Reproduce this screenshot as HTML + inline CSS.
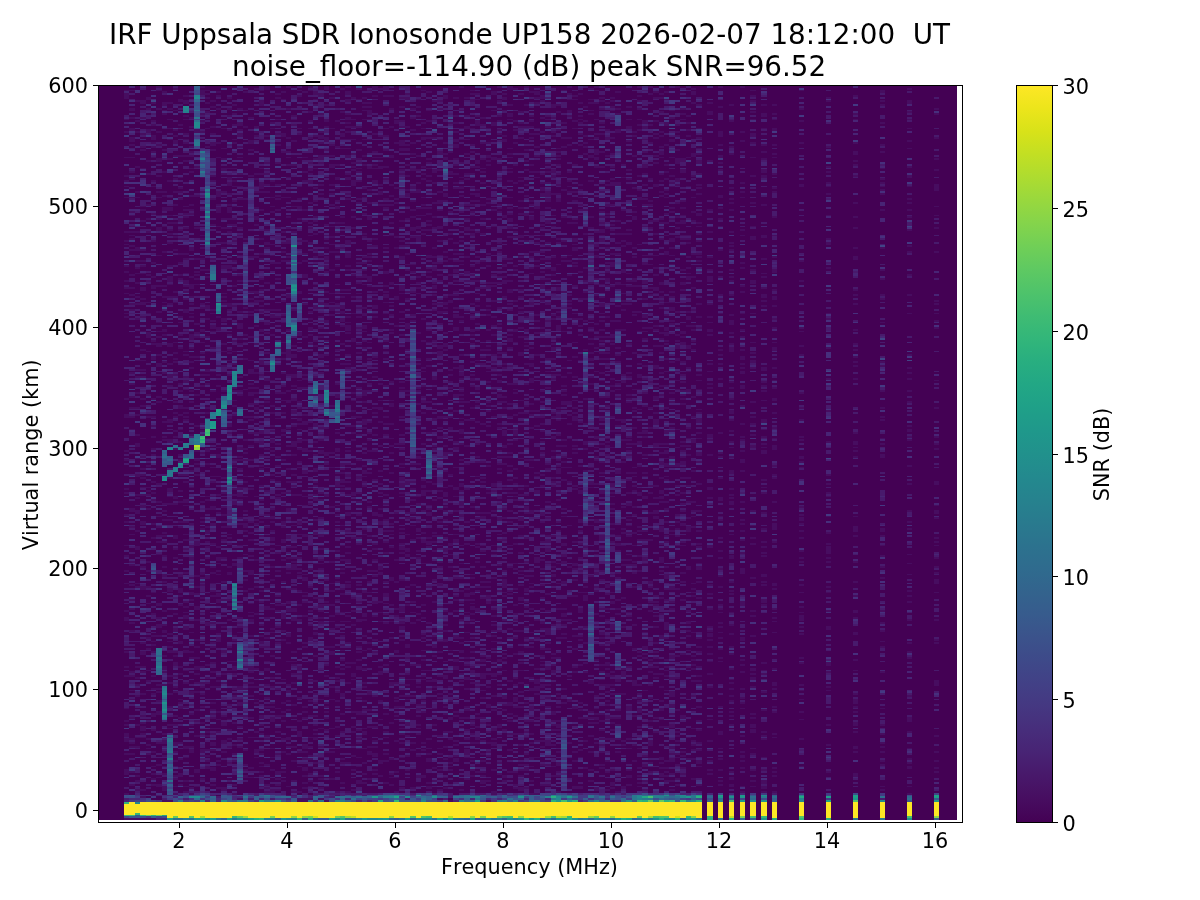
<!DOCTYPE html>
<html><head><meta charset="utf-8"><title>Ionogram</title>
<style>html,body{margin:0;padding:0;background:#fff}svg{display:block}text{fill:#000;font-kerning:none}</style>
</head><body>
<svg width="1200" height="900" viewBox="0 0 1200 900" font-family="DejaVu Sans, Liberation Sans, sans-serif">
<defs><clipPath id="ax"><rect x="98.5" y="85.5" width="864" height="737"/></clipPath>
<linearGradient id="cb" x1="0" y1="0" x2="0" y2="1"><stop offset="0.0000" stop-color="#fde725"/><stop offset="0.0312" stop-color="#ece51b"/><stop offset="0.0625" stop-color="#d8e219"/><stop offset="0.0938" stop-color="#c2df23"/><stop offset="0.1250" stop-color="#addc30"/><stop offset="0.1562" stop-color="#98d83e"/><stop offset="0.1875" stop-color="#84d44b"/><stop offset="0.2188" stop-color="#70cf57"/><stop offset="0.2500" stop-color="#5ec962"/><stop offset="0.2812" stop-color="#4ec36b"/><stop offset="0.3125" stop-color="#3fbc73"/><stop offset="0.3438" stop-color="#32b67a"/><stop offset="0.3750" stop-color="#28ae80"/><stop offset="0.4062" stop-color="#22a785"/><stop offset="0.4375" stop-color="#1fa088"/><stop offset="0.4688" stop-color="#1f988b"/><stop offset="0.5000" stop-color="#21918c"/><stop offset="0.5312" stop-color="#23898e"/><stop offset="0.5625" stop-color="#26828e"/><stop offset="0.5938" stop-color="#297a8e"/><stop offset="0.6250" stop-color="#2c728e"/><stop offset="0.6562" stop-color="#2f6b8e"/><stop offset="0.6875" stop-color="#33638d"/><stop offset="0.7188" stop-color="#375b8d"/><stop offset="0.7500" stop-color="#3b528b"/><stop offset="0.7812" stop-color="#3e4989"/><stop offset="0.8125" stop-color="#424086"/><stop offset="0.8438" stop-color="#453781"/><stop offset="0.8750" stop-color="#472d7b"/><stop offset="0.9062" stop-color="#482374"/><stop offset="0.9375" stop-color="#48186a"/><stop offset="0.9688" stop-color="#470d60"/><stop offset="1.0000" stop-color="#440154"/></linearGradient></defs>
<rect width="1200" height="900" fill="#fff"/>
<g clip-path="url(#ax)"><rect x="97.00" y="84.125" width="860.00" height="735.875" fill="#440154"/><g transform="translate(97.000,84.1250) scale(5.4000,1.8125)" fill="none" stroke-width="1" shape-rendering="crispEdges"><path stroke="#470d60" d="M5.5 3v1m0 1v3m0 11v1m0 6v1m0 13v1m0 9v1m0 2v1m0 2v1m0 5v1m0 18v1m0 4v1m0 1v1m0 11v1m0 2v1m0 4v1m0 3v1m0 2v1m0 10v1m0 1v1m0 44v1m0 8v2m0 18v1m0 4v1m0 15v1m0 1v1m0 11v1m0 3v1m0 12v1m0 5v1m0 7v1m0 6v1m0 14v1m0 3v2m0 17v1m0 7v1m0 4v1m0 17v1m0 6v1m0 1v1m0 4v2m0 1v2m0 6v1m0 8v3m0 10v1m0 13v1M6.5 3v1m0 9v2m0 3v1m0 5v2m0 3v3m0 1v1m0 6v1m0 7v1m0 3v1m0 9v1m0 7v1m0 1v1m0 5v1m0 2v1m0 1v1m0 1v1m0 3v1m0 1v1m0 13v1m0 6v1m0 3v1m0 4v1m0 2v1m0 34v1m0 5v1m0 6v1m0 5v1m0 4v1m0 6v1m0 36v1m0 6v2m0 2v1m0 5v1m0 3v1m0 14v1m0 1v1m0 10v1m0 7v1m0 4v1m0 7v1m0 3v1m0 22v1m0 1v1m0 7v1m0 4v1m0 9v1m0 11v1m0 1v1m0 1v1m0 3v1m0 9v1m0 6v1m0 18v1M7.5 9v1m0 10v1m0 5v1m0 18v1m0 13v1m0 2v1m0 18v1m0 8v2m0 5v1m0 3v1m0 2v1m0 4v1m0 7v1m0 3v1m0 7v1m0 22v1m0 4v1m0 3v1m0 8v1m0 7v1m0 3v1m0 10v1m0 4v2m0 6v1m0 8v2m0 9v1m0 1v1m0 6v2m0 9v1m0 8v2m0 18v1m0 1v1m0 43v1m0 5v1m0 3v1m0 5v1m0 15v1m0 6v1m0 4v1m0 15v1m0 2v1m0 4v1m0 15v1M8.5 9v2m0 7v1m0 8v1m0 6v1m0 1v1m0 9v1m0 20v1m0 1v1m0 5v1m0 15v1m0 5v1m0 2v1m0 3v1m0 7v2m0 4v1m0 1v2m0 6v1m0 7v1m0 9v1m0 5v1m0 4v1m0 3v1m0 11v1m0 3v1m0 17v1m0 9v1m0 6v1m0 2v1m0 1v1m0 4v1m0 3v1m0 5v2m0 7v2m0 23v1m0 10v2m0 17v1m0 11v1m0 4v2m0 6v1m0 2v1m0 11v1m0 11v1m0 3v1m0 1v3m0 1v1m0 1v1m0 28v1m0 3v1m0 11v1M9.5 0v1m0 6v2m0 4v1m0 11v2m0 15v1m0 6v1m0 16v1m0 7v1m0 6v1m0 23v1m0 2v1m0 11v1m0 5v1m0 10v3m0 7v1m0 23v1m0 11v1m0 26v1m0 11v1m0 1v1m0 1v1m0 7v1m0 28v1m0 4v1m0 8v1m0 4v1m0 3v1m0 18v1m0 5v1m0 11v1m0 5v1m0 31v1m0 2v1m0 1v1m0 2v1m0 35v1M10.5 10v1m0 9v1m0 1v1m0 5v3m0 1v1m0 1v1m0 2v1m0 2v1m0 12v1m0 2v1m0 14v1m0 6v1m0 7v1m0 11v1m0 7v1m0 4v2m0 28v1m0 1v1m0 6v2m0 21v1m0 9v1m0 4v1m0 5v1m0 6v1m0 2v1m0 2v1m0 11v1m0 5v1m0 3v1m0 12v1m0 7v1m0 29v1m0 11v1m0 11v1m0 2v1m0 1v1m0 3v1m0 12v1m0 6v1m0 2v1m0 10v2m0 7v1m0 11v1m0 7v1m0 3v1m0 2v1m0 2v1m0 5v1m0 12v1M11.5 1v1m0 1v1m0 9v1m0 12v1m0 6v1m0 7v2m0 7v1m0 8v1m0 2v1m0 9v1m0 1v1m0 4v2m0 13v1m0 16v1m0 13v1m0 5v1m0 4v1m0 2v1m0 3v2m0 4v1m0 4v2m0 16v1m0 2v1m0 44v1m0 9v1m0 7v1m0 5v1m0 4v1m0 2v1m0 6v1m0 26v2m0 6v1m0 3v2m0 4v1m0 26v1m0 1v1m0 1v1m0 4v1m0 5v2m0 15v1m0 11v1m0 6v1m0 3v2M12.5 0v1m0 3v1m0 5v2m0 2v1m0 1v1m0 19v1m0 11v1m0 10v1m0 1v1m0 6v2m0 8v1m0 13v1m0 18v1m0 5v1m0 2v1m0 1v1m0 12v2m0 1v1m0 14v1m0 5v1m0 26v1m0 7v1m0 1v1m0 34v1m0 3v1m0 4v1m0 6v1m0 1v1m0 2v1m0 7v1m0 5v1m0 3v2m0 2v1m0 15v1m0 7v1m0 2v2m0 12v1m0 5v2m0 1v1m0 6v1m0 26v1m0 3v2m0 4v1m0 1v1m0 5v1m0 3v1m0 6v3m0 5v1M13.5 10v1m0 2v1m0 5v1m0 4v1m0 5v1m0 10v1m0 11v1m0 8v1m0 5v2m0 2v1m0 3v1m0 3v1m0 1v1m0 4v1m0 12v1m0 5v3m0 1v1m0 6v1m0 3v1m0 21v2m0 9v1m0 5v2m0 1v1m0 2v1m0 18v2m0 9v2m0 19v1m0 5v2m0 2v1m0 3v1m0 8v1m0 37v2m0 23v1m0 3v1m0 2v1m0 1v2m0 12v1m0 3v1m0 5v1m0 6v1m0 9v1m0 1v1m0 39v1M14.5 0v1m0 1v1m0 11v1m0 10v1m0 2v1m0 2v2m0 6v1m0 12v1m0 6v1m0 6v1m0 9v1m0 7v1m0 6v1m0 22v1m0 2v1m0 2v1m0 21v1m0 5v1m0 2v1m0 1v1m0 6v1m0 14v1m0 5v1m0 1v1m0 7v1m0 2v1m0 6v1m0 12v1m0 12v2m0 2v1m0 17v2m0 5v1m0 4v1m0 30v1m0 7v2m0 11v1m0 1v1m0 3v2m0 5v1m0 5v1m0 2v1m0 12v1m0 4v1m0 9v2m0 3v1m0 4v1m0 2v1m0 4v1m0 1v1m0 3v1m0 3v1M15.5 8v2m0 12v1m0 16v1m0 11v1m0 5v1m0 1v1m0 3v1m0 8v1m0 1v2m0 2v1m0 1v1m0 4v1m0 7v1m0 4v1m0 6v1m0 1v1m0 20v1m0 2v1m0 6v1m0 6v1m0 19v1m0 3v1m0 7v2m0 3v1m0 7v1m0 6v1m0 6v1m0 2v1m0 7v1m0 8v1m0 5v1m0 10v1m0 2v1m0 25v2m0 6v3m0 1v1m0 4v1m0 9v1m0 9v2m0 12v1m0 3v1m0 13v1m0 1v1m0 1v2m0 4v1m0 13v1m0 8v1m0 7v2m0 4v1M16.5 6v1m0 2v2m0 6v1m0 1v1m0 7v1m0 2v1m0 1v1m0 6v1m0 2v1m0 24v1m0 1v1m0 1v1m0 1v1m0 5v1m0 2v1m0 2v1m0 7v1m0 2v1m0 7v1m0 3v2m0 1v1m0 2v1m0 3v1m0 5v2m0 10v1m0 10v1m0 1v1m0 11v1m0 1v2m0 3v1m0 2v1m0 6v1m0 2v1m0 1v1m0 1v1m0 29v1m0 3v1m0 9v2m0 1v1m0 8v1m0 6v1m0 2v1m0 4v1m0 12v1m0 15v1m0 2v1m0 2v1m0 1v2m0 4v2m0 11v2m0 9v1m0 6v1m0 12v1m0 21v2m0 4v1m0 12v1m0 2v1m0 2v1M17.5 18v1m0 4v1m0 10v1m0 2v1m0 1v1m0 6v1m0 1v1m0 12v1m0 4v1m0 2v1m0 1v1m0 18v2m0 14v1m0 3v3m0 4v1m0 3v1m0 4v1m0 1v1m0 7v1m0 1v3m0 4v1m0 4v1m0 2v1m0 2v1m0 12v1m0 5v1m0 17v1m0 19v1m0 8v1m0 9v1m0 9v1m0 11v2m0 5v2m0 9v1m0 5v1m0 1v2m0 2v1m0 17v1m0 4v1m0 5v1m0 2v1m0 18v2m0 10v1m0 5v1m0 11v1m0 1v2m0 19v1m0 2v1M18.5 25v2m0 18v1m0 15v1m0 17v1m0 16v1m0 6v1m0 1v1m0 1v1m0 2v1m0 21v1m0 4v1m0 1v1m0 10v1m0 20v1m0 16v1m0 13v1m0 4v1m0 1v1m0 1v1m0 3v1m0 36v3m0 16v1m0 5v1m0 3v1m0 6v2m0 5v1m0 10v1m0 3v1m0 5v1m0 4v2m0 2v1m0 4v1m0 4v1m0 9v1m0 5v1m0 7v1m0 18v2m0 7v1M19.5 1v1m0 1v3m0 10v1m0 3v1m0 5v1m0 24v1m0 7v1m0 7v1m0 15v1m0 1v1m0 4v1m0 5v1m0 5v1m0 18v1m0 1v1m0 11v2m0 5v1m0 5v1m0 2v1m0 6v1m0 1v1m0 2v1m0 2v1m0 20v1m0 3v1m0 8v1m0 2v1m0 26v1m0 8v1m0 1v1m0 3v1m0 11v1m0 11v2m0 1v1m0 1v1m0 1v1m0 3v1m0 2v1m0 7v1m0 12v1m0 16v1m0 8v1m0 1v1m0 3v1m0 6v1m0 8v1m0 5v1m0 8v2m0 1v1m0 12v1M20.5 3v1m0 1v1m0 1v1m0 2v1m0 4v1m0 8v1m0 9v1m0 67v1m0 3v1m0 15v2m0 5v1m0 9v1m0 7v1m0 9v2m0 1v1m0 4v1m0 12v1m0 2v1m0 13v1m0 5v2m0 6v1m0 11v1m0 5v1m0 1v1m0 4v1m0 9v1m0 1v2m0 4v1m0 2v1m0 5v1m0 9v2m0 13v1m0 2v1m0 7v2m0 21v1m0 6v1m0 2v1m0 26v1m0 1v1m0 7v1m0 2v1m0 2v1m0 2v2M21.5 9v1m0 2v1m0 10v1m0 3v1m0 4v2m0 2v1m0 8v1m0 4v1m0 2v1m0 9v1m0 13v1m0 18v1m0 2v1m0 24v1m0 1v1m0 3v1m0 2v2m0 1v1m0 8v1m0 12v1m0 10v1m0 41v1m0 4v1m0 2v1m0 7v1m0 5v2m0 7v2m0 9v1m0 5v1m0 4v1m0 1v1m0 2v1m0 5v1m0 3v1m0 2v1m0 11v1m0 2v1m0 2v1m0 7v1m0 1v1m0 8v1m0 4v1m0 7v1m0 8v1m0 3v1m0 1v1m0 1v1m0 5v1m0 2v1m0 4v2m0 2v1m0 9v2m0 7v1M22.5 0v1m0 3v1m0 1v1m0 6v1m0 18v1m0 7v1m0 18v3m0 4v1m0 1v3m0 7v1m0 8v1m0 40v1m0 5v2m0 19v1m0 4v1m0 5v1m0 6v1m0 10v1m0 15v1m0 3v2m0 10v1m0 9v1m0 9v1m0 18v1m0 5v2m0 1v1m0 3v1m0 1v1m0 10v2m0 1v2m0 17v1m0 1v3m0 18v1m0 2v1m0 2v1m0 1v1m0 11v1m0 3v1m0 4v1m0 1v1m0 13v1m0 1v1m0 1v1m0 12v1M23.5 24v1m0 10v1m0 5v1m0 4v2m0 1v1m0 9v1m0 14v1m0 4v1m0 7v1m0 2v1m0 9v2m0 13v1m0 1v1m0 1v1m0 1v1m0 7v2m0 12v1m0 3v1m0 7v1m0 13v1m0 1v1m0 17v1m0 27v1m0 4v2m0 1v1m0 7v1m0 3v1m0 6v1m0 6v1m0 9v1m0 12v1m0 9v1m0 6v1m0 7v1m0 12v2m0 11v1m0 4v1m0 17v1m0 3v2m0 8v2m0 4v1m0 19v2M24.5 0v1m0 6v1m0 5v1m0 3v1m0 7v1m0 20v1m0 4v2m0 1v2m0 4v1m0 5v1m0 1v3m0 3v1m0 2v1m0 1v1m0 1v1m0 6v1m0 11v2m0 19v2m0 1v1m0 1v1m0 11v1m0 7v1m0 1v1m0 3v1m0 7v1m0 22v2m0 2v2m0 3v1m0 51v1m0 3v1m0 1v1m0 2v1m0 12v1m0 2v2m0 13v1m0 1v2m0 7v1m0 14v1m0 7v1m0 4v1m0 18v1m0 1v1m0 5v1m0 5v1m0 4v1m0 3v1m0 5v1m0 2v1M25.5 11v1m0 4v1m0 5v1m0 7v1m0 1v1m0 13v1m0 6v1m0 2v1m0 7v1m0 2v1m0 6v1m0 2v1m0 6v1m0 1v1m0 10v1m0 4v1m0 8v1m0 10v1m0 8v1m0 9v1m0 5v1m0 6v1m0 2v1m0 9v1m0 1v1m0 4v1m0 2v1m0 4v1m0 24v1m0 1v1m0 1v1m0 9v1m0 1v1m0 2v1m0 3v2m0 32v2m0 38v1m0 1v1m0 11v1m0 2v3m0 1v1m0 7v1m0 3v1m0 1v1m0 8v1m0 3v1m0 11v1m0 4v1m0 3v1m0 3v1m0 8v1m0 4v1M26.5 13v1m0 7v2m0 2v1m0 1v2m0 5v1m0 5v1m0 8v1m0 6v1m0 6v1m0 15v1m0 3v1m0 10v1m0 10v1m0 2v1m0 5v1m0 10v1m0 6v3m0 5v1m0 2v1m0 17v1m0 7v1m0 1v1m0 28v2m0 3v1m0 1v1m0 4v1m0 9v2m0 1v3m0 1v1m0 2v1m0 6v1m0 2v1m0 11v1m0 6v1m0 15v1m0 9v1m0 6v1m0 2v1m0 1v1m0 2v1m0 29v2m0 5v1m0 1v2m0 5v1m0 5v1m0 6v1m0 3v1m0 28v1M27.5 4v1m0 9v1m0 8v1m0 34v1m0 4v1m0 21v1m0 37v1m0 14v1m0 3v1m0 8v1m0 16v1m0 14v1m0 12v1m0 4v1m0 1v1m0 3v1m0 8v1m0 2v1m0 2v1m0 4v1m0 7v1m0 4v1m0 1v3m0 1v1m0 12v1m0 8v1m0 4v1m0 5v1m0 22v1m0 18v1m0 8v1m0 2v1m0 14v1m0 18v1m0 7v1m0 2v1m0 2v2M28.5 18v1m0 12v2m0 3v1m0 13v1m0 44v1m0 18v1m0 3v1m0 1v1m0 4v1m0 1v1m0 11v1m0 12v1m0 4v3m0 5v1m0 1v1m0 2v2m0 4v1m0 6v1m0 1v1m0 6v1m0 6v1m0 7v1m0 3v1m0 11v1m0 14v1m0 2v1m0 5v1m0 3v1m0 8v1m0 7v3m0 7v1m0 7v1m0 4v1m0 1v1m0 1v2m0 7v1m0 8v1m0 7v2m0 1v1m0 5v1m0 1v1m0 4v1m0 11v1m0 10v1m0 16v1m0 4v1M29.5 2v1m0 20v1m0 2v1m0 1v1m0 20v1m0 2v1m0 3v1m0 2v1m0 8v1m0 4v2m0 2v1m0 10v1m0 6v1m0 18v2m0 3v2m0 3v1m0 8v1m0 9v1m0 12v1m0 2v1m0 3v1m0 3v1m0 2v1m0 2v1m0 2v1m0 1v2m0 4v1m0 7v1m0 4v1m0 8v1m0 20v1m0 4v2m0 6v1m0 1v1m0 19v1m0 10v1m0 3v1m0 6v1m0 7v1m0 29v1m0 9v1m0 6v1m0 1v1m0 15v1m0 2v1m0 6v2m0 2v1M30.5 3v1m0 5v3m0 18v1m0 15v1m0 2v1m0 4v4m0 1v1m0 9v1m0 15v1m0 7v1m0 2v1m0 10v1m0 5v1m0 1v1m0 1v1m0 1v1m0 2v1m0 2v1m0 9v2m0 15v3m0 5v1m0 16v1m0 13v2m0 4v2m0 1v1m0 3v1m0 2v1m0 2v1m0 1v1m0 8v1m0 1v1m0 5v1m0 9v1m0 1v1m0 7v1m0 19v1m0 9v1m0 5v1m0 12v1m0 5v1m0 2v2m0 1v1m0 21v1m0 3v1m0 11v2m0 3v1m0 4v1m0 8v1m0 1v1m0 4v1m0 1v1m0 2v1m0 1v1m0 5v1M31.5 1v2m0 25v1m0 1v1m0 12v1m0 3v1m0 1v1m0 1v1m0 3v1m0 3v1m0 20v1m0 2v1m0 3v2m0 1v1m0 18v1m0 14v1m0 6v2m0 4v1m0 10v1m0 13v2m0 9v1m0 1v1m0 25v1m0 9v1m0 10v1m0 1v1m0 12v1m0 1v1m0 4v1m0 7v1m0 6v1m0 5v1m0 12v1m0 9v2m0 4v1m0 10v1m0 4v1m0 7v1m0 3v2m0 7v1m0 2v1m0 3v1m0 4v1m0 15v1m0 1v1m0 13v1m0 10v1m0 1v1m0 1v1M32.5 21v1m0 2v1m0 28v1m0 8v1m0 4v1m0 2v1m0 17v1m0 5v1m0 3v1m0 11v1m0 13v1m0 2v2m0 9v1m0 24v1m0 13v1m0 3v1m0 6v1m0 2v1m0 4v2m0 2v1m0 1v1m0 12v1m0 2v1m0 15v1m0 3v2m0 1v1m0 4v1m0 3v2m0 4v1m0 9v1m0 6v1m0 15v1m0 10v1m0 1v1m0 12v1m0 11v1m0 4v1m0 8v1m0 1v1m0 5v3m0 14v1m0 4v1m0 6v1m0 10v2M33.5 5v1m0 1v1m0 11v1m0 7v1m0 5v1m0 9v1m0 11v1m0 5v1m0 1v1m0 5v1m0 9v1m0 18v1m0 8v1m0 16v1m0 3v1m0 23v1m0 17v1m0 13v1m0 13v1m0 6v1m0 4v1m0 8v1m0 6v1m0 1v1m0 25v1m0 3v1m0 9v1m0 11v1m0 1v1m0 4v1m0 2v1m0 8v1m0 8v1m0 24v1m0 10v1m0 3v1m0 8v1m0 11v1m0 9v2m0 2v1m0 2v1m0 2v1M34.5 4v1m0 3v1m0 18v2m0 8v1m0 24v1m0 18v1m0 5v1m0 4v1m0 4v1m0 21v1m0 7v1m0 3v1m0 10v1m0 5v1m0 2v1m0 7v1m0 6v1m0 3v1m0 3v1m0 6v1m0 2v1m0 5v2m0 1v1m0 13v1m0 17v1m0 5v1m0 9v2m0 1v1m0 6v2m0 9v1m0 11v1m0 12v1m0 4v3m0 6v1m0 4v1m0 21v1m0 12v1m0 4v1m0 1v1m0 2v1m0 9v1m0 6v1m0 10v1m0 4v1M35.5 1v1m0 11v1m0 15v1m0 7v1m0 2v1m0 3v1m0 6v1m0 10v1m0 10v1m0 5v1m0 6v2m0 7v1m0 1v1m0 1v1m0 12v1m0 3v2m0 17v1m0 10v5m0 1v1m0 7v1m0 8v1m0 4v2m0 13v1m0 9v1m0 12v1m0 6v1m0 5v1m0 8v2m0 4v1m0 8v2m0 4v1m0 5v1m0 5v1m0 1v1m0 8v1m0 6v2m0 2v2m0 12v2m0 3v1m0 9v1m0 12v1m0 2v2m0 4v1m0 4v1m0 14v2m0 3v1m0 3v1m0 17v1m0 4v1M36.5 0v1m0 16v1m0 1v1m0 2v1m0 8v1m0 12v1m0 22v1m0 13v1m0 39v1m0 2v1m0 19v1m0 4v2m0 9v2m0 4v1m0 6v2m0 5v2m0 6v1m0 8v3m0 4v1m0 10v1m0 3v1m0 1v1m0 4v1m0 16v1m0 11v1m0 5v1m0 1v1m0 1v3m0 10v1m0 10v2m0 3v2m0 17v1m0 4v1m0 1v1m0 4v1m0 4v1m0 11v1m0 12v1m0 9v1m0 7v1m0 10v1m0 5v1M37.5 3v1m0 2v1m0 17v1m0 2v1m0 28v1m0 6v1m0 3v2m0 5v1m0 11v1m0 11v1m0 15v2m0 21v2m0 7v1m0 16v1m0 3v2m0 6v1m0 2v1m0 5v2m0 1v1m0 2v1m0 5v2m0 3v1m0 6v1m0 2v1m0 14v1m0 14v2m0 5v1m0 12v1m0 5v1m0 1v1m0 1v1m0 7v1m0 7v1m0 7v2m0 24v3m0 1v1m0 2v1m0 9v1m0 12v1m0 5v3m0 8v1m0 7v1m0 13v1m0 3v2M38.5 4v1m0 35v1m0 7v1m0 4v1m0 8v1m0 6v1m0 5v1m0 10v1m0 6v1m0 3v1m0 7v2m0 14v1m0 17v1m0 20v1m0 1v1m0 4v1m0 14v1m0 3v2m0 8v1m0 4v2m0 10v2m0 12v1m0 4v1m0 15v2m0 20v1m0 1v2m0 6v1m0 1v1m0 2v1m0 7v1m0 14v1m0 1v1m0 32v1m0 2v1m0 2v1m0 14v3m0 1v1m0 3v1m0 4v2m0 2v1m0 3v1m0 2v1m0 5v2M39.5 1v1m0 1v1m0 11v1m0 4v1m0 3v1m0 4v1m0 4v1m0 8v1m0 2v2m0 1v1m0 3v2m0 1v1m0 8v1m0 10v1m0 2v1m0 3v1m0 3v2m0 36v1m0 3v1m0 4v2m0 2v1m0 4v1m0 27v1m0 6v1m0 7v1m0 2v1m0 8v1m0 3v1m0 24v1m0 3v1m0 11v1m0 10v1m0 12v1m0 9v1m0 12v1m0 3v1m0 3v1m0 6v2m0 11v1m0 10v1m0 10v1m0 7v1m0 11v1m0 4v1m0 4v1m0 1v1m0 3v1m0 3v1m0 3v1m0 2v1m0 6v1M40.5 4v2m0 2v1m0 2v1m0 16v1m0 12v1m0 4v1m0 10v1m0 6v1m0 4v1m0 3v1m0 1v1m0 6v1m0 8v1m0 3v1m0 14v1m0 4v1m0 6v2m0 17v1m0 2v1m0 11v1m0 1v1m0 2v1m0 9v1m0 12v1m0 2v2m0 8v1m0 2v1m0 3v1m0 7v2m0 5v1m0 1v1m0 1v1m0 2v1m0 1v2m0 10v1m0 6v2m0 12v1m0 2v1m0 18v1m0 5v1m0 9v1m0 2v2m0 3v1m0 7v1m0 13v1m0 6v1m0 4v1m0 6v1m0 4v1m0 2v1m0 1v1m0 1v2m0 12v1M41.5 5v2m0 9v1m0 7v1m0 1v1m0 1v2m0 2v1m0 6v3m0 1v1m0 11v1m0 4v1m0 1v1m0 30v2m0 20v1m0 4v2m0 1v1m0 4v1m0 5v1m0 4v1m0 9v2m0 8v1m0 23v1m0 5v1m0 3v1m0 2v1m0 5v2m0 21v1m0 3v1m0 9v1m0 8v2m0 4v1m0 1v1m0 5v1m0 1v1m0 2v1m0 1v1m0 13v1m0 3v2m0 1v1m0 3v1m0 1v2m0 6v1m0 5v1m0 12v1m0 15v1m0 15v1m0 9v1m0 5v1m0 9v1m0 1v1m0 4v1m0 5v1M42.5 1v2m0 8v1m0 7v2m0 2v1m0 5v3m0 4v1m0 2v1m0 37v1m0 5v1m0 1v1m0 4v1m0 4v2m0 1v1m0 1v2m0 1v1m0 10v1m0 6v1m0 8v2m0 9v1m0 7v1m0 5v1m0 2v1m0 19v1m0 10v1m0 13v2m0 1v1m0 2v1m0 12v1m0 3v2m0 15v1m0 4v1m0 22v1m0 1v1m0 11v1m0 1v1m0 9v1m0 12v1m0 3v1m0 5v1m0 5v1m0 3v1m0 6v1m0 3v1m0 1v1m0 2v1m0 2v1m0 6v1m0 11v1m0 18v1m0 7v1M43.5 7v1m0 16v1m0 8v1m0 5v1m0 4v2m0 9v1m0 4v1m0 5v1m0 11v1m0 5v1m0 3v1m0 3v1m0 9v1m0 12v1m0 4v1m0 2v2m0 2v1m0 49v1m0 25v1m0 7v1m0 21v1m0 29v1m0 11v1m0 3v1m0 7v1m0 5v1m0 2v1m0 3v1m0 1v1m0 7v1m0 2v2m0 17v1m0 6v1m0 15v1m0 12v1m0 14v1M44.5 20v1m0 9v1m0 3v1m0 9v1m0 6v2m0 4v1m0 6v1m0 2v2m0 7v1m0 13v1m0 1v1m0 1v1m0 1v1m0 3v1m0 9v1m0 3v1m0 3v1m0 2v1m0 1v1m0 1v1m0 4v1m0 1v1m0 13v1m0 4v1m0 13v1m0 5v2m0 19v1m0 8v2m0 2v1m0 8v1m0 4v3m0 10v1m0 4v1m0 3v1m0 3v1m0 11v1m0 3v1m0 10v1m0 1v1m0 9v1m0 7v1m0 6v1m0 21v1m0 5v1m0 1v1m0 3v1m0 1v1m0 4v1m0 9v1m0 3v1m0 4v1m0 6v1m0 12v1m0 10v1m0 1v1M45.5 2v1m0 12v1m0 11v2m0 1v1m0 4v1m0 37v1m0 2v1m0 13v1m0 22v1m0 3v1m0 4v2m0 1v2m0 2v2m0 2v1m0 9v1m0 10v1m0 13v1m0 10v1m0 29v2m0 1v1m0 1v1m0 3v2m0 1v1m0 1v1m0 3v1m0 15v1m0 10v1m0 7v1m0 4v1m0 1v1m0 8v1m0 2v1m0 9v1m0 4v1m0 7v1m0 1v1m0 2v1m0 2v1m0 4v1m0 4v1m0 13v2m0 9v1m0 9v1m0 14v1m0 1v1m0 10v1M46.5 1v1m0 2v2m0 2v2m0 6v1m0 1v2m0 1v1m0 1v1m0 2v1m0 3v1m0 4v1m0 3v2m0 8v1m0 1v2m0 7v1m0 2v1m0 22v3m0 4v3m0 4v1m0 1v1m0 10v1m0 14v1m0 2v1m0 1v3m0 1v1m0 11v1m0 4v1m0 1v1m0 31v1m0 13v1m0 6v1m0 5v2m0 2v1m0 2v1m0 3v1m0 5v1m0 3v2m0 8v1m0 8v1m0 2v1m0 3v2m0 10v1m0 1v2m0 15v1m0 2v1m0 11v1m0 10v1m0 1v1m0 8v1m0 43v1m0 15v1M47.5 7v1m0 11v1m0 3v1m0 6v1m0 7v1m0 2v1m0 1v1m0 1v1m0 1v1m0 5v3m0 17v1m0 5v1m0 25v1m0 11v1m0 8v1m0 13v2m0 15v2m0 11v1m0 3v1m0 5v1m0 2v1m0 4v1m0 3v1m0 3v1m0 9v1m0 18v2m0 23v1m0 32v1m0 6v1m0 7v1m0 20v1m0 5v2m0 1v1m0 17v1m0 7v1m0 2v1m0 12v1m0 7v1m0 10v1M48.5 2v1m0 5v1m0 14v1m0 12v1m0 4v1m0 1v1m0 2v1m0 1v1m0 1v1m0 2v1m0 9v1m0 1v1m0 32v1m0 7v1m0 2v1m0 5v1m0 2v1m0 4v1m0 4v1m0 5v1m0 1v1m0 1v1m0 4v1m0 4v1m0 18v1m0 1v1m0 2v1m0 10v1m0 3v1m0 5v1m0 6v1m0 6v1m0 3v1m0 4v2m0 7v1m0 4v1m0 6v1m0 12v1m0 2v1m0 22v1m0 4v1m0 3v1m0 9v2m0 4v1m0 8v1m0 2v1m0 3v1m0 3v2m0 15v1m0 7v2m0 8v1m0 2v1m0 1v1m0 1v1m0 2v1m0 4v1m0 4v1m0 7v2M49.5 7v1m0 2v1m0 1v1m0 1v1m0 4v1m0 10v1m0 8v1m0 4v1m0 12v1m0 4v1m0 8v1m0 10v1m0 1v1m0 10v1m0 2v1m0 3v1m0 2v2m0 3v1m0 12v1m0 2v2m0 5v2m0 1v1m0 4v1m0 3v1m0 23v3m0 3v1m0 9v3m0 1v1m0 10v1m0 2v1m0 6v1m0 2v2m0 1v1m0 2v1m0 1v1m0 23v1m0 2v1m0 22v1m0 7v2m0 11v2m0 1v1m0 8v1m0 7v1m0 9v1m0 7v1m0 1v1m0 7v1m0 4v1m0 1v1m0 7v1m0 1v2m0 7v1m0 7v1m0 5v1m0 4v1M50.5 3v1m0 6v1m0 1v1m0 1v3m0 2v1m0 10v1m0 14v2m0 11v1m0 1v1m0 4v1m0 7v2m0 11v1m0 2v1m0 3v1m0 1v1m0 1v1m0 2v1m0 5v3m0 2v1m0 6v1m0 7v1m0 15v1m0 5v1m0 2v1m0 3v1m0 9v1m0 3v1m0 16v1m0 5v1m0 3v1m0 5v1m0 11v1m0 15v1m0 2v1m0 9v1m0 5v1m0 18v1m0 5v1m0 5v1m0 21v1m0 5v1m0 2v1m0 23v2m0 8v1m0 8v1m0 10v1m0 2v2m0 13v1M51.5 0v3m0 3v1m0 20v1m0 9v1m0 2v1m0 3v1m0 1v1m0 6v2m0 17v1m0 12v1m0 3v1m0 24v1m0 3v1m0 3v2m0 2v1m0 1v1m0 21v1m0 10v1m0 16v1m0 2v1m0 11v1m0 8v1m0 4v1m0 10v1m0 17v2m0 15v1m0 2v1m0 5v1m0 5v1m0 2v1m0 13v2m0 4v1m0 1v1m0 12v1m0 6v1m0 20v1m0 2v1m0 16v1m0 7v1m0 2v1m0 3v2m0 5v1m0 1v1m0 1v1M52.5 2v1m0 25v1m0 11v1m0 4v2m0 8v1m0 3v2m0 5v1m0 34v1m0 38v1m0 1v1m0 22v1m0 8v1m0 3v2m0 6v1m0 8v1m0 3v1m0 13v1m0 6v1m0 4v1m0 8v1m0 2v2m0 2v2m0 21v1m0 1v2m0 1v2m0 14v1m0 5v1m0 4v1m0 21v1m0 2v1m0 2v2m0 14v1m0 9v1m0 22v2m0 6v1M53.5 1v2m0 3v1m0 17v1m0 3v1m0 7v1m0 3v1m0 4v1m0 6v1m0 10v1m0 2v1m0 1v1m0 21v1m0 12v2m0 6v1m0 2v1m0 1v2m0 2v1m0 5v1m0 14v1m0 5v1m0 3v1m0 14v1m0 16v1m0 3v1m0 5v1m0 1v1m0 26v1m0 3v1m0 4v1m0 8v1m0 2v1m0 2v1m0 5v1m0 5v1m0 15v1m0 6v2m0 3v1m0 5v1m0 4v1m0 22v1m0 22v1m0 3v1m0 9v1m0 2v1m0 8v1m0 3v1m0 11v1M54.5 0v1m0 5v1m0 6v1m0 9v1m0 15v2m0 14v1m0 5v1m0 4v1m0 9v1m0 6v1m0 25v2m0 11v1m0 4v1m0 7v1m0 1v1m0 26v1m0 9v1m0 1v2m0 9v1m0 7v1m0 3v1m0 3v1m0 10v1m0 27v1m0 3v1m0 1v1m0 6v1m0 16v2m0 13v1m0 8v1m0 8v1m0 24v2m0 12v1m0 7v1m0 19v1m0 7v1m0 1v1m0 3v1M55.5 20v2m0 10v1m0 24v1m0 5v1m0 1v1m0 18v1m0 5v1m0 26v2m0 14v1m0 64v1m0 37v1m0 25v1m0 11v1m0 14v1m0 3v1m0 18v2m0 16v1m0 7v1m0 1v1m0 2v1m0 4v1m0 13v1m0 16v1m0 2v1m0 7v1M56.5 7v1m0 4v1m0 7v1m0 2v1m0 7v3m0 1v2m0 10v1m0 1v1m0 7v1m0 17v1m0 3v1m0 6v1m0 2v1m0 5v2m0 9v1m0 4v3m0 1v1m0 9v1m0 3v1m0 8v1m0 4v1m0 20v1m0 2v1m0 1v1m0 8v1m0 4v1m0 9v1m0 4v1m0 2v1m0 7v1m0 1v1m0 5v2m0 1v3m0 2v1m0 1v1m0 17v1m0 1v1m0 5v1m0 1v2m0 1v1m0 14v1m0 14v3m0 3v1m0 1v2m0 1v2m0 3v1m0 1v1m0 24v1m0 5v1m0 5v1m0 11v1m0 2v1m0 4v1m0 7v1m0 16v1M57.5 5v1m0 1v2m0 14v1m0 9v1m0 1v2m0 7v1m0 5v1m0 7v1m0 1v2m0 5v1m0 6v1m0 14v1m0 3v1m0 5v1m0 2v1m0 11v1m0 3v1m0 13v3m0 11v1m0 3v1m0 4v1m0 13v1m0 1v1m0 18v1m0 28v2m0 15v1m0 2v1m0 8v1m0 7v2m0 1v2m0 16v1m0 9v1m0 21v2m0 5v1m0 8v1m0 2v1m0 2v1m0 5v1m0 1v1m0 10v1m0 1v2m0 5v1m0 6v1m0 3v1m0 7v1M58.5 13v1m0 4v1m0 6v1m0 6v1m0 5v1m0 7v2m0 8v2m0 1v1m0 4v1m0 4v1m0 3v1m0 5v2m0 3v1m0 14v1m0 3v1m0 10v1m0 12v1m0 2v1m0 3v1m0 74v1m0 9v1m0 3v1m0 3v1m0 1v1m0 6v1m0 2v1m0 3v1m0 7v1m0 14v1m0 9v1m0 8v1m0 5v1m0 5v1m0 22v1m0 7v1m0 8v1m0 25v1m0 3v1m0 20v1M59.5 8v1m0 3v1m0 4v1m0 21v1m0 7v1m0 6v1m0 3v2m0 8v1m0 3v1m0 5v2m0 4v3m0 19v1m0 2v1m0 2v1m0 2v1m0 21v1m0 13v1m0 2v1m0 12v1m0 1v1m0 6v1m0 3v1m0 5v1m0 8v1m0 7v1m0 1v2m0 2v1m0 17v1m0 3v2m0 7v1m0 4v2m0 3v1m0 6v1m0 3v1m0 30v1m0 2v1m0 24v1m0 9v1m0 1v1m0 9v1m0 1v2m0 2v1m0 4v1m0 1v1m0 2v1m0 11v1m0 10v2m0 4v1M60.5 0v1m0 2v1m0 17v1m0 2v1m0 4v2m0 14v1m0 3v1m0 2v1m0 9v1m0 3v1m0 1v1m0 3v1m0 7v1m0 1v1m0 5v1m0 15v1m0 7v1m0 16v1m0 11v1m0 14v1m0 1v1m0 7v1m0 5v1m0 1v2m0 5v1m0 8v1m0 7v1m0 7v1m0 11v1m0 2v2m0 1v3m0 5v1m0 2v1m0 11v1m0 3v2m0 11v1m0 5v1m0 16v1m0 6v1m0 8v1m0 1v1m0 6v1m0 4v1m0 5v1m0 2v1m0 1v1m0 11v1m0 1v1m0 3v1m0 16v1m0 3v1m0 13v2M61.5 4v1m0 9v1m0 5v1m0 8v1m0 11v1m0 1v1m0 2v1m0 3v1m0 2v1m0 2v1m0 2v1m0 8v1m0 2v1m0 3v1m0 1v1m0 2v1m0 13v2m0 5v1m0 1v1m0 2v1m0 26v1m0 1v1m0 6v1m0 8v1m0 3v1m0 19v1m0 16v1m0 2v1m0 23v1m0 4v1m0 7v1m0 1v1m0 1v2m0 12v1m0 1v2m0 1v1m0 8v1m0 12v1m0 19v1m0 2v1m0 1v1m0 9v1m0 10v1m0 5v1m0 3v1m0 27v1m0 4v1m0 2v1m0 2v2m0 11v1m0 1v2M62.5 9v1m0 9v1m0 9v1m0 17v2m0 5v1m0 10v1m0 7v1m0 5v1m0 10v1m0 4v1m0 2v1m0 2v2m0 6v1m0 1v2m0 3v1m0 4v1m0 2v1m0 16v1m0 1v1m0 14v1m0 2v2m0 21v2m0 13v1m0 1v1m0 6v1m0 1v1m0 5v1m0 3v1m0 8v1m0 8v1m0 8v1m0 1v1m0 2v1m0 4v1m0 15v1m0 11v1m0 16v1m0 1v1m0 4v2m0 4v1m0 12v2m0 2v1m0 1v1m0 5v1m0 3v1m0 8v1m0 23v1m0 6v1M63.5 9v1m0 3v1m0 16v1m0 6v2m0 8v1m0 11v1m0 4v2m0 3v1m0 8v2m0 6v1m0 7v1m0 3v1m0 6v1m0 2v1m0 12v1m0 3v2m0 5v1m0 11v2m0 1v3m0 33v2m0 4v1m0 4v2m0 11v1m0 4v1m0 9v1m0 1v1m0 3v1m0 5v1m0 6v1m0 7v1m0 4v1m0 8v1m0 2v1m0 1v1m0 6v2m0 11v1m0 12v1m0 5v1m0 5v1m0 12v1m0 9v1m0 1v1m0 20v1m0 6v1m0 2v1m0 8v1m0 10v1m0 4v1M64.5 6v2m0 24v1m0 5v1m0 1v2m0 13v1m0 1v1m0 2v2m0 2v1m0 8v1m0 18v1m0 2v1m0 1v1m0 12v1m0 6v1m0 2v2m0 1v1m0 1v1m0 11v1m0 5v2m0 1v1m0 19v1m0 4v1m0 7v1m0 3v1m0 9v2m0 4v1m0 3v2m0 8v1m0 8v1m0 2v3m0 2v1m0 2v1m0 1v1m0 4v1m0 2v1m0 6v1m0 5v2m0 32v1m0 5v1m0 1v1m0 2v1m0 4v2m0 10v1m0 7v2m0 6v1m0 8v1m0 3v1m0 9v1m0 7v1m0 6v1m0 9v1m0 5v1M65.5 19v1m0 1v1m0 3v1m0 11v1m0 10v2m0 20v1m0 11v1m0 2v1m0 10v1m0 8v1m0 4v1m0 5v1m0 2v2m0 36v1m0 2v1m0 3v1m0 2v1m0 11v1m0 1v1m0 1v1m0 5v2m0 12v1m0 11v1m0 5v1m0 14v1m0 16v2m0 1v1m0 2v1m0 6v1m0 24v1m0 20v1m0 10v1m0 8v1m0 3v1m0 3v1m0 8v2m0 6v1m0 3v1m0 9v1m0 2v1m0 1v1m0 1v1m0 16v1M66.5 7v1m0 9v1m0 3v1m0 4v1m0 3v2m0 1v2m0 6v1m0 2v1m0 1v1m0 2v1m0 4v1m0 2v1m0 29v1m0 3v1m0 1v1m0 3v1m0 4v2m0 4v1m0 5v1m0 1v1m0 6v1m0 3v2m0 5v2m0 20v1m0 14v2m0 7v1m0 16v1m0 2v2m0 9v1m0 10v2m0 3v1m0 7v1m0 12v1m0 2v2m0 19v1m0 9v1m0 1v1m0 5v1m0 13v2m0 11v2m0 2v2m0 23v1m0 1v1m0 13v1m0 1v1m0 5v1m0 1v2M67.5 1v1m0 12v1m0 9v1m0 5v1m0 12v1m0 7v1m0 1v1m0 2v2m0 3v1m0 8v1m0 15v1m0 1v1m0 4v1m0 3v1m0 1v1m0 5v1m0 22v1m0 1v1m0 18v1m0 5v3m0 1v2m0 1v1m0 4v1m0 1v1m0 1v1m0 1v1m0 1v1m0 3v1m0 4v1m0 1v1m0 3v3m0 2v1m0 2v1m0 8v1m0 5v1m0 6v2m0 2v1m0 1v1m0 3v3m0 4v2m0 9v1m0 5v1m0 9v1m0 7v1m0 6v1m0 5v1m0 9v1m0 2v1m0 6v1m0 2v1m0 3v2m0 11v1m0 3v1m0 19v1m0 8v1m0 30v1M68.5 7v1m0 9v1m0 5v2m0 5v1m0 7v1m0 10v1m0 2v1m0 13v1m0 1v1m0 5v1m0 4v2m0 14v1m0 7v2m0 3v1m0 6v1m0 59v1m0 9v1m0 13v1m0 9v1m0 13v1m0 17v1m0 11v1m0 24v1m0 2v2m0 1v1m0 6v1m0 1v1m0 3v1m0 4v1m0 13v1m0 1v1m0 1v1m0 6v2m0 4v1m0 9v1m0 1v1m0 3v1m0 6v1m0 4v1m0 5v3m0 1v1m0 11v1M69.5 3v1m0 1v1m0 2v2m0 14v1m0 8v1m0 3v1m0 7v1m0 3v1m0 7v1m0 2v1m0 3v1m0 1v1m0 3v1m0 1v1m0 7v1m0 1v2m0 16v1m0 4v1m0 2v1m0 12v1m0 3v1m0 1v1m0 1v1m0 5v2m0 1v1m0 4v1m0 9v1m0 6v1m0 1v2m0 2v1m0 11v1m0 6v1m0 44v1m0 2v1m0 11v1m0 24v1m0 1v1m0 7v2m0 2v1m0 1v1m0 1v2m0 2v1m0 2v1m0 9v1m0 7v1m0 7v1m0 1v2m0 5v1m0 3v1m0 16v1m0 1v1m0 4v1m0 4v1m0 9v1m0 2v1m0 1v1m0 2v1M70.5 5v1m0 2v1m0 8v1m0 2v3m0 19v2m0 1v1m0 12v1m0 1v2m0 2v1m0 16v1m0 13v1m0 2v1m0 5v1m0 1v1m0 1v1m0 3v1m0 2v1m0 3v1m0 2v1m0 2v1m0 6v1m0 2v1m0 16v1m0 1v1m0 8v1m0 3v2m0 6v1m0 1v1m0 8v1m0 11v1m0 6v1m0 2v1m0 7v1m0 17v1m0 1v1m0 2v1m0 13v1m0 1v1m0 7v1m0 13v1m0 1v1m0 9v2m0 9v1m0 17v1m0 11v1m0 1v1m0 14v1m0 1v1m0 4v1m0 5v2m0 1v1m0 15v1M71.5 0v1m0 17v1m0 3v1m0 1v1m0 7v1m0 8v1m0 4v1m0 1v1m0 2v1m0 2v1m0 11v1m0 7v1m0 7v1m0 14v1m0 14v1m0 33v1m0 3v1m0 3v1m0 8v1m0 23v1m0 20v1m0 8v1m0 1v1m0 16v1m0 1v2m0 14v1m0 2v1m0 8v1m0 7v1m0 2v1m0 5v1m0 31v1m0 1v2m0 6v3m0 6v1m0 3v1m0 10v1m0 2v1m0 9v1m0 6v1m0 3v1m0 5v1m0 1v1m0 2v2M72.5 8v1m0 15v1m0 1v1m0 5v1m0 6v2m0 1v1m0 1v1m0 18v1m0 1v1m0 13v1m0 13v1m0 6v1m0 8v1m0 1v2m0 9v1m0 1v1m0 2v1m0 7v1m0 5v1m0 2v1m0 1v1m0 9v1m0 1v1m0 5v1m0 1v1m0 1v1m0 4v1m0 1v1m0 1v1m0 2v1m0 7v1m0 21v1m0 12v1m0 1v1m0 10v1m0 33v1m0 3v1m0 2v1m0 4v2m0 1v2m0 16v1m0 12v1m0 8v1m0 6v1m0 9v2m0 9v1m0 3v1m0 5v1m0 4v1m0 1v1m0 13v1m0 10v1M73.5 4v2m0 8v1m0 6v2m0 17v2m0 21v1m0 5v1m0 8v1m0 18v1m0 7v1m0 3v1m0 1v1m0 7v1m0 8v1m0 4v1m0 4v1m0 10v1m0 3v1m0 2v1m0 1v1m0 9v1m0 10v1m0 3v1m0 36v2m0 2v1m0 10v1m0 2v1m0 15v1m0 4v1m0 12v1m0 11v1m0 4v1m0 3v1m0 4v1m0 2v1m0 2v1m0 2v1m0 3v1m0 13v2m0 10v1m0 7v1m0 9v2m0 4v1m0 1v2m0 13v1m0 11v2M74.5 1v1m0 7v1m0 7v1m0 2v1m0 4v1m0 1v1m0 7v1m0 5v1m0 9v1m0 1v1m0 7v1m0 4v1m0 1v1m0 1v1m0 16v1m0 4v1m0 11v1m0 1v1m0 2v1m0 13v1m0 8v1m0 2v1m0 8v1m0 3v1m0 1v1m0 4v1m0 2v1m0 1v1m0 2v2m0 6v2m0 2v1m0 11v1m0 1v1m0 12v1m0 2v1m0 3v1m0 2v1m0 6v1m0 2v1m0 4v2m0 2v1m0 7v2m0 7v1m0 2v1m0 3v1m0 9v1m0 13v1m0 12v1m0 8v1m0 5v1m0 9v2m0 2v1m0 3v1m0 5v1m0 21v2m0 19v1m0 5v1M75.5 5v1m0 1v2m0 5v1m0 13v1m0 1v2m0 15v1m0 14v1m0 9v2m0 22v1m0 2v2m0 5v1m0 1v2m0 7v1m0 30v1m0 5v1m0 1v1m0 15v1m0 2v1m0 2v1m0 12v3m0 5v2m0 4v1m0 3v1m0 13v1m0 8v1m0 1v1m0 4v1m0 7v1m0 3v1m0 16v1m0 2v1m0 1v5m0 2v1m0 1v1m0 12v1m0 18v1m0 1v1m0 1v1m0 4v1m0 13v2m0 3v1m0 2v1m0 10v1m0 24v2m0 1v1M76.5 1v2m0 8v1m0 4v2m0 1v1m0 15v1m0 2v1m0 1v1m0 5v1m0 1v1m0 4v1m0 8v1m0 5v1m0 2v1m0 2v2m0 2v2m0 4v1m0 11v1m0 11v1m0 4v2m0 6v1m0 2v1m0 11v1m0 1v1m0 1v2m0 3v1m0 9v1m0 9v1m0 10v1m0 2v1m0 3v1m0 14v1m0 4v1m0 1v1m0 4v1m0 2v1m0 4v1m0 4v1m0 1v1m0 9v1m0 5v1m0 12v1m0 9v1m0 1v1m0 12v1m0 1v1m0 18v1m0 4v1m0 23v1m0 11v2m0 4v1m0 3v1m0 6v1m0 8v1m0 11v1M77.5 2v1m0 17v1m0 4v1m0 6v1m0 11v1m0 9v1m0 26v1m0 2v1m0 15v1m0 1v1m0 16v1m0 10v1m0 4v2m0 5v1m0 22v1m0 2v1m0 1v1m0 11v1m0 4v1m0 1v1m0 1v3m0 2v1m0 15v1m0 4v1m0 2v1m0 4v1m0 1v1m0 1v1m0 23v1m0 10v1m0 2v1m0 10v1m0 8v1m0 4v1m0 2v1m0 5v1m0 3v1m0 8v1m0 12v1m0 3v1m0 6v3m0 2v1m0 4v1m0 1v1m0 7v1m0 1v1m0 18v1m0 6v1m0 1v1M78.5 5v1m0 9v1m0 5v1m0 1v1m0 5v1m0 21v1m0 1v1m0 10v1m0 3v1m0 2v1m0 11v2m0 3v1m0 6v1m0 17v1m0 3v1m0 5v1m0 1v1m0 5v1m0 2v1m0 4v1m0 8v2m0 24v1m0 6v1m0 24v1m0 16v1m0 2v1m0 5v1m0 6v2m0 3v1m0 4v1m0 8v1m0 9v1m0 1v1m0 5v1m0 6v2m0 16v1m0 11v1m0 5v1m0 3v1m0 6v1m0 4v1m0 7v1m0 11v1m0 2v1m0 5v1m0 10v1m0 2v1m0 2v1m0 6v2M79.5 1v1m0 9v1m0 11v1m0 12v1m0 5v1m0 4v1m0 7v1m0 5v1m0 9v2m0 13v1m0 7v1m0 12v1m0 20v1m0 6v2m0 2v1m0 2v1m0 1v1m0 9v1m0 10v1m0 11v1m0 3v1m0 18v1m0 6v1m0 8v1m0 4v1m0 4v1m0 3v1m0 2v2m0 1v1m0 5v1m0 7v1m0 12v1m0 7v1m0 6v2m0 5v1m0 2v1m0 10v1m0 5v1m0 1v1m0 2v1m0 30v1m0 5v1m0 3v1m0 5v1m0 2v1m0 5v1m0 2v1m0 5v1m0 1v2m0 9v1M80.5 4v1m0 12v1m0 2v1m0 2v1m0 3v1m0 1v1m0 14v1m0 3v1m0 15v1m0 1v1m0 3v1m0 2v2m0 8v1m0 8v1m0 2v1m0 5v1m0 2v1m0 15v2m0 23v1m0 5v1m0 2v2m0 2v1m0 3v3m0 11v1m0 3v1m0 1v1m0 6v1m0 5v1m0 11v1m0 3v1m0 23v2m0 30v1m0 3v1m0 3v1m0 1v1m0 2v1m0 8v1m0 12v1m0 3v1m0 3v1m0 16v1m0 1v1m0 3v2m0 8v3m0 5v1m0 6v1m0 4v1m0 7v2m0 3v1m0 7v1m0 6v1M81.5 0v1m0 3v2m0 1v1m0 2v1m0 13v1m0 2v1m0 6v1m0 4v1m0 8v1m0 2v1m0 15v2m0 18v1m0 4v1m0 4v1m0 2v1m0 26v1m0 2v1m0 6v1m0 11v1m0 24v1m0 5v1m0 2v1m0 4v1m0 25v1m0 1v1m0 7v2m0 35v3m0 31v1m0 9v1m0 16v1m0 5v3m0 1v3m0 1v1m0 12v1m0 12v1m0 8v1m0 19v1M82.5 6v2m0 1v1m0 8v1m0 7v1m0 22v1m0 4v1m0 2v2m0 1v2m0 10v1m0 4v1m0 1v1m0 3v1m0 4v1m0 3v1m0 3v1m0 6v1m0 3v1m0 3v2m0 6v1m0 14v1m0 28v1m0 5v1m0 5v1m0 7v1m0 3v1m0 3v1m0 5v1m0 5v1m0 1v1m0 9v1m0 5v1m0 12v1m0 1v2m0 3v1m0 6v1m0 3v1m0 9v1m0 4v1m0 8v1m0 6v1m0 5v1m0 6v2m0 2v1m0 3v1m0 6v1m0 3v1m0 2v1m0 1v1m0 2v1m0 3v1m0 3v2m0 1v1m0 4v1m0 2v1m0 3v1m0 15v1m0 2v1m0 9v1m0 10v1M83.5 17v1m0 1v1m0 3v1m0 19v1m0 2v1m0 1v1m0 2v1m0 2v1m0 4v3m0 1v2m0 3v1m0 6v2m0 10v1m0 1v1m0 6v1m0 4v1m0 5v1m0 5v1m0 6v2m0 8v1m0 5v1m0 14v1m0 6v1m0 8v1m0 41v1m0 2v1m0 17v1m0 1v1m0 6v1m0 9v1m0 1v2m0 1v1m0 1v2m0 6v1m0 7v1m0 8v1m0 8v1m0 9v4m0 4v1m0 2v1m0 9v2m0 8v1m0 6v1m0 4v1m0 1v1m0 16v3m0 10v1m0 6v1m0 1v1m0 1v1m0 3v1M84.5 11v2m0 5v1m0 7v1m0 1v1m0 1v1m0 16v2m0 1v2m0 8v1m0 11v1m0 5v1m0 16v1m0 5v2m0 2v1m0 9v1m0 11v1m0 1v1m0 10v1m0 2v1m0 1v2m0 4v1m0 4v1m0 3v1m0 1v1m0 18v1m0 1v1m0 10v2m0 6v1m0 2v2m0 4v1m0 5v1m0 1v1m0 1v1m0 27v1m0 13v1m0 2v1m0 3v2m0 26v1m0 15v1m0 1v1m0 3v1m0 2v2m0 21v2m0 3v1m0 1v1m0 2v1m0 7v1m0 11v1m0 4v1m0 5v1M85.5 11v1m0 3v1m0 7v1m0 1v1m0 9v1m0 1v1m0 1v1m0 1v1m0 2v1m0 4v1m0 5v1m0 4v1m0 2v2m0 20v1m0 1v1m0 11v1m0 12v2m0 11v1m0 2v1m0 4v3m0 3v1m0 9v1m0 10v1m0 17v1m0 1v1m0 1v2m0 1v1m0 7v1m0 5v1m0 4v1m0 2v1m0 2v1m0 1v3m0 5v1m0 4v1m0 3v1m0 2v1m0 8v1m0 4v1m0 12v1m0 4v1m0 10v1m0 13v1m0 7v1m0 2v1m0 4v1m0 10v1m0 19v1m0 1v1m0 4v1m0 7v1m0 1v2m0 1v1m0 1v1m0 9v1m0 5v2m0 3v1m0 1v1m0 8v1M86.5 3v1m0 17v1m0 7v1m0 4v1m0 23v1m0 14v1m0 12v1m0 8v1m0 1v1m0 16v1m0 16v1m0 4v1m0 19v1m0 4v1m0 4v1m0 2v1m0 1v1m0 3v2m0 19v1m0 2v1m0 5v1m0 2v1m0 2v1m0 6v1m0 15v1m0 3v1m0 10v1m0 3v2m0 4v2m0 2v2m0 9v2m0 13v1m0 2v2m0 1v1m0 2v1m0 4v1m0 1v1m0 27v1m0 7v1M87.5 1v1m0 3v1m0 2v1m0 5v2m0 1v1m0 11v1m0 3v1m0 14v1m0 4v1m0 2v1m0 2v1m0 12v1m0 3v1m0 17v1m0 2v1m0 1v1m0 5v1m0 10v1m0 2v1m0 1v1m0 1v1m0 28v1m0 6v1m0 15v2m0 5v1m0 4v1m0 7v1m0 15v1m0 7v1m0 23v1m0 22v1m0 15v1m0 8v1m0 3v1m0 30v1m0 12v2m0 22v1M88.5 6v1m0 1v1m0 11v1m0 3v1m0 19v1m0 14v1m0 4v1m0 9v1m0 1v1m0 6v1m0 1v2m0 1v1m0 1v2m0 6v1m0 1v1m0 10v1m0 14v1m0 2v1m0 12v1m0 7v1m0 10v1m0 12v1m0 3v1m0 2v1m0 1v3m0 13v1m0 1v1m0 1v1m0 17v1m0 1v1m0 28v1m0 11v2m0 1v1m0 5v1m0 8v1m0 21v1m0 6v1m0 9v1m0 2v1m0 18v2m0 23v1m0 4v1m0 13v2M89.5 5v1m0 4v1m0 6v1m0 1v1m0 1v1m0 5v1m0 5v1m0 21v1m0 2v1m0 3v1m0 3v1m0 2v1m0 2v1m0 30v1m0 14v1m0 10v1m0 3v1m0 4v1m0 13v1m0 12v1m0 20v1m0 23v1m0 11v1m0 1v2m0 6v1m0 7v2m0 4v1m0 3v1m0 2v1m0 7v1m0 4v1m0 1v1m0 11v1m0 8v3m0 8v1m0 3v1m0 1v1m0 13v1m0 20v1m0 3v1m0 3v1m0 17v1m0 3v1m0 15v2M90.5 0v1m0 11v1m0 7v1m0 7v1m0 3v1m0 1v1m0 3v1m0 30v1m0 12v1m0 18v1m0 6v1m0 5v1m0 3v1m0 11v1m0 15v1m0 26v1m0 13v1m0 9v2m0 2v1m0 11v1m0 13v1m0 27v1m0 11v1m0 9v1m0 2v1m0 1v3m0 14v1m0 8v1m0 10v1m0 4v1m0 24v1m0 12v1m0 14v1M91.5 2v1m0 5v1m0 1v1m0 3v1m0 1v1m0 13v1m0 8v2m0 12v1m0 19v1m0 5v1m0 7v1m0 4v1m0 16v1m0 5v1m0 4v1m0 8v1m0 4v1m0 1v1m0 3v1m0 2v1m0 4v1m0 2v2m0 2v1m0 5v1m0 3v1m0 2v1m0 5v1m0 13v1m0 22v1m0 7v2m0 1v1m0 20v1m0 27v1m0 57v2m0 15v1m0 2v1m0 2v1m0 6v1m0 8v1m0 9v1m0 5v1M92.5 1v1m0 1v1m0 6v1m0 8v1m0 7v1m0 1v1m0 6v3m0 1v2m0 3v1m0 35v1m0 6v2m0 1v1m0 2v2m0 5v1m0 5v1m0 2v1m0 5v1m0 15v1m0 3v1m0 2v1m0 5v1m0 12v1m0 9v1m0 21v1m0 3v2m0 4v1m0 4v1m0 1v1m0 12v1m0 19v2m0 17v1m0 4v1m0 2v1m0 1v2m0 6v1m0 1v1m0 12v1m0 3v1m0 1v1m0 1v1m0 16v1m0 19v1m0 1v1m0 4v1m0 2v1m0 1v2m0 1v1m0 10v1m0 24v2M93.5 7v1m0 1v1m0 3v1m0 7v1m0 5v1m0 9v1m0 7v1m0 10v1m0 2v1m0 10v1m0 2v1m0 2v1m0 3v2m0 1v1m0 1v2m0 17v1m0 5v1m0 6v1m0 3v2m0 3v1m0 3v1m0 4v1m0 3v1m0 1v1m0 2v1m0 2v2m0 2v1m0 7v1m0 3v1m0 8v1m0 5v1m0 5v2m0 4v1m0 3v1m0 3v1m0 9v1m0 5v1m0 9v2m0 15v1m0 7v3m0 2v1m0 1v1m0 11v1m0 4v1m0 12v1m0 2v1m0 3v1m0 8v2m0 1v1m0 3v1m0 10v1m0 3v1m0 3v1m0 2v1m0 15v1m0 3v1m0 4v1m0 4v1m0 2v1m0 3v1m0 6v1m0 1v1M94.5 10v1m0 14v1m0 3v2m0 8v1m0 13v1m0 1v1m0 10v2m0 3v1m0 1v1m0 5v1m0 8v1m0 1v1m0 7v1m0 2v1m0 1v1m0 3v2m0 2v1m0 16v1m0 10v1m0 2v1m0 5v1m0 2v1m0 3v1m0 10v1m0 5v1m0 4v1m0 17v1m0 1v1m0 1v2m0 3v1m0 1v1m0 11v1m0 57v2m0 3v1m0 7v1m0 5v1m0 8v1m0 3v1m0 3v1m0 6v2m0 1v1m0 2v2m0 4v2m0 2v1m0 4v1m0 1v1m0 2v1m0 2v2m0 1v1m0 9v1m0 11v1m0 5v1m0 9v1M95.5 0v1m0 6v1m0 1v1m0 2v1m0 1v1m0 14v1m0 8v1m0 6v1m0 6v1m0 1v2m0 10v1m0 10v1m0 2v1m0 12v1m0 4v3m0 10v1m0 18v1m0 7v2m0 1v1m0 1v1m0 18v1m0 3v1m0 2v1m0 13v1m0 7v1m0 8v1m0 19v2m0 3v1m0 1v1m0 3v1m0 2v1m0 3v1m0 3v1m0 2v1m0 2v1m0 3v1m0 17v1m0 3v1m0 5v1m0 4v2m0 11v3m0 7v1m0 15v1m0 1v1m0 4v1m0 1v1m0 2v1m0 1v1m0 10v1m0 2v1m0 3v1m0 4v1m0 16v1m0 6v2m0 1v1M96.5 4v1m0 8v1m0 2v1m0 8v2m0 14v1m0 12v2m0 11v1m0 7v1m0 6v1m0 4v1m0 5v1m0 15v2m0 11v1m0 7v1m0 4v1m0 9v1m0 3v1m0 3v1m0 11v1m0 2v1m0 3v1m0 12v1m0 2v1m0 2v1m0 21v2m0 34v1m0 3v2m0 2v1m0 11v1m0 2v1m0 11v1m0 4v1m0 2v1m0 35v2m0 6v1m0 8v1m0 3v1m0 3v1m0 7v1m0 6v1m0 21v1M97.5 44v1m0 6v1m0 15v1m0 1v1m0 12v1m0 3v1m0 2v1m0 12v2m0 6v1m0 4v1m0 3v1m0 1v1m0 2v1m0 10v1m0 24v1m0 2v2m0 20v2m0 9v1m0 8v2m0 1v1m0 11v2m0 11v1m0 11v1m0 1v1m0 6v1m0 7v1m0 2v1m0 17v1m0 7v1m0 7v1m0 22v1m0 1v3m0 9v1m0 25v1m0 1v1m0 22v2M98.5 12v1m0 6v1m0 3v2m0 6v1m0 15v1m0 4v1m0 27v1m0 1v1m0 4v2m0 15v1m0 3v1m0 2v1m0 9v1m0 21v1m0 15v1m0 1v1m0 9v1m0 1v1m0 1v1m0 15v1m0 2v1m0 1v1m0 1v1m0 3v1m0 1v1m0 9v1m0 3v1m0 6v1m0 5v2m0 5v1m0 1v1m0 2v1m0 3v1m0 1v1m0 9v1m0 2v1m0 2v1m0 1v1m0 23v1m0 1v1m0 27v1m0 21v3m0 15v1m0 4v1m0 11v1m0 2v2m0 3v1M99.5 26v1m0 1v1m0 10v1m0 17v1m0 9v1m0 2v1m0 2v2m0 15v1m0 4v1m0 11v2m0 2v1m0 13v1m0 1v1m0 20v1m0 19v1m0 9v1m0 1v1m0 8v1m0 8v1m0 12v1m0 2v1m0 1v1m0 4v1m0 2v1m0 8v1m0 3v1m0 9v1m0 6v1m0 8v1m0 1v1m0 3v1m0 7v1m0 20v1m0 12v1m0 17v3m0 16v1m0 15v1m0 8v1M100.5 1v1m0 4v1m0 2v1m0 3v1m0 5v1m0 2v1m0 2v1m0 24v1m0 7v1m0 3v2m0 24v1m0 22v1m0 13v1m0 10v1m0 17v1m0 5v2m0 6v1m0 10v1m0 12v1m0 4v2m0 11v1m0 14v2m0 17v1m0 1v1m0 4v1m0 1v1m0 6v1m0 7v1m0 18v1m0 25v1m0 1v1m0 15v1m0 4v1m0 1v1m0 1v1m0 3v3m0 7v1m0 11v1m0 10v1m0 3v1m0 3v1m0 1v1M101.5 20v2m0 1v2m0 5v1m0 6v1m0 6v2m0 3v1m0 1v1m0 3v1m0 7v1m0 2v1m0 1v1m0 9v1m0 2v1m0 12v1m0 3v2m0 8v2m0 8v1m0 8v2m0 5v1m0 1v1m0 3v1m0 14v1m0 6v1m0 7v1m0 6v1m0 13v2m0 1v1m0 9v1m0 9v1m0 1v1m0 10v2m0 15v1m0 1v1m0 4v1m0 9v2m0 1v1m0 34v1m0 2v1m0 1v1m0 5v2m0 2v1m0 1v1m0 17v1m0 6v1m0 28v1m0 4v2m0 7v1m0 4v1M102.5 1v1m0 3v1m0 16v1m0 9v1m0 19v1m0 11v1m0 1v1m0 8v1m0 3v1m0 14v1m0 4v1m0 12v1m0 3v1m0 17v1m0 29v1m0 13v1m0 10v1m0 31v1m0 3v1m0 10v1m0 14v1m0 22v2m0 1v1m0 7v1m0 4v1m0 16v1m0 9v1m0 1v1m0 1v1m0 2v1m0 6v1m0 6v1m0 8v1m0 3v1m0 2v1m0 7v3m0 9v1m0 4v1M103.5 4v1m0 2v1m0 12v1m0 6v1m0 1v1m0 9v1m0 3v1m0 11v2m0 18v1m0 6v1m0 11v1m0 6v1m0 3v1m0 6v2m0 1v1m0 17v1m0 1v1m0 8v1m0 10v2m0 10v1m0 4v2m0 7v1m0 3v3m0 10v2m0 21v1m0 6v1m0 6v2m0 1v2m0 42v1m0 2v1m0 1v1m0 5v1m0 5v1m0 8v1m0 4v1m0 2v1m0 4v1m0 3v1m0 1v1m0 16v1m0 4v1m0 7v1M104.5 5v1m0 1v1m0 7v1m0 10v1m0 1v1m0 5v1m0 2v2m0 1v1m0 8v1m0 3v1m0 5v1m0 1v1m0 12v1m0 1v1m0 1v1m0 6v1m0 18v1m0 4v2m0 3v1m0 2v1m0 1v1m0 1v1m0 1v1m0 7v1m0 5v1m0 2v1m0 3v1m0 3v1m0 10v1m0 6v1m0 4v1m0 26v1m0 4v1m0 4v2m0 7v1m0 6v2m0 1v2m0 1v1m0 13v3m0 6v1m0 7v3m0 4v1m0 14v1m0 8v1m0 11v2m0 19v1m0 6v1m0 7v1m0 3v2m0 4v1m0 3v1m0 16v2m0 1v1m0 2v1m0 2v2M105.5 4v1m0 3v1m0 12v2m0 10v1m0 10v1m0 3v1m0 3v1m0 5v1m0 1v1m0 1v1m0 8v1m0 4v1m0 6v1m0 4v1m0 3v2m0 26v1m0 3v1m0 2v1m0 6v2m0 1v2m0 2v1m0 1v1m0 7v1m0 6v1m0 7v1m0 1v1m0 9v1m0 12v2m0 5v1m0 3v2m0 2v1m0 2v2m0 1v1m0 3v1m0 1v1m0 11v1m0 3v1m0 6v1m0 7v1m0 2v1m0 2v1m0 10v1m0 3v3m0 5v1m0 5v1m0 12v4m0 4v1m0 11v1m0 3v1m0 1v1m0 2v1m0 7v1m0 19v1m0 18v1m0 3v1m0 1v1m0 1v1m0 2v1M106.5 14v1m0 3v1m0 11v2m0 8v1m0 9v1m0 3v1m0 1v1m0 11v1m0 1v1m0 3v1m0 10v2m0 3v1m0 3v1m0 4v1m0 1v1m0 12v1m0 2v1m0 2v1m0 2v2m0 5v1m0 1v1m0 20v1m0 4v1m0 6v1m0 4v1m0 2v1m0 1v1m0 6v1m0 6v1m0 1v1m0 13v2m0 3v1m0 35v1m0 1v1m0 21v1m0 4v1m0 1v2m0 6v1m0 3v1m0 12v1m0 8v1m0 3v2m0 10v2m0 6v3m0 4v2m0 3v1m0 5v2m0 10v2m0 2v1m0 2v2m0 6v1m0 3v1m0 4v1M107.5 1v1m0 20v1m0 3v1m0 1v1m0 7v1m0 4v3m0 8v2m0 1v1m0 9v1m0 7v1m0 2v1m0 2v1m0 4v1m0 40v1m0 8v1m0 3v1m0 2v1m0 2v2m0 5v2m0 5v1m0 4v1m0 4v1m0 21v1m0 9v1m0 8v2m0 10v1m0 4v1m0 10v1m0 3v1m0 3v1m0 3v1m0 4v1m0 23v1m0 21v1m0 14v1m0 11v1m0 17v1m0 11v1m0 1v1m0 2v1m0 6v1m0 1v1m0 3v1m0 7v1m0 2v1M108.5 0v1m0 12v1m0 2v1m0 2v1m0 21v2m0 4v2m0 15v1m0 3v1m0 3v1m0 2v2m0 6v1m0 1v1m0 2v1m0 5v1m0 7v1m0 6v2m0 2v1m0 22v2m0 1v1m0 2v2m0 4v1m0 4v1m0 6v1m0 3v1m0 4v1m0 1v1m0 1v1m0 2v1m0 7v1m0 12v1m0 1v1m0 2v1m0 2v1m0 2v2m0 7v1m0 7v1m0 5v1m0 3v1m0 6v2m0 8v1m0 1v1m0 14v1m0 4v1m0 9v1m0 22v1m0 6v1m0 29v1m0 3v2m0 18v1m0 1v1m0 6v1m0 2v1M109.5 17v1m0 3v1m0 3v1m0 2v1m0 11v1m0 15v1m0 26v1m0 1v1m0 1v1m0 7v1m0 5v1m0 2v1m0 1v2m0 17v1m0 2v2m0 3v1m0 10v2m0 10v1m0 1v1m0 9v2m0 19v1m0 5v1m0 3v1m0 4v1m0 12v1m0 3v1m0 8v1m0 8v1m0 4v3m0 19v2m0 22v1m0 5v2m0 3v1m0 2v1m0 7v1m0 8v1m0 38v1m0 11v1M110.5 2v1m0 1v2m0 4v1m0 27v2m0 10v1m0 11v1m0 7v1m0 4v1m0 17v1m0 12v1m0 5v1m0 11v1m0 8v1m0 1v1m0 5v1m0 4v1m0 25v1m0 10v1m0 12v2m0 15v1m0 16v1m0 4v1m0 2v1m0 5v1m0 9v1m0 20v1m0 2v1m0 1v1m0 1v1m0 19v1m0 12v1m0 1v1m0 2v1m0 1v1m0 6v1m0 7v1m0 17v1m0 6v1m0 1v1m0 2v1m0 4v1m0 10v1M111.5 11v1m0 12v1m0 4v1m0 5v1m0 2v1m0 3v2m0 5v1m0 5v1m0 1v1m0 2v1m0 10v2m0 3v1m0 1v1m0 3v1m0 3v1m0 6v1m0 1v1m0 1v1m0 23v1m0 6v1m0 5v1m0 21v1m0 1v1m0 1v1m0 2v1m0 4v1m0 10v1m0 1v1m0 2v3m0 5v1m0 2v1m0 7v2m0 3v1m0 11v1m0 14v1m0 10v1m0 6v1m0 1v1m0 8v1m0 1v2m0 6v1m0 8v1m0 21v1m0 4v1m0 2v1m0 7v1m0 4v1m0 2v1m0 13v1m0 7v1m0 4v1m0 6v1m0 3v1m0 5v2m0 1v1m0 9v1M113.5 10v1m0 4v2m0 25v1m0 26v1m0 11v1m0 13v1m0 6v1m0 3v3m0 12v1m0 6v1m0 2v1m0 3v2m0 1v1m0 15v1m0 3v1m0 6v1m0 1v1m0 25v2m0 1v1m0 7v1m0 17v2m0 4v1m0 25v2m0 20v1m0 4v1m0 7v1m0 9v1m0 1v1m0 1v2m0 1v1m0 3v1m0 3v1m0 3v1m0 6v1m0 6v1m0 17v1m0 11v1m0 10v1m0 4v1m0 1v1M115.5 1v1m0 10v1m0 13v3m0 4v1m0 5v2m0 2v1m0 3v1m0 13v2m0 5v1m0 5v1m0 3v1m0 12v1m0 14v1m0 9v1m0 1v1m0 7v1m0 9v1m0 9v1m0 2v1m0 4v1m0 7v1m0 29v1m0 10v1m0 1v1m0 11v1m0 10v2m0 8v1m0 1v1m0 9v1m0 6v1m0 3v1m0 5v1m0 3v1m0 5v1m0 9v1m0 1v1m0 1v1m0 5v1m0 1v1m0 2v1m0 2v1m0 5v1m0 4v1m0 1v1m0 24v1m0 13v2m0 7v1m0 5v1m0 5v1m0 5v1m0 1v1M117.5 11v1m0 8v1m0 13v1m0 3v1m0 18v1m0 5v1m0 1v1m0 3v1m0 11v1m0 5v1m0 1v1m0 1v1m0 10v1m0 3v1m0 1v1m0 7v1m0 10v1m0 2v3m0 4v1m0 5v1m0 1v3m0 14v1m0 1v1m0 2v1m0 5v1m0 6v2m0 3v1m0 5v1m0 5v1m0 2v1m0 4v1m0 7v2m0 8v1m0 2v1m0 1v1m0 1v2m0 16v1m0 11v2m0 12v1m0 4v1m0 1v1m0 9v1m0 6v1m0 4v1m0 6v1m0 3v1m0 7v1m0 5v1m0 1v1m0 2v1m0 3v1m0 2v1m0 5v1m0 1v1m0 4v1m0 25v1m0 2v2m0 2v2M119.5 1v1m0 24v1m0 4v1m0 22v1m0 4v1m0 2v1m0 17v1m0 2v1m0 14v1m0 2v1m0 9v1m0 2v1m0 11v1m0 8v1m0 3v1m0 2v1m0 3v1m0 3v2m0 2v1m0 1v1m0 1v2m0 6v2m0 9v1m0 9v1m0 6v1m0 1v1m0 5v1m0 4v2m0 4v1m0 16v1m0 9v1m0 1v1m0 3v1m0 4v1m0 6v1m0 8v3m0 15v3m0 17v2m0 10v1m0 2v1m0 3v1m0 8v1m0 4v1m0 2v1m0 2v1m0 14v1m0 8v1m0 1v2m0 1v1m0 3v1m0 9v1m0 2v1M121.5 3v1m0 2v1m0 2v1m0 5v1m0 3v1m0 7v2m0 3v1m0 7v1m0 9v1m0 14v1m0 12v1m0 5v2m0 16v1m0 5v2m0 16v1m0 15v1m0 5v1m0 3v2m0 2v1m0 18v1m0 7v1m0 3v1m0 5v1m0 5v2m0 34v1m0 7v1m0 6v1m0 2v1m0 18v1m0 17v1m0 2v1m0 10v1m0 17v2m0 1v1m0 1v2m0 3v1m0 14v1m0 1v1m0 3v2m0 1v2m0 8v1m0 2v1m0 8v1m0 5v1m0 2v1M123.5 11v1m0 4v2m0 6v1m0 8v1m0 3v1m0 3v1m0 5v2m0 1v2m0 14v1m0 16v2m0 11v1m0 7v1m0 1v1m0 5v1m0 3v2m0 1v1m0 2v1m0 33v2m0 6v1m0 1v1m0 2v1m0 4v1m0 10v2m0 3v1m0 3v1m0 3v1m0 1v1m0 1v2m0 14v1m0 3v1m0 2v1m0 10v1m0 8v1m0 6v1m0 2v1m0 2v1m0 1v1m0 9v2m0 2v1m0 1v1m0 7v2m0 1v1m0 31v1m0 3v1m0 1v1m0 9v1m0 9v1m0 11v1m0 1v1m0 1v1m0 9v1m0 6v1m0 5v2m0 1v2m0 1v1M125.5 11v1m0 4v1m0 2v1m0 4v2m0 7v1m0 4v1m0 1v1m0 8v1m0 7v1m0 1v1m0 13v1m0 9v1m0 11v1m0 6v2m0 9v1m0 3v2m0 3v1m0 6v1m0 4v1m0 7v1m0 2v2m0 9v1m0 6v1m0 3v1m0 5v2m0 6v1m0 7v1m0 5v1m0 3v3m0 8v1m0 4v1m0 1v1m0 12v1m0 11v4m0 6v1m0 22v2m0 1v1m0 10v1m0 4v1m0 1v1m0 5v1m0 19v1m0 7v2m0 1v1m0 9v1m0 2v1m0 11v1m0 1v1m0 16v1m0 1v1m0 1v1m0 8v1M130.5 3v1m0 9v1m0 6v1m0 11v1m0 22v2m0 40v1m0 10v1m0 25v1m0 1v1m0 7v1m0 4v1m0 20v1m0 7v1m0 6v1m0 8v1m0 1v1m0 8v2m0 1v1m0 2v1m0 21v1m0 3v1m0 1v2m0 1v1m0 3v1m0 3v1m0 6v1m0 3v1m0 1v1m0 12v1m0 3v1m0 7v1m0 2v1m0 1v3m0 3v1m0 3v1m0 12v1m0 2v1m0 11v1m0 2v1m0 4v1m0 6v1m0 3v1m0 10v1m0 14v1M135.5 7v1m0 1v1m0 24v1m0 10v1m0 2v1m0 5v1m0 1v1m0 3v1m0 11v1m0 12v1m0 1v2m0 12v1m0 24v1m0 2v1m0 15v1m0 16v1m0 17v1m0 16v1m0 17v1m0 4v1m0 4v1m0 1v1m0 10v1m0 8v1m0 5v1m0 1v4m0 2v1m0 1v1m0 13v1m0 2v1m0 9v1m0 8v2m0 18v2m0 3v1m0 7v1m0 1v1m0 18v1m0 10v1m0 14v1M140.5 0v1m0 5v1m0 9v1m0 2v1m0 12v1m0 4v2m0 3v1m0 1v1m0 5v1m0 14v1m0 7v1m0 5v1m0 10v1m0 4v2m0 16v1m0 2v1m0 4v1m0 13v1m0 7v1m0 2v1m0 3v1m0 2v1m0 1v1m0 6v1m0 29v1m0 4v2m0 1v1m0 1v1m0 2v1m0 32v1m0 5v3m0 2v1m0 13v1m0 10v1m0 7v1m0 7v2m0 2v1m0 7v2m0 13v1m0 5v1m0 12v1m0 2v3m0 1v1m0 2v1m0 5v2m0 3v1m0 7v2m0 1v1m0 11v2M145.5 3v2m0 4v1m0 1v1m0 9v1m0 11v1m0 3v1m0 8v1m0 5v1m0 1v1m0 1v1m0 1v1m0 1v1m0 8v1m0 20v1m0 11v1m0 4v1m0 8v1m0 1v1m0 12v1m0 21v1m0 1v1m0 2v1m0 10v1m0 8v1m0 4v1m0 1v1m0 9v1m0 2v1m0 5v2m0 39v2m0 2v1m0 4v1m0 5v1m0 5v1m0 5v1m0 17v1m0 6v1m0 3v1m0 5v1m0 2v1m0 13v1m0 19v1m0 8v1m0 4v1m0 4v1m0 1v1m0 2v1m0 4v1m0 1v1m0 11v1m0 1v1M150.5 2v1m0 6v2m0 4v1m0 3v1m0 4v1m0 6v1m0 3v1m0 9v1m0 4v2m0 4v1m0 6v1m0 1v1m0 3v1m0 3v1m0 6v1m0 8v1m0 2v1m0 12v1m0 10v1m0 9v1m0 22v1m0 6v1m0 2v1m0 2v1m0 6v1m0 5v1m0 12v1m0 1v2m0 2v1m0 1v1m0 13v1m0 9v1m0 14v1m0 5v1m0 3v1m0 13v1m0 4v1m0 5v1m0 8v1m0 2v1m0 2v1m0 9v1m0 12v1m0 4v1m0 2v1m0 20v1m0 11v3m0 5v1m0 8v1m0 5v1m0 1v1m0 1v2m0 9v1m0 3v1M155.5 13v1m0 2v1m0 12v1m0 11v1m0 5v1m0 7v4m0 8v1m0 4v1m0 6v1m0 12v1m0 26v1m0 1v1m0 4v1m0 3v1m0 3v1m0 28v1m0 14v1m0 15v1m0 3v1m0 2v1m0 17v2m0 11v1m0 2v2m0 2v1m0 10v1m0 1v1m0 1v1m0 6v1m0 4v1m0 2v1m0 3v3m0 4v1m0 14v1m0 10v1m0 1v1m0 20v3m0 27v1m0 8v1m0 4v1m0 3v1m0 1v1"/>
<path stroke="#481a6c" d="M5.5 17v1m0 72v1m0 6v1m0 13v1m0 10v1m0 1v1m0 38v1m0 25v1m0 5v2m0 7v1m0 1v1m0 2v1m0 5v1m0 45v1m0 16v1m0 5v1m0 1v1m0 14v1m0 3v2m0 1v2m0 1v1m0 11v1m0 17v3m0 16v1m0 12v1m0 14v1m0 5v1M6.5 5v1m0 2v1m0 26v1m0 11v1m0 2v1m0 6v1m0 5v1m0 11v1m0 1v1m0 17v1m0 11v2m0 9v1m0 3v1m0 3v1m0 2v1m0 3v1m0 23v1m0 2v1m0 1v1m0 16v1m0 2v1m0 18v1m0 1v1m0 3v1m0 2v1m0 4v1m0 2v1m0 1v1m0 8v1m0 7v1m0 3v1m0 1v1m0 1v1m0 9v1m0 2v1m0 10v1m0 4v1m0 3v1m0 23v1m0 4v1m0 1v1m0 1v1m0 2v2m0 9v1m0 4v1m0 5v1m0 1v1m0 3v1m0 5v1m0 13v1m0 9v1M7.5 18v1m0 19v1m0 11v1m0 16v1m0 2v1m0 3v1m0 9v1m0 9v2m0 3v2m0 14v1m0 8v1m0 3v1m0 6v1m0 3v1m0 1v1m0 2v1m0 10v1m0 11v1m0 4v1m0 6v1m0 34v1m0 17v1m0 28v1m0 3v1m0 35v2m0 4v1m0 11v1m0 3v1m0 8v1m0 2v2m0 6v1m0 1v1m0 13v1m0 6v1m0 8v1m0 2v2m0 5v1m0 2v1m0 1v1M8.5 2v1m0 9v1m0 1v2m0 5v1m0 3v1m0 2v1m0 3v2m0 30v3m0 11v1m0 1v1m0 3v2m0 13v1m0 27v1m0 14v1m0 6v1m0 9v1m0 7v1m0 1v1m0 14v1m0 19v1m0 18v1m0 7v1m0 12v1m0 7v1m0 5v1m0 3v1m0 1v1m0 2v1m0 2v1m0 5v1m0 10v1m0 14v1m0 2v1m0 6v1m0 26v1m0 3v1m0 2v2m0 1v1m0 9v1m0 11v1m0 12v1M9.5 14v1m0 2v2m0 3v1m0 4v1m0 4v1m0 27v1m0 3v1m0 15v1m0 5v1m0 9v1m0 6v1m0 5v1m0 17v1m0 26v1m0 7v1m0 5v1m0 8v1m0 3v1m0 26v1m0 9v1m0 8v1m0 4v1m0 19v1m0 20v1m0 4v1m0 21v2m0 1v1m0 2v1m0 2v1m0 2v1m0 17v1m0 3v1m0 14v1m0 1v1m0 30v1m0 3v1m0 1v1M10.5 0v1m0 15v1m0 4v1m0 3v1m0 13v1m0 2v1m0 5v2m0 4v1m0 6v1m0 1v1m0 2v1m0 18v1m0 3v1m0 1v1m0 1v1m0 20v2m0 1v1m0 11v1m0 3v2m0 5v1m0 19v1m0 1v2m0 2v1m0 9v1m0 3v2m0 2v1m0 27v1m0 17v1m0 2v1m0 22v1m0 2v1m0 16v1m0 1v2m0 8v1m0 4v2m0 4v1m0 2v1m0 14v1m0 4v1m0 6v1m0 7v1m0 3v1m0 12v2m0 14v2m0 6v1M11.5 2v1m0 19v1m0 9v1m0 1v1m0 9v1m0 2v2m0 8v1m0 50v1m0 6v2m0 12v2m0 2v1m0 24v1m0 1v1m0 36v1m0 3v1m0 3v1m0 9v1m0 5v1m0 10v1m0 3v1m0 6v1m0 6v1m0 7v1m0 9v2m0 4v1m0 20v1m0 33v1m0 11v1m0 15v1m0 4v1m0 6v1m0 1v1m0 8v1m0 11v1M12.5 5v1m0 18v1m0 3v1m0 4v1m0 7v1m0 28v1m0 1v1m0 4v1m0 3v1m0 20v1m0 4v1m0 5v1m0 10v1m0 18v1m0 3v1m0 2v1m0 15v1m0 1v3m0 2v1m0 41v1m0 4v1m0 11v1m0 4v1m0 19v1m0 3v2m0 9v1m0 3v1m0 3v1m0 23v1m0 13v1m0 35v1m0 6v1m0 3v1m0 1v1m0 3v1m0 1v1m0 7v1m0 12v1M13.5 27v1m0 8v2m0 23v1m0 4v1m0 11v2m0 4v1m0 1v1m0 5v1m0 16v1m0 8v1m0 3v1m0 15v1m0 10v1m0 12v1m0 4v1m0 20v1m0 1v1m0 21v1m0 12v1m0 12v1m0 4v1m0 9v1m0 16v1m0 1v1m0 2v3m0 3v1m0 1v1m0 5v1m0 3v1m0 11v1m0 11v1m0 26v2m0 2v1M14.5 1v1m0 9v1m0 8v1m0 15v1m0 10v1m0 2v1m0 4v1m0 16v1m0 1v1m0 7v1m0 3v1m0 6v1m0 6v1m0 4v1m0 13v1m0 39v1m0 2v2m0 3v1m0 5v1m0 3v2m0 6v1m0 10v2m0 32v1m0 7v1m0 2v1m0 1v1m0 9v1m0 1v1m0 11v1m0 1v1m0 2v1m0 1v1m0 1v1m0 1v1m0 4v1m0 15v1m0 4v1m0 1v1m0 1v1m0 3v1m0 8v1m0 5v1m0 2v1m0 20v1m0 4v1m0 2v2m0 18v1m0 2v1M15.5 11v1m0 1v1m0 10v1m0 5v1m0 12v1m0 9v1m0 2v1m0 3v1m0 1v1m0 8v1m0 7v1m0 4v1m0 14v1m0 8v1m0 7v1m0 4v1m0 2v1m0 12v1m0 2v1m0 3v1m0 9v1m0 7v1m0 3v1m0 7v2m0 13v1m0 2v3m0 10v1m0 2v1m0 43v1m0 6v1m0 2v1m0 6v1m0 16v1m0 7v1m0 18v2m0 13v1m0 6v2m0 5v1m0 8v1m0 1v1m0 12v1m0 10v1m0 6v1m0 7v1M16.5 28v1m0 2v1m0 5v1m0 7v2m0 2v1m0 4v1m0 4v1m0 12v1m0 5v1m0 4v2m0 12v4m0 9v1m0 2v1m0 17v1m0 3v1m0 1v1m0 14v2m0 8v1m0 4v1m0 5v1m0 12v1m0 24v1m0 1v1m0 43v1m0 2v1m0 19v1m0 29v1m0 9v1m0 1v1m0 6v1m0 4v3m0 4v1m0 8v1m0 19v1m0 3v1m0 19v1M17.5 6v1m0 1v1m0 2v1m0 3v1m0 3v1m0 5v1m0 12v1m0 3v1m0 10v1m0 16v1m0 1v1m0 13v1m0 9v1m0 26v2m0 5v1m0 10v1m0 1v1m0 18v1m0 24v1m0 3v1m0 29v1m0 5v1m0 6v1m0 8v1m0 2v1m0 3v2m0 8v1m0 4v1m0 21v1m0 7v1m0 2v2m0 9v1m0 9v1m0 2v1m0 1v1m0 3v1m0 2v1m0 6v1m0 3v1m0 3v1m0 4v1m0 14v1m0 14v1m0 2v1m0 1v1m0 3v1M18.5 46v1m0 13v1m0 16v1m0 7v1m0 31v1m0 5v1m0 14v1m0 3v1m0 9v1m0 12v2m0 10v1m0 3v1m0 24v1m0 5v2m0 17v1m0 3v1m0 15v1m0 100v1m0 33v1m0 3v1M19.5 6v1m0 6v2m0 2v1m0 3v1m0 3v1m0 3v1m0 31v1m0 7v1m0 7v1m0 1v1m0 14v1m0 2v2m0 23v1m0 3v1m0 2v1m0 1v1m0 7v1m0 29v2m0 2v1m0 7v1m0 7v1m0 3v1m0 10v1m0 5v1m0 3v1m0 1v1m0 6v2m0 2v1m0 4v1m0 1v1m0 18v1m0 8v1m0 4v2m0 6v1m0 1v3m0 5v1m0 6v1m0 2v1m0 1v1m0 2v1m0 5v1m0 1v1m0 22v1m0 3v1m0 2v1m0 20v1m0 4v2m0 6v1m0 4v1m0 6v1M20.5 13v1m0 2v1m0 1v1m0 1v1m0 10v2m0 62v1m0 21v1m0 2v1m0 3v1m0 19v1m0 26v1m0 1v1m0 23v1m0 15v1m0 9v1m0 13v1m0 2v1m0 9v1m0 2v1m0 2v2m0 22v1m0 3v2m0 25v1m0 21v1m0 5v1m0 3v1m0 5v2m0 11v1m0 9v1m0 2v1m0 9v1m0 2v1m0 1v1M21.5 16v1m0 24v2m0 5v1m0 6v1m0 5v2m0 11v1m0 5v1m0 8v1m0 7v1m0 12v1m0 21v1m0 4v1m0 3v1m0 5v1m0 29v3m0 15v1m0 1v1m0 1v1m0 4v1m0 4v1m0 8v1m0 7v1m0 2v1m0 9v1m0 5v1m0 8v1m0 21v2m0 13v1m0 1v1m0 4v1m0 13v2m0 6v2m0 5v1m0 11v1m0 8v1m0 8v1m0 2v1m0 8v1m0 14v1m0 7v1M22.5 7v1m0 3v1m0 8v1m0 2v1m0 34v1m0 8v1m0 13v1m0 14v1m0 23v1m0 15v1m0 25v1m0 35v1m0 11v2m0 7v1m0 1v1m0 12v1m0 40v1m0 3v1m0 12v1m0 4v1m0 13v1m0 12v1m0 41v1m0 26v1M23.5 9v1m0 2v1m0 4v1m0 1v1m0 11v1m0 12v1m0 6v1m0 3v1m0 4v1m0 1v1m0 4v1m0 28v1m0 1v1m0 3v1m0 4v1m0 1v1m0 22v1m0 2v2m0 15v1m0 3v3m0 8v2m0 10v1m0 32v1m0 14v1m0 1v1m0 11v1m0 5v1m0 1v1m0 2v1m0 9v1m0 2v1m0 27v1m0 3v1m0 3v1m0 12v1m0 23v2m0 2v1m0 1v1m0 2v1m0 3v1m0 12v3m0 5v1m0 3v1M24.5 6v1m0 3v1m0 1v1m0 20v1m0 4v1m0 10v1m0 3v1m0 7v1m0 20v1m0 4v1m0 7v1m0 1v2m0 4v1m0 4v1m0 4v1m0 11v1m0 1v1m0 1v1m0 6v1m0 8v1m0 8v1m0 1v1m0 2v1m0 4v1m0 17v1m0 10v1m0 41v3m0 2v2m0 1v1m0 35v1m0 2v2m0 16v2m0 7v1m0 2v1m0 12v1m0 2v1m0 10v1m0 3v1m0 19v2m0 1v1m0 6v1m0 1v1m0 8v1M25.5 5v1m0 3v1m0 9v1m0 17v1m0 10v1m0 11v1m0 2v1m0 8v2m0 4v1m0 6v1m0 1v1m0 10v1m0 2v1m0 3v1m0 12v1m0 2v1m0 1v2m0 2v1m0 2v1m0 11v2m0 8v1m0 28v1m0 9v1m0 5v1m0 10v1m0 8v1m0 11v1m0 6v1m0 18v1m0 6v1m0 31v1m0 1v1m0 2v1m0 8v1m0 17v1m0 5v1m0 2v1m0 2v1m0 5v2m0 29v1m0 3v2M26.5 2v1m0 11v1m0 23v1m0 12v1m0 5v1m0 2v1m0 1v1m0 4v1m0 4v1m0 3v1m0 3v1m0 1v1m0 1v1m0 10v1m0 25v1m0 6v2m0 14v1m0 6v1m0 14v1m0 3v1m0 22v1m0 1v1m0 3v1m0 13v1m0 4v1m0 1v1m0 10v1m0 14v2m0 7v1m0 8v3m0 29v1m0 1v1m0 26v1m0 12v1m0 21v1m0 1v1m0 1v1M27.5 2v1m0 27v1m0 1v1m0 16v1m0 7v1m0 13v1m0 15v1m0 25v1m0 11v1m0 1v2m0 11v1m0 2v1m0 2v1m0 13v1m0 25v1m0 3v1m0 18v1m0 13v2m0 12v1m0 1v1m0 9v1m0 4v1m0 28v2m0 14v1m0 6v1m0 5v1m0 5v1m0 7v1m0 1v1m0 2v1m0 3v1m0 1v1m0 3v1m0 2v1m0 1v1m0 2v1m0 7v1m0 21v1m0 4v1M28.5 0v1m0 2v2m0 8v1m0 11v1m0 12v1m0 4v1m0 36v1m0 10v1m0 4v1m0 11v1m0 12v1m0 12v1m0 42v1m0 11v1m0 6v1m0 13v1m0 5v1m0 4v1m0 8v1m0 8v2m0 16v1m0 4v1m0 18v2m0 14v1m0 12v1m0 4v1m0 7v1m0 3v1m0 51v1m0 14v1M29.5 7v1m0 3v1m0 2v1m0 9v1m0 4v1m0 1v1m0 5v1m0 5v3m0 11v2m0 11v1m0 14v1m0 7v1m0 10v2m0 2v1m0 8v1m0 3v1m0 52v1m0 6v1m0 1v1m0 3v1m0 5v1m0 1v1m0 14v1m0 7v1m0 24v1m0 1v1m0 5v1m0 1v1m0 2v1m0 49v1m0 7v1m0 13v1m0 40v1m0 9v1m0 2v1m0 8v2M30.5 1v2m0 2v1m0 9v1m0 6v1m0 3v1m0 1v2m0 14v1m0 35v1m0 22v1m0 2v1m0 4v1m0 12v1m0 1v1m0 3v1m0 7v1m0 3v1m0 2v1m0 13v1m0 1v1m0 6v2m0 9v1m0 6v1m0 1v2m0 5v2m0 8v1m0 25v1m0 5v1m0 15v1m0 2v1m0 5v2m0 1v1m0 7v1m0 1v1m0 12v2m0 19v1m0 5v1m0 8v1m0 15v1m0 1v1m0 13v1m0 3v1m0 1v1m0 3v1m0 16v3m0 2v1M31.5 40v1m0 1v1m0 5v1m0 13v1m0 14v1m0 15v1m0 3v1m0 3v1m0 11v1m0 7v1m0 3v1m0 1v1m0 2v1m0 23v1m0 3v1m0 7v1m0 14v1m0 2v2m0 4v3m0 1v1m0 10v1m0 1v1m0 6v1m0 10v1m0 9v1m0 7v1m0 4v1m0 5v1m0 2v1m0 2v1m0 1v1m0 7v1m0 3v1m0 9v1m0 17v2m0 4v2m0 1v1m0 7v1m0 7v1m0 4v1m0 6v1m0 1v1m0 6v2m0 4v1m0 5v1m0 5v1m0 9v1m0 10v1m0 1v1M32.5 9v1m0 2v1m0 1v1m0 41v1m0 27v1m0 12v1m0 5v1m0 14v1m0 45v1m0 25v1m0 4v1m0 8v1m0 19v2m0 1v2m0 2v1m0 1v1m0 13v1m0 5v1m0 4v1m0 3v1m0 13v1m0 17v1m0 16v1m0 7v1m0 13v1m0 12v1m0 1v1m0 24v1m0 8v1m0 2v1m0 2v1m0 5v1M33.5 12v2m0 3v1m0 3v2m0 1v1m0 1v1m0 1v1m0 2v1m0 50v1m0 1v2m0 3v1m0 11v1m0 3v1m0 7v1m0 6v1m0 5v2m0 2v1m0 2v1m0 7v1m0 3v1m0 5v1m0 2v1m0 7v1m0 1v1m0 1v2m0 1v1m0 8v1m0 2v2m0 11v1m0 19v1m0 1v1m0 6v1m0 5v1m0 13v1m0 27v1m0 13v1m0 12v1m0 2v1m0 4v1m0 2v1m0 1v1m0 4v1m0 8v1m0 1v1m0 2v1m0 4v1m0 13v1m0 4v1m0 5v1m0 9v1m0 14v1m0 2v1M34.5 13v1m0 9v1m0 12v1m0 7v1m0 10v1m0 2v2m0 8v1m0 10v1m0 4v1m0 1v1m0 3v1m0 22v1m0 2v1m0 9v1m0 2v2m0 34v1m0 48v2m0 7v1m0 3v1m0 4v1m0 10v1m0 12v2m0 8v1m0 19v1m0 4v1m0 38v1m0 27v1m0 3v1m0 14v1m0 4v1m0 7v2M35.5 34v2m0 16v1m0 4v1m0 1v1m0 5v1m0 3v1m0 15v1m0 7v1m0 7v1m0 34v1m0 24v1m0 29v1m0 10v1m0 1v1m0 19v1m0 14v1m0 18v1m0 6v2m0 30v1m0 25v1m0 8v1m0 21v1m0 8v1M36.5 6v2m0 5v1m0 4v1m0 2v1m0 16v1m0 11v1m0 4v1m0 8v1m0 11v1m0 2v1m0 43v1m0 15v1m0 6v1m0 21v1m0 2v2m0 4v1m0 1v1m0 4v1m0 2v1m0 24v1m0 9v1m0 12v1m0 5v1m0 6v4m0 21v2m0 1v1m0 9v1m0 34v1m0 4v1m0 6v1m0 3v1m0 10v1m0 1v1m0 3v1m0 1v1m0 32v1m0 2v1M37.5 1v1m0 3v1m0 6v2m0 7v1m0 4v1m0 11v1m0 1v1m0 3v2m0 9v1m0 8v1m0 4v1m0 10v1m0 4v1m0 1v2m0 2v1m0 1v1m0 48v1m0 4v1m0 5v1m0 2v1m0 2v3m0 15v1m0 3v2m0 10v1m0 6v1m0 8v1m0 6v2m0 1v1m0 12v1m0 7v1m0 9v1m0 7v1m0 6v1m0 6v1m0 7v1m0 12v1m0 6v2m0 9v1m0 8v1m0 5v2m0 7v1m0 3v1m0 7v1m0 19v1m0 6v1M38.5 10v1m0 4v1m0 13v2m0 4v1m0 1v1m0 4v1m0 11v1m0 55v1m0 7v1m0 13v1m0 45v1m0 12v1m0 18v2m0 4v1m0 7v1m0 8v1m0 5v1m0 1v1m0 13v2m0 6v1m0 4v1m0 15v1m0 31v1m0 1v1m0 18v2m0 11v1m0 3v2m0 5v1m0 9v1m0 2v1m0 16v1M39.5 2v1m0 3v1m0 3v1m0 17v1m0 7v2m0 4v1m0 1v1m0 23v1m0 9v1m0 1v2m0 9v1m0 21v1m0 1v1m0 7v1m0 2v1m0 4v1m0 10v1m0 3v1m0 4v1m0 2v1m0 2v1m0 6v1m0 1v1m0 13v3m0 7v1m0 1v2m0 6v1m0 5v1m0 6v1m0 3v1m0 4v1m0 3v1m0 1v1m0 1v1m0 2v1m0 1v2m0 12v5m0 22v1m0 4v2m0 2v1m0 9v1m0 1v1m0 10v1m0 19v1m0 6v1m0 2v1m0 24v1m0 2v1m0 7v1m0 6v1m0 6v1m0 1v1m0 1v2M40.5 2v2m0 2v1m0 6v1m0 3v1m0 6v1m0 5v1m0 13v1m0 6v1m0 9v3m0 2v1m0 10v1m0 2v1m0 9v1m0 1v1m0 5v1m0 4v1m0 5v1m0 2v2m0 10v1m0 5v1m0 1v1m0 2v1m0 3v2m0 7v1m0 6v1m0 4v1m0 29v1m0 4v1m0 38v1m0 3v1m0 18v2m0 9v1m0 1v2m0 16v1m0 5v1m0 5v1m0 5v1m0 1v1m0 25v1m0 3v1m0 1v1m0 3v1m0 6v1m0 18v1m0 6v1m0 1v1m0 1v1m0 3v1m0 5v1M41.5 3v1m0 6v3m0 4v1m0 26v1m0 3v2m0 8v1m0 4v1m0 17v1m0 8v1m0 5v1m0 3v1m0 4v1m0 7v1m0 4v1m0 6v1m0 4v1m0 2v1m0 11v1m0 7v1m0 9v1m0 2v3m0 2v4m0 1v1m0 2v1m0 8v1m0 1v1m0 1v1m0 2v1m0 14v1m0 11v2m0 16v1m0 4v1m0 15v1m0 6v1m0 5v1m0 9v2m0 12v1m0 17v2m0 4v1m0 41v1m0 4v2m0 3v1m0 2v1m0 11v1m0 1v1M42.5 0v1m0 13v1m0 10v2m0 8v1m0 11v1m0 2v1m0 1v1m0 10v1m0 3v1m0 5v1m0 13v1m0 9v1m0 20v1m0 3v1m0 4v1m0 16v1m0 40v1m0 8v2m0 12v1m0 3v1m0 5v1m0 44v1m0 13v1m0 1v1m0 37v1m0 1v1m0 37v1m0 1v1m0 11v1m0 5v2m0 4v1M43.5 5v1m0 5v1m0 20v1m0 16v1m0 8v1m0 9v1m0 7v1m0 45v1m0 48v1m0 33v1m0 30v1m0 20v1m0 43v1m0 25v1m0 33v1m0 4v1m0 8v1m0 15v1m0 1v1M44.5 4v1m0 8v1m0 12v2m0 1v1m0 5v1m0 19v1m0 9v1m0 13v1m0 1v1m0 6v1m0 17v1m0 8v1m0 6v1m0 14v2m0 2v1m0 5v1m0 1v1m0 14v1m0 25v1m0 5v1m0 7v1m0 6v1m0 4v2m0 17v1m0 14v2m0 26v1m0 6v1m0 3v1m0 1v1m0 6v1m0 2v2m0 2v1m0 3v1m0 15v1m0 6v1m0 1v1m0 8v1m0 5v1m0 1v1m0 11v1m0 9v1m0 3v1m0 4v2m0 7v1M45.5 9v1m0 9v1m0 1v1m0 3v1m0 7v1m0 10v1m0 14v1m0 2v1m0 17v1m0 2v1m0 4v2m0 1v1m0 23v1m0 4v1m0 11v1m0 13v1m0 27v1m0 6v2m0 10v1m0 2v2m0 8v1m0 18v1m0 5v1m0 7v1m0 6v1m0 1v1m0 11v1m0 15v2m0 14v1m0 5v1m0 1v1m0 1v1m0 2v1m0 4v1m0 5v1m0 3v1m0 4v1m0 2v2m0 8v1m0 19v2m0 4v1m0 4v1m0 5v1m0 12v1m0 1v1M46.5 6v1m0 3v1m0 37v1m0 10v1m0 1v1m0 16v2m0 4v1m0 30v1m0 25v1m0 2v1m0 7v1m0 4v1m0 5v1m0 3v1m0 4v1m0 4v3m0 17v1m0 2v1m0 10v1m0 2v1m0 2v1m0 5v1m0 9v2m0 7v1m0 2v1m0 1v1m0 1v1m0 2v1m0 13v1m0 12v1m0 1v1m0 4v1m0 4v1m0 7v1m0 10v1m0 24v1m0 5v1m0 2v1m0 10v3m0 1v1m0 9v1m0 21v1M47.5 0v1m0 7v1m0 4v1m0 2v1m0 7v1m0 1v2m0 22v1m0 13v1m0 4v1m0 14v1m0 2v1m0 14v1m0 1v1m0 14v1m0 36v1m0 16v1m0 10v1m0 24v1m0 18v1m0 7v1m0 2v1m0 7v1m0 1v1m0 16v1m0 1v1m0 3v1m0 7v1m0 1v1m0 19v1m0 30v1m0 15v1m0 15v1m0 9v1m0 4v1m0 1v1m0 3v1m0 4v1M48.5 16v1m0 15v1m0 9v1m0 31v1m0 16v1m0 4v1m0 5v1m0 1v1m0 3v1m0 8v1m0 1v1m0 2v1m0 1v1m0 1v1m0 6v1m0 1v1m0 15v1m0 5v1m0 13v1m0 3v1m0 10v1m0 2v1m0 25v1m0 2v1m0 17v1m0 3v2m0 4v1m0 14v1m0 5v1m0 4v1m0 1v1m0 3v1m0 4v2m0 1v1m0 1v1m0 1v1m0 9v1m0 4v1m0 1v1m0 3v1m0 15v1m0 5v2m0 1v1m0 14v2m0 2v1m0 4v1m0 14v1m0 3v1m0 8v2m0 1v1M49.5 4v1m0 28v1m0 22v1m0 6v2m0 7v1m0 12v1m0 8v1m0 36v1m0 22v2m0 6v1m0 1v1m0 13v1m0 1v2m0 11v1m0 4v1m0 2v1m0 18v1m0 20v1m0 30v1m0 11v1m0 22v2m0 14v1m0 12v1m0 9v1m0 14v1m0 21v1m0 8v1M50.5 2v1m0 1v1m0 12v1m0 8v1m0 1v1m0 5v1m0 3v1m0 5v1m0 5v2m0 4v1m0 15v1m0 12v1m0 4v1m0 23v1m0 1v1m0 5v1m0 1v1m0 4v1m0 1v1m0 6v1m0 6v1m0 7v1m0 2v1m0 9v1m0 7v2m0 3v1m0 5v1m0 5v1m0 3v1m0 16v1m0 21v1m0 10v2m0 5v1m0 4v1m0 7v1m0 9v1m0 6v1m0 2v1m0 1v1m0 13v1m0 3v1m0 16v1m0 11v1m0 12v1m0 2v1m0 22v1m0 2v3m0 12v1M51.5 8v1m0 7v1m0 2v2m0 1v1m0 7v1m0 7v1m0 19v1m0 1v1m0 4v1m0 24v1m0 4v1m0 9v1m0 5v1m0 4v1m0 17v1m0 4v1m0 9v1m0 2v1m0 1v1m0 1v1m0 1v1m0 10v1m0 6v1m0 6v1m0 5v1m0 11v1m0 7v1m0 11v1m0 27v1m0 9v1m0 3v1m0 6v1m0 4v1m0 2v1m0 1v1m0 2v2m0 18v1m0 5v1m0 4v1m0 10v1m0 4v1m0 16v1m0 4v1m0 2v1m0 4v1m0 11v1m0 13v1m0 4v1M52.5 4v1m0 12v1m0 8v1m0 3v1m0 2v1m0 4v1m0 3v1m0 14v1m0 42v1m0 8v1m0 1v1m0 1v1m0 21v1m0 26v2m0 52v1m0 5v1m0 4v1m0 17v3m0 2v1m0 5v1m0 8v1m0 41v1m0 33v1m0 11v1m0 7v1M53.5 0v1m0 2v1m0 5v1m0 1v1m0 17v1m0 5v1m0 17v1m0 10v1m0 4v1m0 3v1m0 4v1m0 4v1m0 4v1m0 3v1m0 4v1m0 27v1m0 5v1m0 7v1m0 5v1m0 2v1m0 25v1m0 5v1m0 9v1m0 3v1m0 12v1m0 2v1m0 1v1m0 16v1m0 2v1m0 8v2m0 8v1m0 12v1m0 12v1m0 5v2m0 4v1m0 6v1m0 10v1m0 2v1m0 13v1m0 10v1m0 18v2m0 7v1m0 3v1M54.5 1v1m0 1v1m0 10v2m0 48v1m0 6v1m0 10v1m0 19v2m0 14v1m0 1v1m0 7v1m0 3v1m0 9v1m0 11v1m0 10v1m0 53v1m0 16v1m0 2v1m0 4v1m0 5v1m0 3v1m0 3v1m0 31v2m0 1v1m0 21v1m0 2v1m0 6v2m0 44v1m0 7v1M55.5 18v1m0 6v1m0 11v1m0 4v1m0 51v1m0 67v1m0 72v1m0 5v1m0 52v2m0 1v1m0 10v1m0 6v1m0 15v1m0 12v1m0 1v1m0 3v1m0 21v1M56.5 1v1m0 4v1m0 1v1m0 12v2m0 15v1m0 6v1m0 2v1m0 1v1m0 10v2m0 4v1m0 2v1m0 13v1m0 46v1m0 1v1m0 10v1m0 6v1m0 3v1m0 2v1m0 17v1m0 8v1m0 10v2m0 2v1m0 14v1m0 3v1m0 13v1m0 1v1m0 7v1m0 5v2m0 3v1m0 6v2m0 1v1m0 6v2m0 6v1m0 1v1m0 9v1m0 3v1m0 6v1m0 12v1m0 4v1m0 4v1m0 1v1m0 5v1m0 17v1m0 1v1m0 7v1m0 4v2m0 2v1m0 2v1m0 10v3m0 2v1M57.5 1v3m0 2v1m0 24v1m0 6v1m0 8v1m0 14v1m0 5v1m0 6v1m0 2v1m0 2v1m0 3v1m0 1v1m0 31v1m0 4v1m0 3v1m0 11v2m0 6v1m0 5v1m0 6v1m0 1v1m0 16v2m0 7v1m0 2v1m0 14v1m0 6v1m0 3v1m0 6v1m0 3v2m0 9v1m0 12v1m0 15v1m0 3v1m0 11v1m0 8v3m0 17v2m0 1v1m0 6v1m0 19v1m0 10v1m0 6v1m0 11v1m0 5v1m0 1v1m0 11v1M58.5 9v1m0 1v1m0 2v1m0 2v1m0 9v1m0 12v1m0 4v1m0 9v1m0 27v1m0 14v1m0 5v1m0 2v1m0 2v1m0 1v2m0 2v1m0 11v1m0 77v1m0 4v1m0 6v1m0 13v1m0 1v2m0 25v1m0 44v1m0 8v1m0 25v1m0 9v4m0 20v1m0 1v1m0 11v1m0 1v1M59.5 7v1m0 7v1m0 6v1m0 8v1m0 16v1m0 1v1m0 23v1m0 6v1m0 1v1m0 26v1m0 35v1m0 10v1m0 1v2m0 23v1m0 2v1m0 24v1m0 13v1m0 11v1m0 2v1m0 6v1m0 10v1m0 2v2m0 7v1m0 5v1m0 1v1m0 8v1m0 17v1m0 19v1m0 1v2m0 13v1m0 2v1m0 19v1m0 2v1m0 13v2M60.5 5v2m0 1v1m0 10v1m0 7v1m0 5v1m0 42v3m0 10v1m0 6v1m0 8v1m0 5v1m0 4v2m0 6v1m0 1v1m0 35v1m0 10v1m0 18v1m0 9v1m0 8v1m0 28v1m0 9v1m0 9v1m0 8v1m0 1v1m0 7v1m0 1v1m0 8v1m0 10v2m0 4v1m0 7v1m0 20v1m0 1v1m0 4v1m0 21v1M61.5 7v1m0 5v1m0 20v1m0 31v1m0 30v1m0 18v1m0 7v1m0 1v1m0 4v1m0 11v1m0 8v1m0 15v1m0 9v2m0 5v1m0 41v1m0 5v1m0 7v1m0 1v2m0 31v1m0 5v1m0 21v1m0 1v1m0 2v1m0 17v1m0 6v1m0 2v1m0 6v1m0 4v1m0 4v2m0 22v2m0 10v1M62.5 17v2m0 1v1m0 12v1m0 26v1m0 19v2m0 18v1m0 7v1m0 5v1m0 4v1m0 3v1m0 6v2m0 5v1m0 4v1m0 1v1m0 3v1m0 17v1m0 9v1m0 2v1m0 1v1m0 8v1m0 1v1m0 9v1m0 1v1m0 19v2m0 14v1m0 21v1m0 4v1m0 6v1m0 1v1m0 3v2m0 8v2m0 7v1m0 7v1m0 10v1m0 18v1m0 4v2m0 5v1m0 9v1m0 27v1m0 3v1M63.5 0v1m0 6v2m0 1v1m0 12v1m0 3v1m0 1v1m0 6v1m0 5v3m0 5v1m0 22v1m0 21v1m0 1v1m0 4v1m0 15v1m0 1v1m0 1v1m0 12v1m0 14v2m0 2v1m0 2v2m0 9v1m0 1v2m0 19v1m0 8v1m0 4v1m0 5v1m0 5v3m0 19v1m0 4v1m0 6v1m0 4v1m0 4v1m0 5v1m0 3v2m0 4v1m0 25v1m0 2v1m0 9v1m0 12v1m0 2v1m0 16v2m0 11v1m0 13v1m0 3v1m0 1v1m0 1v1m0 5v1M64.5 4v1m0 6v1m0 1v1m0 3v1m0 1v2m0 35v1m0 19v2m0 4v2m0 2v1m0 19v2m0 8v1m0 35v1m0 11v1m0 3v1m0 15v1m0 1v1m0 18v1m0 12v1m0 12v1m0 5v1m0 9v1m0 10v1m0 1v1m0 12v1m0 2v2m0 3v2m0 3v1m0 7v1m0 27v1m0 1v1m0 8v1m0 1v1m0 1v2m0 2v1m0 17v1m0 15v1m0 1v2m0 2v1m0 3v1m0 8v1M65.5 11v1m0 4v1m0 5v1m0 5v1m0 6v1m0 6v1m0 37v1m0 28v1m0 22v1m0 11v2m0 4v1m0 18v1m0 4v1m0 3v1m0 12v1m0 2v1m0 1v1m0 4v1m0 14v1m0 13v1m0 17v1m0 14v1m0 8v2m0 12v1m0 5v1m0 8v1m0 12v1m0 2v1m0 6v1m0 4v1m0 8v2m0 20v1m0 4v1m0 1v1m0 2v1m0 12v1m0 2v1m0 1v1m0 2v3M66.5 14v1m0 9v1m0 17v2m0 25v1m0 1v1m0 5v1m0 2v1m0 15v1m0 8v1m0 4v1m0 4v1m0 9v1m0 15v1m0 8v2m0 1v1m0 11v2m0 8v1m0 15v1m0 6v1m0 3v1m0 28v1m0 8v1m0 2v1m0 1v1m0 14v2m0 4v1m0 1v1m0 2v1m0 6v2m0 1v1m0 30v1m0 17v1m0 3v1m0 3v1m0 2v1m0 10v1m0 15v1m0 16v1M67.5 0v1m0 12v1m0 7v1m0 5v1m0 1v1m0 2v1m0 26v1m0 6v2m0 10v1m0 2v1m0 2v1m0 10v1m0 12v1m0 4v1m0 4v1m0 4v1m0 7v1m0 6v1m0 19v1m0 5v1m0 3v1m0 8v1m0 31v1m0 1v2m0 20v1m0 1v1m0 3v1m0 4v1m0 1v1m0 20v2m0 6v1m0 13v1m0 6v1m0 19v1m0 14v1m0 14v1m0 4v1m0 1v1m0 1v1m0 22v1m0 1v1m0 10v1M68.5 9v1m0 30v1m0 1v2m0 6v1m0 14v1m0 3v1m0 5v1m0 6v1m0 5v1m0 1v1m0 14v1m0 5v1m0 12v1m0 9v2m0 6v1m0 6v1m0 11v1m0 20v1m0 12v1m0 12v1m0 13v1m0 28v1m0 15v1m0 2v1m0 4v1m0 31v1m0 11v1m0 3v1m0 16v1m0 3v1m0 12v1m0 2v1m0 4v1m0 4v1m0 3v1m0 4v3m0 9v1M69.5 0v1m0 9v2m0 4v1m0 1v1m0 3v1m0 2v1m0 13v2m0 10v1m0 4v1m0 14v1m0 5v1m0 6v1m0 1v1m0 2v1m0 1v1m0 5v1m0 1v1m0 4v1m0 5v1m0 17v1m0 11v1m0 4v1m0 19v1m0 23v1m0 6v1m0 6v1m0 4v1m0 7v1m0 2v1m0 7v1m0 12v1m0 10v1m0 2v1m0 11v1m0 30v1m0 12v1m0 5v1m0 3v1m0 4v1m0 2v1m0 4v1m0 11v1m0 6v1m0 2v1m0 3v1m0 11v1m0 3v1m0 14v1M70.5 3v1m0 2v1m0 5v1m0 12v1m0 12v1m0 8v1m0 5v1m0 12v2m0 24v1m0 4v1m0 4v1m0 25v1m0 12v1m0 20v1m0 3v1m0 3v1m0 3v1m0 21v2m0 20v1m0 9v1m0 14v1m0 4v1m0 12v1m0 43v1m0 3v1m0 10v1m0 4v2m0 4v1m0 10v1m0 14v3m0 14v1m0 2v1m0 13v1M71.5 7v1m0 15v1m0 4v1m0 10v2m0 36v1m0 23v1m0 7v1m0 6v1m0 7v1m0 2v1m0 14v1m0 12v1m0 35v1m0 5v1m0 9v1m0 13v2m0 5v1m0 15v1m0 8v1m0 2v1m0 14v1m0 10v1m0 7v1m0 10v1m0 9v1m0 1v1m0 6v1m0 10v1m0 14v1m0 4v1m0 25v1m0 9v1m0 3v1M72.5 6v1m0 5v1m0 5v1m0 17v1m0 19v1m0 17v1m0 12v2m0 6v1m0 22v2m0 29v1m0 3v1m0 1v1m0 30v1m0 6v1m0 4v1m0 9v1m0 31v2m0 4v1m0 2v1m0 1v1m0 3v2m0 14v2m0 11v1m0 19v1m0 10v1m0 6v2m0 5v2m0 7v1m0 7v1m0 3v2m0 15v1m0 6v1m0 7v1m0 3v1M73.5 12v1m0 4v1m0 12v1m0 1v1m0 5v1m0 14v2m0 2v1m0 1v3m0 3v1m0 1v1m0 9v1m0 8v1m0 3v1m0 3v1m0 8v1m0 2v1m0 35v1m0 7v3m0 1v1m0 2v1m0 2v1m0 1v1m0 4v1m0 2v1m0 6v1m0 16v1m0 11v1m0 16v1m0 1v1m0 1v1m0 3v2m0 4v1m0 8v1m0 10v1m0 7v1m0 16v1m0 5v1m0 7v1m0 16v1m0 5v1m0 8v1m0 25v1m0 11v1M74.5 4v1m0 1v2m0 2v1m0 2v1m0 2v1m0 7v1m0 6v1m0 6v1m0 4v1m0 4v1m0 1v1m0 1v1m0 21v1m0 3v4m0 3v2m0 3v1m0 2v2m0 6v1m0 1v1m0 6v1m0 3v1m0 4v1m0 4v1m0 9v1m0 8v1m0 2v1m0 5v1m0 14v1m0 1v1m0 6v1m0 5v2m0 6v1m0 17v1m0 5v1m0 5v2m0 1v1m0 6v1m0 3v1m0 11v1m0 9v1m0 6v1m0 7v1m0 4v1m0 22v1m0 5v1m0 30v2m0 3v1m0 2v1m0 1v2m0 10v1m0 1v1m0 3v3m0 3v2m0 1v1m0 11v1M75.5 15v1m0 23v1m0 5v2m0 9v2m0 20v2m0 6v1m0 1v1m0 6v1m0 7v1m0 14v1m0 20v1m0 3v1m0 13v1m0 24v1m0 3v2m0 1v1m0 31v1m0 3v1m0 7v1m0 7v1m0 8v1m0 1v1m0 4v1m0 3v1m0 1v1m0 24v1m0 12v2m0 16v1m0 8v1m0 12v1m0 8v1m0 6v1m0 4v1m0 1v1m0 13v1m0 6v1m0 5v1M76.5 58v1m0 7v1m0 3v1m0 27v1m0 6v1m0 13v1m0 3v1m0 6v1m0 4v1m0 10v1m0 9v2m0 20v1m0 5v1m0 2v1m0 2v1m0 5v1m0 19v1m0 10v1m0 1v2m0 8v1m0 6v1m0 9v1m0 1v1m0 6v1m0 10v1m0 13v1m0 6v1m0 12v1m0 4v1m0 17v1m0 15v1m0 9v1m0 13v1m0 7v2m0 1v1m0 1v1M77.5 14v1m0 8v1m0 4v2m0 8v1m0 38v1m0 1v1m0 33v1m0 8v1m0 4v1m0 15v1m0 11v1m0 7v2m0 11v1m0 13v1m0 41v2m0 2v1m0 2v1m0 2v1m0 7v1m0 18v1m0 24v1m0 1v1m0 7v1m0 18v2m0 11v1m0 5v1m0 25v1m0 18v1M78.5 24v2m0 1v1m0 10v1m0 20v1m0 18v1m0 7v1m0 10v1m0 10v1m0 2v1m0 2v1m0 3v1m0 7v1m0 1v3m0 27v1m0 4v1m0 14v1m0 5v2m0 1v1m0 7v1m0 7v1m0 17v1m0 7v1m0 5v1m0 7v1m0 9v1m0 10v1m0 7v1m0 13v1m0 5v1m0 16v1m0 4v1m0 2v1m0 19v1m0 3v1m0 7v1m0 23v1m0 9v1m0 2v1M79.5 0v1m0 1v1m0 12v1m0 5v1m0 2v1m0 1v1m0 3v1m0 2v1m0 4v3m0 10v2m0 10v1m0 4v1m0 12v1m0 1v1m0 9v1m0 4v1m0 1v2m0 3v1m0 10v1m0 5v1m0 2v1m0 3v1m0 10v1m0 5v1m0 10v1m0 13v1m0 1v1m0 1v2m0 3v1m0 3v1m0 1v2m0 4v1m0 5v1m0 2v1m0 7v2m0 14v1m0 17v1m0 20v1m0 3v1m0 4v1m0 7v1m0 8v2m0 1v1m0 12v1m0 16v1m0 3v1m0 3v1m0 2v1m0 3v1m0 9v1m0 1v1m0 2v1m0 2v1m0 2v1m0 8v1m0 3v1m0 7v1m0 6v1m0 1v2M80.5 7v1m0 2v1m0 1v1m0 6v1m0 11v1m0 1v1m0 2v1m0 15v1m0 3v1m0 15v1m0 6v1m0 4v1m0 1v1m0 9v1m0 19v1m0 1v2m0 2v1m0 2v1m0 2v2m0 13v1m0 5v2m0 17v1m0 3v1m0 21v1m0 29v1m0 14v1m0 4v1m0 5v2m0 6v1m0 9v1m0 17v1m0 4v1m0 6v1m0 9v1m0 11v1m0 19v1m0 1v1m0 5v1m0 1v1m0 14v1m0 20v1M81.5 2v1m0 5v1m0 2v1m0 13v1m0 11v1m0 3v1m0 23v2m0 14v1m0 1v1m0 1v1m0 20v2m0 13v1m0 12v1m0 23v1m0 2v1m0 1v1m0 26v1m0 7v2m0 7v1m0 9v1m0 4v1m0 9v1m0 2v1m0 3v1m0 5v1m0 9v2m0 2v1m0 6v1m0 12v1m0 6v1m0 14v1m0 4v1m0 8v1m0 29v1m0 5v1m0 1v1m0 24v2m0 2v1m0 6v2M82.5 0v1m0 2v1m0 8v1m0 16v1m0 3v1m0 4v1m0 9v1m0 21v2m0 1v3m0 4v1m0 5v1m0 2v1m0 1v1m0 14v1m0 3v1m0 6v1m0 2v1m0 4v1m0 11v1m0 1v1m0 9v2m0 2v1m0 10v2m0 2v1m0 3v1m0 4v1m0 4v1m0 12v1m0 4v2m0 2v1m0 17v1m0 17v1m0 14v1m0 2v1m0 12v1m0 1v1m0 1v1m0 3v2m0 29v1m0 5v1m0 5v1m0 14v2m0 9v2m0 24v1m0 10v1M83.5 7v1m0 2v3m0 24v1m0 3v1m0 3v1m0 12v1m0 21v1m0 10v1m0 3v1m0 2v1m0 6v1m0 3v1m0 19v1m0 1v3m0 1v1m0 8v1m0 7v1m0 7v1m0 2v1m0 14v1m0 6v3m0 5v1m0 14v1m0 4v1m0 3v2m0 4v1m0 10v1m0 1v1m0 1v1m0 1v1m0 4v1m0 9v1m0 7v1m0 1v1m0 3v1m0 5v1m0 9v1m0 33v1m0 8v1m0 4v1m0 3v1m0 1v1m0 12v1m0 1v1m0 3v1m0 2v1m0 8v1m0 5v1m0 3v2m0 3v1m0 2v1M84.5 2v2m0 13v1m0 3v1m0 3v1m0 11v1m0 1v1m0 4v1m0 1v1m0 2v1m0 2v1m0 16v1m0 9v1m0 4v1m0 9v1m0 15v1m0 1v2m0 2v2m0 5v1m0 2v1m0 14v1m0 16v1m0 2v1m0 1v1m0 6v1m0 3v1m0 5v1m0 3v1m0 35v1m0 10v1m0 1v2m0 8v1m0 24v1m0 5v1m0 2v1m0 17v1m0 29v1m0 3v1m0 32v1m0 7v1m0 1v2M85.5 21v1m0 5v2m0 16v1m0 2v1m0 2v1m0 1v2m0 1v1m0 4v2m0 12v1m0 3v1m0 1v1m0 26v1m0 8v1m0 5v1m0 5v1m0 12v1m0 2v1m0 2v1m0 9v1m0 11v1m0 10v1m0 10v1m0 13v1m0 2v1m0 7v1m0 1v1m0 1v1m0 2v1m0 24v1m0 1v2m0 2v1m0 1v1m0 4v1m0 10v1m0 4v1m0 3v2m0 2v1m0 8v1m0 2v2m0 7v1m0 5v1m0 9v1m0 2v1m0 7v1m0 5v2m0 4v1m0 12v1m0 3v1m0 2v1m0 4v1m0 8v1M86.5 10v3m0 3v1m0 6v2m0 12v2m0 12v1m0 17v1m0 1v1m0 17v1m0 17v1m0 12v1m0 2v1m0 20v1m0 23v1m0 9v1m0 1v2m0 2v1m0 19v1m0 20v1m0 10v1m0 7v1m0 12v2m0 17v1m0 5v2m0 15v1m0 25v1m0 11v2m0 39v1M87.5 6v2m0 10v1m0 24v1m0 3v1m0 4v1m0 7v1m0 4v1m0 4v1m0 2v1m0 55v1m0 4v1m0 1v1m0 6v2m0 32v1m0 2v1m0 13v1m0 11v1m0 7v1m0 5v1m0 1v3m0 10v1m0 2v1m0 22v1m0 2v1m0 4v1m0 9v1m0 17v1m0 12v1m0 2v1m0 14v1m0 15v1m0 14v1m0 11v1m0 5v1m0 5v1M88.5 3v1m0 28v1m0 3v1m0 15v1m0 1v1m0 6v1m0 3v1m0 46v1m0 19v1m0 33v1m0 29v1m0 17v1m0 1v1m0 21v1m0 19v1m0 9v1m0 18v1m0 8v1m0 3v1m0 19v1m0 10v1m0 4v1m0 3v1m0 13v1m0 2v1m0 22v1M89.5 2v1m0 12v1m0 6v1m0 1v1m0 14v1m0 20v1m0 4v1m0 1v1m0 10v1m0 11v1m0 3v1m0 1v1m0 22v1m0 7v1m0 8v1m0 11v1m0 13v1m0 3v1m0 3v1m0 4v1m0 1v1m0 1v2m0 1v2m0 1v1m0 21v2m0 6v1m0 31v1m0 4v1m0 9v1m0 2v1m0 1v1m0 1v1m0 18v1m0 10v1m0 3v1m0 5v1m0 33v1m0 9v1m0 3v1m0 2v1m0 1v1m0 1v1m0 12v1m0 3v1m0 3v1M90.5 1v1m0 20v1m0 18v1m0 24v1m0 11v1m0 14v1m0 15v1m0 81v2m0 49v2m0 10v1m0 1v1m0 2v2m0 2v1m0 6v1m0 3v1m0 25v1m0 12v1m0 1v1m0 13v1m0 12v1m0 2v1m0 20v1M91.5 24v2m0 10v2m0 44v1m0 1v1m0 3v1m0 4v2m0 1v1m0 1v2m0 3v1m0 1v1m0 5v1m0 1v1m0 10v1m0 2v1m0 3v1m0 3v1m0 37v1m0 2v1m0 1v2m0 9v1m0 1v1m0 2v1m0 2v1m0 1v1m0 3v1m0 5v2m0 2v1m0 16v1m0 9v1m0 13v1m0 11v1m0 3v1m0 10v1m0 44v1m0 8v1m0 14v1M92.5 8v1m0 21v1m0 13v1m0 10v1m0 5v1m0 18v1m0 6v1m0 15v1m0 5v1m0 9v1m0 2v1m0 14v1m0 2v1m0 6v1m0 2v2m0 17v1m0 6v1m0 12v1m0 7v1m0 4v1m0 3v1m0 5v1m0 9v1m0 7v1m0 1v2m0 10v2m0 2v1m0 3v2m0 3v1m0 7v2m0 1v1m0 9v1m0 6v1m0 19v1m0 2v1m0 11v1m0 1v1m0 8v1m0 6v1m0 1v1m0 2v1m0 17v1m0 7v2m0 4v1m0 3v1M93.5 0v2m0 2v2m0 6v1m0 2v3m0 2v1m0 2v1m0 1v1m0 28v1m0 3v1m0 9v1m0 3v1m0 2v1m0 1v1m0 12v1m0 4v1m0 3v1m0 7v1m0 3v1m0 3v1m0 4v1m0 7v1m0 14v1m0 39v1m0 3v1m0 13v1m0 1v2m0 11v1m0 3v1m0 7v1m0 1v1m0 13v1m0 3v1m0 6v1m0 2v1m0 4v2m0 4v2m0 3v1m0 3v1m0 4v1m0 4v1m0 12v1m0 13v1m0 16v2m0 2v1m0 1v1m0 3v1m0 17v1m0 4v1m0 15v1m0 7v2M94.5 13v1m0 1v1m0 2v1m0 7v1m0 1v1m0 15v1m0 3v1m0 9v1m0 6v1m0 10v1m0 1v1m0 21v1m0 1v1m0 6v1m0 3v1m0 7v1m0 11v1m0 11v2m0 7v1m0 1v1m0 1v1m0 1v1m0 9v2m0 6v1m0 1v1m0 2v1m0 10v1m0 10v1m0 1v1m0 5v1m0 16v1m0 43v1m0 5v1m0 10v1m0 4v2m0 2v1m0 1v2m0 1v1m0 1v1m0 1v1m0 1v1m0 38v1m0 17v1m0 9v1m0 3v1m0 4v1M95.5 13v1m0 4v1m0 2v1m0 4v1m0 12v1m0 4v1m0 16v1m0 5v1m0 2v1m0 4v1m0 3v1m0 2v1m0 2v2m0 9v1m0 7v1m0 5v1m0 10v1m0 31v1m0 3v2m0 17v1m0 7v1m0 10v1m0 10v1m0 6v1m0 3v2m0 3v1m0 13v1m0 12v1m0 3v1m0 1v3m0 4v1m0 6v1m0 1v1m0 4v1m0 5v2m0 5v1m0 4v1m0 10v3m0 5v1m0 13v1m0 14v1m0 5v1m0 13v1m0 1v1m0 12v1m0 13v1M96.5 0v1m0 41v1m0 20v1m0 15v1m0 10v1m0 3v1m0 8v2m0 8v1m0 34v1m0 14v1m0 2v1m0 4v1m0 21v1m0 14v1m0 3v1m0 29v1m0 8v1m0 14v1m0 37v1m0 16v1m0 4v2m0 14v1m0 1v1m0 3v1m0 15v1m0 13v1m0 2v1m0 2v1M97.5 15v1m0 42v1m0 6v1m0 10v1m0 20v1m0 49v1m0 13v1m0 26v4m0 26v1m0 7v1m0 4v1m0 7v1m0 13v1m0 34v1m0 8v1m0 5v2m0 2v1m0 58v1m0 3v1m0 18v1m0 1v1M98.5 1v1m0 23v1m0 2v1m0 4v1m0 15v1m0 4v1m0 6v1m0 2v1m0 4v2m0 1v1m0 2v1m0 23v2m0 9v1m0 4v2m0 2v1m0 24v1m0 10v1m0 6v1m0 3v1m0 22v1m0 10v1m0 4v1m0 11v1m0 12v1m0 11v1m0 5v1m0 4v1m0 21v1m0 1v1m0 9v1m0 4v1m0 2v1m0 3v2m0 1v3m0 4v1m0 12v1m0 3v1m0 2v1m0 12v1m0 4v1m0 27v1M99.5 3v1m0 4v1m0 52v1m0 31v1m0 5v1m0 65v1m0 5v1m0 1v2m0 8v1m0 35v1m0 5v1m0 12v1m0 21v1m0 5v1m0 1v1m0 43v1m0 3v1m0 21v1m0 19v2M100.5 4v1m0 7v1m0 32v1m0 11v1m0 44v1m0 3v1m0 11v1m0 11v1m0 18v1m0 14v1m0 5v1m0 4v1m0 9v1m0 8v1m0 8v1m0 5v1m0 12v1m0 10v1m0 5v1m0 8v1m0 27v1m0 12v1m0 4v1m0 27v1m0 18v1m0 6v1m0 7v1m0 2v2m0 8v2m0 12v1M101.5 3v1m0 5v3m0 17v1m0 1v2m0 6v1m0 3v1m0 16v2m0 9v1m0 5v1m0 9v1m0 24v1m0 28v1m0 5v1m0 1v1m0 11v1m0 7v1m0 36v1m0 28v1m0 3v3m0 11v1m0 3v1m0 2v1m0 2v1m0 8v1m0 1v2m0 7v1m0 12v1m0 21v1m0 7v2m0 19v1m0 2v2m0 1v1m0 6v1m0 4v1m0 3v1m0 4v1m0 10v1m0 4v1M102.5 10v1m0 15v1m0 1v1m0 7v1m0 2v1m0 2v1m0 1v1m0 8v1m0 3v1m0 9v1m0 8v1m0 3v1m0 2v1m0 4v1m0 4v1m0 2v1m0 6v1m0 10v1m0 6v2m0 3v2m0 18v1m0 1v1m0 4v1m0 8v2m0 1v1m0 13v1m0 3v2m0 7v1m0 6v1m0 4v1m0 26v1m0 12v1m0 31v1m0 3v1m0 3v1m0 2v1m0 11v1m0 5v2m0 1v2m0 3v1m0 6v1m0 19v1m0 18v1m0 12v1m0 3v1m0 3v1M103.5 8v1m0 5v2m0 1v1m0 19v1m0 3v1m0 32v1m0 16v1m0 24v1m0 1v1m0 2v1m0 7v1m0 6v1m0 25v1m0 2v1m0 8v1m0 2v1m0 11v1m0 10v1m0 1v1m0 9v1m0 2v1m0 15v1m0 10v2m0 1v1m0 3v1m0 8v1m0 14v1m0 4v1m0 9v1m0 2v1m0 27v1m0 19v1m0 11v1m0 20v1m0 3v1m0 2v1M104.5 13v1m0 2v1m0 4v1m0 14v1m0 18v1m0 17v1m0 5v1m0 10v1m0 2v1m0 5v1m0 2v1m0 15v1m0 1v1m0 9v1m0 2v1m0 17v1m0 4v1m0 11v1m0 3v1m0 3v1m0 1v2m0 4v1m0 15v1m0 5v1m0 3v1m0 29v3m0 27v1m0 9v2m0 6v3m0 2v2m0 1v1m0 14v1m0 4v1m0 5v1m0 26v1m0 7v2m0 5v1m0 18v1M105.5 10v1m0 1v1m0 3v1m0 10v1m0 14v1m0 24v1m0 13v1m0 4v1m0 14v1m0 6v3m0 5v1m0 13v1m0 15v1m0 15v1m0 21v1m0 1v1m0 1v1m0 11v1m0 22v1m0 2v1m0 8v1m0 10v2m0 21v1m0 5v1m0 9v1m0 4v1m0 12v1m0 32v1m0 5v2m0 13v1m0 7v1m0 19v1M106.5 1v1m0 24v1m0 1v1m0 5v1m0 11v1m0 6v1m0 11v1m0 9v1m0 6v1m0 24v1m0 1v1m0 9v1m0 17v1m0 11v1m0 13v1m0 15v1m0 7v1m0 41v1m0 13v1m0 10v1m0 25v1m0 3v1m0 5v1m0 13v1m0 3v1m0 5v1m0 6v1m0 2v2m0 6v1m0 19v1m0 8v1m0 6v1m0 2v1m0 5v1M107.5 16v2m0 2v2m0 34v1m0 7v1m0 17v1m0 13v1m0 4v1m0 18v1m0 11v1m0 10v1m0 15v1m0 9v1m0 10v1m0 1v2m0 34v1m0 5v1m0 13v1m0 14v1m0 12v1m0 6v1m0 1v1m0 6v1m0 25v1m0 10v1m0 2v1m0 2v2m0 6v1m0 30v1m0 11v1m0 2v1M108.5 2v1m0 2v1m0 25v2m0 10v2m0 7v1m0 4v1m0 1v1m0 13v1m0 7v1m0 2v1m0 2v1m0 18v1m0 9v2m0 1v2m0 4v1m0 5v1m0 12v2m0 8v1m0 3v1m0 2v1m0 29v1m0 11v1m0 6v1m0 1v2m0 7v1m0 12v1m0 2v1m0 2v1m0 5v1m0 1v1m0 27v1m0 4v1m0 15v1m0 3v1m0 3v1m0 12v1m0 10v1m0 6v1m0 1v1m0 12v1m0 26v2m0 1v1m0 5v1M109.5 1v1m0 1v1m0 5v1m0 3v1m0 39v1m0 20v1m0 3v1m0 5v1m0 12v1m0 11v1m0 6v1m0 1v2m0 30v2m0 25v2m0 8v2m0 7v1m0 4v1m0 22v1m0 6v1m0 11v1m0 7v1m0 28v1m0 1v1m0 8v1m0 18v1m0 3v1m0 8v1m0 15v1m0 9v1m0 4v1M110.5 30v2m0 1v2m0 13v2m0 2v1m0 5v1m0 17v1m0 13v2m0 7v1m0 23v1m0 1v1m0 17v1m0 22v2m0 16v1m0 8v1m0 1v1m0 10v2m0 3v1m0 7v1m0 1v1m0 14v1m0 16v1m0 7v1m0 23v1m0 6v1m0 3v1m0 16v1m0 12v1m0 9v1m0 7v1m0 1v1m0 16v1m0 23v1m0 2v1M111.5 7v1m0 19v1m0 2v1m0 5v1m0 4v1m0 23v1m0 3v1m0 19v1m0 2v1m0 6v1m0 1v1m0 1v1m0 4v1m0 8v1m0 15v1m0 35v1m0 1v1m0 2v1m0 14v1m0 42v1m0 8v1m0 19v1m0 10v1m0 6v2m0 6v1m0 14v2m0 10v1m0 2v1m0 13v1m0 23v1m0 8v1m0 1v1m0 4v1m0 11v1m0 6v1M113.5 35v1m0 19v2m0 7v1m0 5v1m0 3v1m0 3v1m0 24v1m0 15v1m0 32v1m0 9v2m0 6v1m0 2v1m0 8v1m0 6v1m0 5v1m0 17v1m0 4v2m0 11v1m0 9v1m0 3v1m0 14v1m0 13v1m0 8v1m0 4v1m0 11v1m0 16v1m0 13v1m0 6v1m0 9v1m0 5v1m0 12v1M115.5 8v1m0 7v4m0 29v1m0 25v1m0 9v2m0 11v1m0 4v1m0 15v1m0 2v1m0 21v1m0 11v1m0 8v2m0 4v1m0 3v1m0 6v1m0 28v1m0 1v1m0 17v1m0 4v1m0 2v1m0 3v1m0 8v1m0 13v1m0 1v1m0 15v1m0 3v1m0 19v1m0 22v1m0 4v1m0 9v1m0 1v1m0 2v1m0 16v1m0 1v1M117.5 19v1m0 7v1m0 7v2m0 14v1m0 1v2m0 4v1m0 32v1m0 2v1m0 18v2m0 5v1m0 17v1m0 4v1m0 26v2m0 3v1m0 2v1m0 4v1m0 8v1m0 12v1m0 8v1m0 2v1m0 15v1m0 7v2m0 2v1m0 5v1m0 5v1m0 5v2m0 3v1m0 3v1m0 9v3m0 2v1m0 3v1m0 3v2m0 43v1m0 2v1m0 5v1m0 5v1m0 5v1m0 1v1m0 1v1m0 22v1M119.5 37v1m0 1v1m0 6v1m0 1v1m0 18v1m0 6v1m0 1v1m0 1v1m0 7v1m0 6v1m0 16v1m0 14v1m0 3v1m0 6v1m0 7v1m0 52v2m0 24v1m0 1v1m0 8v1m0 24v1m0 1v1m0 20v1m0 13v1m0 1v2m0 1v1m0 34v2m0 2v1m0 7v1m0 14v1m0 15v1M121.5 7v1m0 2v1m0 2v1m0 3v1m0 7v1m0 7v1m0 23v1m0 1v1m0 2v1m0 4v1m0 11v1m0 12v1m0 7v1m0 2v1m0 7v1m0 1v1m0 8v1m0 10v1m0 11v2m0 3v1m0 3v1m0 8v1m0 17v1m0 6v1m0 9v1m0 2v1m0 13v1m0 9v1m0 3v1m0 35v2m0 8v2m0 38v2m0 22v1m0 30v1m0 5v2m0 3v1M123.5 2v1m0 3v1m0 18v1m0 1v1m0 14v1m0 9v1m0 3v1m0 4v1m0 14v1m0 54v1m0 22v1m0 8v1m0 3v1m0 10v1m0 1v1m0 14v1m0 24v1m0 16v2m0 4v1m0 2v1m0 41v1m0 2v1m0 8v1m0 27v1m0 5v1m0 15v2m0 25v1m0 1v1m0 6v1M125.5 18v1m0 16v1m0 8v1m0 6v1m0 4v1m0 3v3m0 3v1m0 3v3m0 7v1m0 3v2m0 11v1m0 1v1m0 1v1m0 8v2m0 2v2m0 12v1m0 1v1m0 18v1m0 1v1m0 9v1m0 4v1m0 19v1m0 1v1m0 1v1m0 5v1m0 12v1m0 1v1m0 4v1m0 7v2m0 10v1m0 3v1m0 10v1m0 2v2m0 10v1m0 15v1m0 1v2m0 5v1m0 19v1m0 5v1m0 18v1m0 2v1m0 5v1m0 23v1m0 16v2m0 3v1M130.5 7v1m0 4v1m0 14v1m0 7v1m0 3v1m0 5v1m0 3v1m0 2v1m0 16v1m0 2v1m0 2v1m0 5v1m0 3v1m0 3v2m0 2v1m0 8v2m0 12v1m0 4v1m0 3v1m0 4v1m0 22v1m0 5v2m0 8v1m0 7v1m0 20v1m0 13v1m0 5v1m0 13v1m0 1v1m0 8v1m0 21v1m0 7v1m0 27v1m0 34v1m0 30v1m0 1v1m0 18v2M135.5 3v1m0 11v1m0 1v2m0 2v1m0 5v1m0 5v1m0 6v1m0 9v1m0 4v1m0 7v1m0 34v1m0 4v1m0 11v1m0 3v1m0 3v1m0 4v1m0 5v2m0 7v1m0 22v1m0 6v1m0 3v2m0 21v1m0 1v2m0 18v1m0 3v1m0 4v1m0 1v1m0 12v1m0 19v1m0 7v1m0 4v1m0 3v1m0 1v1m0 8v1m0 11v1m0 2v1m0 2v1m0 4v1m0 7v1m0 12v4m0 1v1m0 5v2m0 22v1m0 4v1m0 3v1m0 6v1M140.5 7v1m0 9v1m0 27v1m0 3v1m0 1v1m0 51v1m0 2v1m0 5v1m0 5v1m0 11v1m0 6v1m0 6v1m0 14v1m0 5v1m0 12v1m0 2v1m0 4v1m0 3v2m0 18v1m0 21v1m0 3v1m0 18v1m0 3v1m0 18v1m0 19v1m0 8v3m0 15v1m0 2v1m0 6v1m0 2v1m0 5v1m0 6v1m0 31v1m0 1v1m0 1v1M145.5 5v1m0 1v1m0 4v1m0 4v2m0 4v1m0 10v1m0 9v1m0 6v1m0 3v1m0 29v1m0 2v1m0 10v1m0 17v1m0 2v1m0 8v1m0 8v1m0 3v1m0 7v1m0 16v2m0 23v1m0 7v1m0 1v1m0 11v1m0 3v1m0 5v3m0 1v2m0 12v1m0 10v1m0 11v1m0 11v2m0 2v2m0 2v1m0 3v1m0 3v1m0 6v1m0 10v2m0 1v1m0 3v1m0 17v1m0 2v1m0 2v1m0 4v1m0 1v1m0 1v2m0 2v1m0 16v1m0 3v1m0 5v2m0 10v1M150.5 4v1m0 9v1m0 1v1m0 1v1m0 1v1m0 34v1m0 4v1m0 11v1m0 3v2m0 15v1m0 12v1m0 32v1m0 32v1m0 3v1m0 3v1m0 1v1m0 10v1m0 6v1m0 17v1m0 7v1m0 9v2m0 15v1m0 1v1m0 17v1m0 17v1m0 1v2m0 3v1m0 16v1m0 3v1m0 1v1m0 14v1m0 1v1m0 2v1m0 2v1m0 3v1m0 14v1m0 5v1m0 12v1m0 1v2M155.5 7v1m0 16v1m0 3v1m0 7v1m0 2v1m0 11v1m0 22v1m0 1v1m0 6v1m0 3v1m0 19v1m0 16v1m0 14v1m0 7v1m0 10v1m0 6v1m0 1v1m0 7v1m0 10v1m0 4v1m0 5v1m0 11v1m0 1v1m0 35v1m0 10v1m0 1v1m0 6v1m0 2v1m0 13v1m0 2v1m0 1v2m0 2v1m0 11v1m0 17v1m0 11v1m0 3v1m0 2v1m0 12v1m0 8v1m0 18v1m0 5v1"/>
<path stroke="#482475" d="M5.5 4v1m0 13v1m0 2v1m0 1v1m0 10v1m0 41v1m0 15v2m0 56v1m0 5v1m0 77v1m0 3v1m0 18v1m0 6v1m0 15v1m0 23v1m0 2v1m0 31v1m0 27v1m0 27v1M6.5 1v1m0 9v1m0 4v1m0 10v1m0 8v1m0 9v1m0 22v1m0 1v1m0 22v1m0 25v1m0 4v1m0 1v1m0 8v1m0 19v1m0 13v2m0 9v1m0 10v2m0 5v1m0 19v1m0 5v1m0 28v1m0 7v1m0 1v1m0 20v1m0 5v2m0 2v1m0 17v1m0 15v1m0 1v1m0 18v1m0 3v1m0 11v1m0 14v1m0 3v1m0 8v1M7.5 24v1m0 4v1m0 4v1m0 34v1m0 8v1m0 40v1m0 6v1m0 35v1m0 40v1m0 36v1m0 54v1m0 20v1m0 7v1m0 4v1m0 18v1m0 28v1m0 9v1m0 3v1m0 2v1M8.5 1v1m0 14v2m0 1v1m0 6v1m0 3v1m0 10v1m0 10v1m0 28v1m0 4v1m0 6v1m0 9v1m0 3v1m0 17v2m0 2v1m0 3v1m0 16v1m0 17v1m0 1v1m0 8v1m0 1v1m0 1v1m0 22v1m0 7v1m0 23v1m0 10v1m0 13v1m0 11v1m0 8v2m0 4v2m0 2v1m0 12v1m0 17v1m0 1v1m0 3v1m0 8v1m0 22v1m0 4v1m0 4v1m0 9v1m0 8v1M9.5 15v1m0 17v1m0 1v1m0 19v2m0 10v1m0 2v1m0 12v1m0 9v1m0 3v1m0 9v1m0 14v1m0 12v1m0 7v1m0 20v1m0 2v1m0 12v1m0 24v1m0 6v1m0 2v1m0 13v1m0 26v1m0 3v1m0 29v1m0 2v1m0 2v1m0 18v1m0 23v1m0 7v1m0 7v1m0 2v1m0 9v1m0 8v1m0 1v1M10.5 3v1m0 4v1m0 8v1m0 15v1m0 11v1m0 16v1m0 2v1m0 4v1m0 1v1m0 11v1m0 36v1m0 6v1m0 7v1m0 19v2m0 1v1m0 27v1m0 1v1m0 12v1m0 6v1m0 6v1m0 4v1m0 1v1m0 14v2m0 5v1m0 25v1m0 13v1m0 10v1m0 17v1m0 19v1m0 10v1m0 16v1m0 2v1m0 24v1M11.5 55v2m0 16v1m0 2v1m0 4v1m0 17v1m0 4v2m0 128v1m0 170v1M12.5 12v1m0 16v1m0 9v1m0 25v1m0 22v1m0 15v1m0 37v1m0 5v1m0 3v1m0 2v1m0 2v1m0 2v1m0 21v1m0 8v1m0 50v1m0 7v1m0 2v2m0 29v1m0 8v1m0 1v1m0 13v1m0 1v1m0 4v1m0 5v1m0 1v1m0 1v2m0 22v1m0 3v1m0 18v1m0 2v1m0 6v1m0 1v1m0 5v1m0 12v1M13.5 15v1m0 19v1m0 28v2m0 35v1m0 23v1m0 3v1m0 1v1m0 1v1m0 23v1m0 6v1m0 9v1m0 4v1m0 12v1m0 33v1m0 17v1m0 40v1m0 61v1m0 10v1m0 33v1M14.5 12v1m0 20v1m0 1v1m0 17v1m0 64v1m0 14v1m0 27v1m0 7v3m0 12v1m0 22v1m0 12v1m0 15v1m0 40v1m0 6v2m0 3v1m0 15v1m0 16v1m0 2v1m0 3v1m0 1v1m0 2v1m0 19v1m0 2v1m0 11v1m0 20v1m0 2v1M15.5 15v1m0 11v1m0 6v1m0 15v1m0 22v1m0 2v1m0 5v1m0 5v1m0 26v1m0 4v1m0 8v1m0 23v1m0 4v1m0 28v1m0 29v1m0 25v1m0 20v1m0 31v1m0 6v1m0 11v1m0 48v1m0 6v1m0 19v1M16.5 81v1m0 4v1m0 1v1m0 16v1m0 24v1m0 1v2m0 6v1m0 13v1m0 4v2m0 11v1m0 36v1m0 7v1m0 20v1m0 1v1m0 14v1m0 3v1m0 7v1m0 3v1m0 12v1m0 13v1m0 5v2m0 13v1m0 6v1m0 6v1m0 10v1m0 13v2m0 2v1m0 16v2M17.5 4v1m0 4v1m0 4v1m0 17v1m0 25v1m0 23v1m0 2v1m0 3v1m0 4v1m0 24v1m0 24v1m0 26v1m0 6v2m0 9v1m0 4v1m0 15v1m0 7v1m0 5v1m0 1v1m0 13v1m0 6v2m0 4v1m0 2v2m0 13v1m0 2v1m0 1v1m0 9v1m0 63v1m0 4v1m0 1v1m0 4v1m0 13v1M18.5 37v1m0 2v1m0 3v1m0 31v1m0 24v1m0 12v1m0 26v1m0 18v1m0 7v1m0 10v1m0 68v1m0 33v1m0 48v1m0 18v1M19.5 9v1m0 21v1m0 3v1m0 22v1m0 3v1m0 1v1m0 3v1m0 6v1m0 4v1m0 31v1m0 4v1m0 9v1m0 2v1m0 2v1m0 13v1m0 2v1m0 11v1m0 14v1m0 5v1m0 18v1m0 5v1m0 6v1m0 1v1m0 7v1m0 7v1m0 1v1m0 7v1m0 5v1m0 6v1m0 30v2m0 1v1m0 3v1m0 1v1m0 2v1m0 18v1m0 8v1m0 13v1m0 3v1m0 3v1m0 5v1m0 7v1m0 5v1m0 3v1m0 2v1m0 10v1m0 2v1M20.5 17v1m0 86v1m0 31v1m0 29v1m0 8v2m0 7v1m0 11v1m0 9v1m0 11v2m0 28v1m0 11v1m0 4v1m0 29v1m0 13v1m0 5v1m0 7v1m0 2v1m0 2v1m0 11v1m0 9v1m0 1v1m0 1v1m0 5v1m0 6v1m0 26v1M21.5 0v1m0 27v1m0 2v1m0 11v2m0 4v1m0 4v1m0 2v1m0 11v1m0 18v1m0 24v1m0 32v1m0 10v1m0 4v1m0 33v1m0 4v1m0 21v1m0 16v1m0 5v1m0 11v1m0 19v1m0 7v1m0 22v1m0 36v1m0 12v1m0 1v1m0 12v2m0 7v1m0 7v1M22.5 19v1m0 1v1m0 6v1m0 27v1m0 31v1m0 56v1m0 1v1m0 5v2m0 73v1m0 8v1m0 20v1m0 29v1m0 4v1m0 10v1m0 20v1m0 7v1m0 24v1m0 8v1m0 2v1m0 20v1m0 2v2M23.5 14v2m0 50v1m0 8v1m0 6v1m0 8v2m0 1v1m0 8v1m0 4v1m0 1v1m0 11v1m0 73v1m0 3v2m0 1v1m0 2v1m0 49v1m0 20v2m0 4v1m0 5v2m0 20v1m0 3v1m0 6v2m0 7v1m0 3v1m0 5v1m0 4v1m0 10v2m0 31v1M24.5 18v1m0 5v1m0 9v1m0 8v1m0 4v1m0 37v1m0 24v1m0 43v1m0 2v1m0 4v1m0 16v1m0 10v1m0 34v1m0 1v2m0 3v2m0 17v1m0 3v1m0 23v1m0 9v1m0 11v2m0 4v1m0 11v2m0 10v1m0 5v1m0 7v1m0 4v1m0 5v2m0 23v1m0 3v1m0 4v1M25.5 17v1m0 5v1m0 18v1m0 1v1m0 4v1m0 1v1m0 6v1m0 7v1m0 21v1m0 1v1m0 23v1m0 25v1m0 15v1m0 37v1m0 10v1m0 37v1m0 10v1m0 2v1m0 47v1m0 34v1m0 1v1m0 19v1m0 9v1m0 3v1m0 1v1m0 9v1m0 1v1m0 2v2M26.5 3v1m0 4v2m0 7v1m0 1v1m0 6v1m0 2v1m0 3v1m0 1v1m0 6v1m0 16v1m0 10v2m0 2v1m0 17v1m0 11v1m0 5v1m0 7v1m0 8v1m0 10v1m0 8v1m0 1v1m0 35v1m0 4v1m0 24v1m0 24v1m0 10v1m0 10v2m0 11v1m0 3v1m0 1v1m0 3v1m0 4v1m0 4v1m0 9v1m0 29v1m0 15v2m0 2v1m0 2v1m0 34v1M27.5 16v1m0 27v1m0 49v1m0 5v1m0 1v1m0 6v1m0 10v1m0 85v1m0 1v1m0 16v1m0 45v1m0 28v2m0 5v1m0 2v1m0 5v2m0 2v1m0 1v2m0 3v1m0 4v1m0 6v1m0 5v1m0 17v1m0 2v1m0 9v1M28.5 19v1m0 32v1m0 4v1m0 6v2m0 3v2m0 2v1m0 37v1m0 3v1m0 6v1m0 19v1m0 37v1m0 7v1m0 11v1m0 43v1m0 11v1m0 28v1m0 21v1m0 1v1m0 2v1m0 1v1m0 1v1m0 39v1m0 23v1m0 10v1M29.5 4v1m0 4v1m0 6v1m0 15v1m0 47v1m0 2v1m0 69v1m0 10v1m0 24v2m0 5v1m0 10v2m0 25v1m0 3v1m0 7v1m0 1v1m0 25v1m0 45v1m0 2v1m0 11v1m0 7v1m0 18v1M30.5 0v1m0 7v1m0 4v1m0 3v1m0 9v1m0 10v1m0 1v2m0 11v1m0 10v1m0 13v2m0 20v2m0 2v2m0 8v1m0 1v1m0 26v1m0 3v2m0 2v1m0 4v3m0 11v1m0 4v1m0 4v1m0 2v1m0 42v1m0 7v3m0 13v1m0 3v1m0 3v1m0 12v1m0 2v1m0 2v1m0 6v1m0 2v1m0 2v1m0 1v1m0 1v1m0 2v1m0 33v1m0 11v1m0 8v1m0 2v1m0 9v1m0 16v1m0 11v1M31.5 11v1m0 1v1m0 3v1m0 23v1m0 2v1m0 5v1m0 1v1m0 3v1m0 14v1m0 3v1m0 5v1m0 9v1m0 7v1m0 18v1m0 16v1m0 10v1m0 6v1m0 7v1m0 5v1m0 20v1m0 9v2m0 3v1m0 17v1m0 12v1m0 15v2m0 1v1m0 12v1m0 1v1m0 26v1m0 11v1m0 5v1m0 31v1m0 6v1m0 11v1m0 16v1m0 1v1m0 7v1M32.5 4v1m0 5v1m0 5v1m0 2v1m0 54v1m0 10v1m0 6v2m0 17v2m0 13v1m0 4v1m0 2v1m0 57v1m0 19v1m0 6v1m0 3v1m0 56v1m0 5v1m0 42v1m0 61v1M33.5 1v1m0 28v1m0 10v2m0 9v1m0 3v1m0 14v2m0 10v1m0 8v1m0 16v1m0 7v1m0 17v2m0 2v1m0 33v1m0 1v1m0 24v2m0 9v1m0 9v1m0 8v1m0 8v1m0 2v1m0 14v1m0 8v1m0 14v1m0 20v1m0 1v1m0 27v1m0 3v1m0 25v1m0 5v1m0 2v2m0 18v1M34.5 9v1m0 9v1m0 27v1m0 47v1m0 22v1m0 18v1m0 39v1m0 5v1m0 20v1m0 4v1m0 20v1m0 24v1m0 4v1m0 16v1m0 12v1m0 42v2m0 40v1M35.5 11v1m0 3v1m0 5v1m0 10v2m0 4v1m0 8v2m0 18v1m0 3v1m0 9v1m0 16v1m0 16v1m0 35v1m0 2v1m0 7v2m0 24v1m0 5v1m0 14v1m0 21v2m0 8v1m0 2v1m0 3v1m0 2v1m0 2v1m0 33v1m0 3v1m0 9v1m0 34v1m0 4v1m0 51v1M36.5 2v1m0 5v1m0 14v1m0 1v3m0 18v1m0 2v1m0 7v1m0 11v1m0 12v1m0 72v1m0 26v1m0 37v1m0 15v1m0 9v1m0 5v1m0 4v1m0 2v1m0 18v2m0 4v1m0 36v1m0 36v1m0 2v1m0 5v1m0 24v1M37.5 10v1m0 39v1m0 25v1m0 2v1m0 12v1m0 12v2m0 29v1m0 8v1m0 9v1m0 20v1m0 18v1m0 25v1m0 22v1m0 9v1m0 4v1m0 2v1m0 41v1m0 2v1m0 9v1m0 6v1m0 16v1m0 22v1m0 8v1M38.5 13v1m0 29v1m0 30v1m0 33v1m0 11v1m0 8v1m0 16v1m0 9v1m0 11v1m0 5v1m0 5v1m0 31v1m0 32v1m0 6v1m0 61v1m0 47v1m0 10v1M39.5 9v1m0 1v1m0 9v1m0 9v1m0 1v1m0 1v1m0 9v1m0 4v1m0 1v1m0 2v1m0 4v1m0 13v1m0 23v1m0 1v1m0 6v1m0 42v1m0 34v1m0 10v2m0 12v1m0 7v1m0 44v1m0 1v1m0 8v2m0 12v1m0 3v1m0 14v1m0 9v1m0 8v1m0 3v1m0 1v1m0 9v1m0 6v1m0 2v1m0 22v1m0 7v1m0 5v1M40.5 1v1m0 7v1m0 4v1m0 3v1m0 4v1m0 3v1m0 3v1m0 1v2m0 4v1m0 10v1m0 4v1m0 18v1m0 21v1m0 5v1m0 13v1m0 19v1m0 12v1m0 1v1m0 2v1m0 4v1m0 18v1m0 2v1m0 25v1m0 8v1m0 14v1m0 14v1m0 3v1m0 22v1m0 6v2m0 5v1m0 5v1m0 2v1m0 12v2m0 12v1m0 13v1m0 1v1m0 12v1m0 16v1m0 18v1m0 3v1M41.5 4v1m0 26v1m0 3v1m0 6v1m0 10v1m0 16v1m0 27v2m0 2v1m0 7v1m0 8v1m0 4v1m0 12v1m0 14v1m0 2v1m0 1v1m0 2v1m0 16v1m0 3v1m0 4v1m0 7v1m0 17v1m0 2v1m0 8v1m0 16v2m0 3v1m0 13v1m0 21v1m0 6v1m0 9v1m0 3v1m0 4v1m0 3v1m0 1v1m0 4v3m0 2v1m0 7v1m0 1v1m0 1v1m0 13v1m0 1v1m0 5v1m0 1v1m0 5v1m0 6v1m0 1v1m0 9v2M42.5 4v1m0 4v1m0 3v1m0 4v1m0 13v1m0 4v1m0 8v1m0 31v1m0 3v1m0 1v1m0 8v1m0 5v1m0 4v1m0 4v1m0 15v1m0 6v1m0 1v1m0 2v1m0 1v1m0 8v1m0 37v2m0 8v1m0 14v1m0 3v1m0 9v1m0 6v2m0 12v1m0 5v1m0 3v1m0 13v1m0 1v1m0 5v1m0 12v1m0 2v1m0 1v1m0 15v2m0 1v2m0 14v1m0 2v1m0 1v1m0 11v1m0 3v1m0 7v2m0 2v1m0 7v1m0 17v2m0 1v1M43.5 10v1m0 2v1m0 27v1m0 19v1m0 108v1m0 50v1m0 81v1m0 25v2m0 61v1M44.5 0v1m0 71v1m0 5v1m0 5v1m0 4v1m0 5v1m0 3v1m0 5v1m0 11v1m0 6v1m0 1v1m0 25v1m0 17v1m0 56v1m0 2v1m0 7v1m0 4v1m0 2v1m0 1v1m0 6v1m0 7v1m0 3v1m0 20v1m0 1v1m0 54v1m0 16v1m0 9v1M45.5 13v1m0 17v1m0 7v2m0 22v1m0 6v2m0 49v1m0 14v1m0 52v1m0 18v1m0 17v1m0 11v1m0 14v1m0 32v1m0 20v2m0 42v1m0 1v1m0 11v1m0 25v2M46.5 15v1m0 15v1m0 9v1m0 14v1m0 23v1m0 8v1m0 2v1m0 16v1m0 14v1m0 1v1m0 23v1m0 8v1m0 10v1m0 9v1m0 11v1m0 11v3m0 1v1m0 32v1m0 22v1m0 15v1m0 58v1m0 2v1m0 3v1m0 14v1m0 1v1m0 7v1m0 3v1m0 18v1M47.5 39v1m0 42v1m0 29v1m0 50v1m0 2v1m0 38v1m0 6v1m0 17v1m0 156v1m0 4v1M48.5 9v1m0 12v1m0 4v1m0 24v1m0 4v1m0 20v1m0 2v1m0 12v1m0 5v1m0 2v1m0 1v1m0 19v1m0 11v1m0 1v1m0 2v1m0 2v1m0 4v1m0 2v1m0 1v1m0 5v1m0 6v1m0 8v1m0 3v1m0 17v1m0 2v1m0 3v1m0 5v1m0 10v2m0 9v1m0 9v1m0 2v2m0 3v1m0 29v1m0 8v1m0 38v1m0 1v1m0 7v1m0 12v1m0 8v1m0 18v1m0 13v1M49.5 28v1m0 13v1m0 17v1m0 6v1m0 1v1m0 27v1m0 10v1m0 31v1m0 5v1m0 10v1m0 49v1m0 21v1m0 9v1m0 4v1m0 11v1m0 2v1m0 2v3m0 23v1m0 27v1m0 3v1m0 13v1m0 8v1m0 47v1M50.5 29v1m0 58v1m0 10v1m0 10v1m0 6v1m0 22v1m0 13v1m0 4v1m0 3v1m0 6v1m0 19v1m0 16v2m0 13v1m0 28v1m0 24v1m0 13v1m0 23v2m0 11v1m0 2v1m0 18v1m0 1v2m0 33v1m0 8v1M51.5 3v1m0 14v1m0 2v1m0 33v1m0 17v1m0 2v1m0 5v1m0 10v1m0 31v1m0 11v1m0 10v1m0 49v1m0 9v1m0 10v1m0 4v1m0 15v2m0 10v1m0 20v2m0 17v1m0 19v1m0 5v1m0 17v1m0 6v1m0 1v1m0 17v1m0 19v1M52.5 23v2m0 2v1m0 36v1m0 6v1m0 31v2m0 12v2m0 17v1m0 2v1m0 32v1m0 33v1m0 16v1m0 34v1m0 1v1m0 40v1m0 15v1m0 17v1m0 49v1m0 5v1M53.5 16v1m0 1v2m0 1v1m0 8v1m0 1v1m0 18v1m0 2v1m0 4v1m0 14v1m0 4v1m0 49v1m0 5v1m0 2v1m0 1v1m0 30v1m0 4v1m0 12v1m0 8v1m0 1v1m0 4v1m0 12v1m0 2v1m0 12v1m0 9v1m0 4v1m0 16v1m0 8v1m0 12v1m0 2v1m0 14v1m0 9v1m0 6v1m0 10v1m0 2v1m0 4v1m0 1v1M54.5 36v1m0 11v1m0 24v1m0 5v1m0 32v1m0 94v1m0 15v1m0 4v1m0 60v1m0 4v1m0 7v1m0 25v1m0 3v1m0 12v1m0 12v1M55.5 54v1m0 14v1m0 25v1m0 14v1m0 79v1m0 9v1m0 9v1m0 11v1m0 158v1M56.5 2v1m0 12v1m0 27v1m0 8v1m0 5v1m0 23v1m0 7v1m0 6v2m0 1v1m0 39v2m0 28v3m0 22v1m0 7v2m0 34v1m0 40v1m0 1v3m0 2v1m0 13v1m0 15v1m0 12v1m0 13v1m0 2v1m0 28v2M57.5 4v1m0 4v1m0 31v1m0 35v1m0 4v1m0 22v1m0 9v1m0 11v1m0 30v2m0 16v1m0 1v1m0 3v1m0 1v3m0 18v1m0 3v1m0 16v1m0 6v1m0 3v1m0 4v1m0 38v1m0 22v1m0 13v1m0 4v1m0 12v1m0 4v2m0 2v1m0 8v1m0 5v1m0 2v1m0 5v1m0 7v1m0 12v1M58.5 7v2m0 34v1m0 14v1m0 28v1m0 18v1m0 64v1m0 3v1m0 32v1m0 3v1m0 7v1m0 17v1m0 2v1m0 23v1m0 1v1m0 1v1m0 17v1m0 31v1m0 15v1m0 3v2m0 3v1m0 12v1m0 16v1m0 1v1M59.5 1v1m0 17v1m0 7v1m0 15v1m0 57v1m0 24v1m0 20v1m0 4v1m0 13v1m0 3v1m0 12v1m0 17v1m0 37v1m0 81v1m0 16v1m0 18v1m0 22v1m0 7v1M60.5 38v2m0 7v1m0 39v1m0 10v1m0 10v1m0 3v1m0 8v1m0 42v1m0 11v2m0 10v1m0 11v1m0 15v1m0 13v1m0 12v1m0 12v1m0 38v1m0 28v1m0 11v1m0 3v1m0 3v1m0 23v1m0 17v1M61.5 24v1m0 2v1m0 4v1m0 4v1m0 6v1m0 10v1m0 4v1m0 1v1m0 20v1m0 24v1m0 3v1m0 1v1m0 13v1m0 3v1m0 1v1m0 4v1m0 8v1m0 17v1m0 4v1m0 12v1m0 11v1m0 2v1m0 78v1m0 20v1m0 1v1m0 15v1m0 2v1m0 11v1m0 20v1M62.5 0v1m0 5v1m0 4v1m0 27v2m0 5v1m0 60v1m0 19v1m0 4v1m0 3v1m0 22v2m0 12v1m0 12v2m0 5v1m0 4v1m0 6v1m0 6v1m0 14v1m0 11v1m0 63v1m0 18v1m0 18v1m0 4v1m0 1v1m0 7v1m0 16v1m0 5v1m0 3v1M63.5 4v2m0 6v1m0 1v1m0 3v1m0 35v1m0 12v1m0 13v1m0 14v1m0 12v1m0 23v1m0 5v2m0 1v1m0 24v1m0 8v1m0 3v1m0 21v3m0 5v1m0 9v1m0 22v1m0 8v1m0 16v1m0 9v1m0 3v1m0 3v1m0 3v1m0 2v1m0 5v1m0 24v1m0 4v1m0 2v1m0 6v1m0 19v1m0 10v1m0 2v1m0 6v1m0 5v1M64.5 2v2m0 19v1m0 11v1m0 18v1m0 3v1m0 28v2m0 11v1m0 1v1m0 8v1m0 14v1m0 22v1m0 13v1m0 3v1m0 19v1m0 2v1m0 1v1m0 2v1m0 10v1m0 5v1m0 16v1m0 11v1m0 3v1m0 5v1m0 37v1m0 3v1m0 1v1m0 14v1m0 39v1m0 9v1m0 9v1m0 3v1m0 1v1m0 9v1M65.5 10v1m0 1v2m0 1v1m0 1v1m0 15v1m0 10v2m0 5v1m0 10v1m0 2v1m0 5v1m0 2v2m0 15v1m0 38v1m0 5v1m0 5v1m0 22v1m0 69v1m0 5v1m0 43v1m0 19v2m0 14v1m0 11v1m0 8v2m0 36v1M66.5 3v1m0 7v1m0 44v1m0 17v1m0 25v1m0 5v1m0 11v1m0 65v1m0 45v1m0 11v1m0 10v1m0 4v2m0 33v1m0 13v1m0 19v1m0 3v1m0 21v2m0 4v1m0 7v1m0 1v1m0 5v1m0 19v1M67.5 25v1m0 28v1m0 10v1m0 3v1m0 2v1m0 3v1m0 27v1m0 2v1m0 2v1m0 4v1m0 26v1m0 20v1m0 23v1m0 26v1m0 3v1m0 6v1m0 1v2m0 7v1m0 3v1m0 2v1m0 1v1m0 3v1m0 6v1m0 1v1m0 12v1m0 12v1m0 2v1m0 4v1m0 25v1m0 4v1m0 3v1m0 11v1m0 5v1m0 17v1m0 18v1m0 3v1M68.5 10v2m0 6v1m0 14v1m0 11v2m0 9v1m0 5v1m0 9v1m0 34v1m0 1v1m0 4v1m0 8v1m0 2v1m0 11v1m0 23v1m0 29v1m0 1v1m0 11v1m0 14v1m0 14v1m0 7v1m0 5v1m0 13v1m0 7v1m0 3v1m0 17v2m0 26v1m0 35v1m0 4v1M69.5 7v1m0 18v1m0 7v1m0 6v1m0 2v1m0 13v1m0 9v1m0 19v1m0 1v1m0 15v1m0 2v1m0 4v1m0 8v1m0 26v1m0 19v1m0 3v1m0 9v1m0 9v1m0 10v1m0 1v1m0 13v1m0 7v1m0 13v1m0 6v1m0 26v1m0 25v1m0 3v1m0 10v2m0 16v1m0 1v1m0 9v2m0 16v1m0 2v1m0 17v1m0 1v1m0 4v1M70.5 11v1m0 4v1m0 9v1m0 43v1m0 1v1m0 3v1m0 3v1m0 32v1m0 4v1m0 19v1m0 5v1m0 33v1m0 28v1m0 17v1m0 7v1m0 4v1m0 37v1m0 14v1m0 4v1m0 4v1m0 1v1m0 3v1m0 5v1m0 3v1m0 11v1m0 3v2m0 33v1M71.5 31v1m0 30v1m0 8v1m0 4v1m0 6v1m0 7v1m0 4v1m0 14v1m0 37v1m0 29v1m0 1v2m0 27v1m0 4v1m0 15v1m0 8v1m0 18v1m0 31v1m0 10v1m0 6v1m0 4v1m0 26v1m0 3v1m0 4v1m0 2v2m0 23v1m0 3v1M72.5 25v1m0 7v1m0 35v1m0 8v1m0 17v2m0 15v1m0 58v1m0 1v1m0 9v1m0 17v1m0 44v1m0 15v1m0 4v1m0 10v1m0 32v1m0 5v1m0 17v1m0 19v1m0 12v1m0 2v1m0 21v1M73.5 64v1m0 26v1m0 42v1m0 95v1m0 29v1m0 8v2m0 50v1m0 21v1M74.5 26v1m0 10v1m0 16v1m0 9v1m0 2v1m0 3v2m0 16v1m0 5v3m0 14v1m0 24v1m0 1v1m0 13v2m0 2v1m0 20v1m0 19v1m0 8v1m0 18v1m0 11v1m0 11v1m0 13v1m0 8v1m0 6v1m0 4v1m0 2v3m0 2v1m0 4v1m0 1v1m0 7v1m0 6v1m0 8v1m0 4v1m0 3v1m0 43v1m0 13v1m0 2v1M75.5 3v1m0 7v1m0 10v1m0 2v1m0 14v1m0 7v2m0 11v1m0 32v1m0 28v1m0 2v1m0 10v1m0 3v1m0 7v2m0 10v1m0 2v1m0 4v1m0 33v1m0 51v1m0 3v1m0 9v1m0 16v1m0 10v1m0 14v1m0 14v1m0 3v1M76.5 21v1m0 55v1m0 3v1m0 20v1m0 47v1m0 3v1m0 66v1m0 21v1m0 34v1m0 4v1m0 7v1M77.5 43v1m0 23v1m0 17v1m0 1v1m0 17v1m0 50v1m0 3v1m0 1v1m0 14v2m0 16v1m0 25v1m0 21v1m0 1v1m0 34v1m0 12v1m0 4v1m0 21v2m0 3v2m0 5v1m0 18v1m0 12v1m0 13v1m0 12v1M78.5 0v1m0 7v1m0 7v1m0 9v1m0 14v1m0 6v1m0 8v1m0 15v2m0 18v1m0 5v1m0 3v1m0 2v1m0 49v1m0 3v1m0 3v2m0 3v1m0 29v1m0 33v1m0 4v1m0 11v1m0 9v2m0 4v1m0 30v1m0 52v1m0 1v1m0 1v1m0 5v2m0 15v1m0 4v1m0 1v2M79.5 3v1m0 54v1m0 47v1m0 1v1m0 4v1m0 23v1m0 20v1m0 5v1m0 24v2m0 3v1m0 1v2m0 7v1m0 9v1m0 1v1m0 11v1m0 5v1m0 13v1m0 6v1m0 5v1m0 21v1m0 2v1m0 8v1m0 4v1m0 12v1m0 2v1m0 1v1m0 19v1m0 3v1m0 1v1m0 12v1m0 14v1m0 2v1m0 14v1m0 2v1M80.5 14v1m0 1v1m0 7v1m0 16v1m0 8v1m0 11v1m0 4v1m0 19v1m0 9v1m0 1v2m0 10v1m0 1v1m0 13v1m0 2v1m0 1v1m0 1v1m0 3v1m0 3v1m0 16v1m0 23v1m0 21v1m0 13v1m0 3v1m0 16v1m0 6v1m0 6v1m0 10v1m0 13v1m0 13v1m0 22v1m0 21v2m0 6v2m0 30v1M81.5 38v1m0 25v1m0 13v1m0 9v1m0 4v2m0 24v1m0 19v1m0 16v1m0 16v1m0 8v1m0 54v1m0 19v1m0 18v1m0 13v1m0 72v1m0 2v1M82.5 10v1m0 19v1m0 5v2m0 15v1m0 40v1m0 6v1m0 12v1m0 29v1m0 33v1m0 70v1m0 3v1m0 6v1m0 30v1m0 3v1m0 5v1m0 4v2m0 20v2m0 10v1m0 9v1m0 5v1m0 1v1m0 1v1m0 8v1M83.5 2v1m0 2v1m0 10v1m0 11v2m0 2v2m0 23v1m0 4v1m0 7v2m0 2v1m0 3v1m0 3v1m0 32v2m0 2v1m0 4v1m0 13v2m0 7v1m0 6v1m0 1v1m0 8v1m0 7v1m0 17v2m0 14v1m0 11v2m0 4v1m0 7v1m0 12v1m0 3v1m0 2v1m0 12v2m0 18v1m0 4v1m0 21v1m0 4v1m0 1v1m0 19v1m0 3v1m0 2v1m0 2v2m0 7v1m0 7v1m0 4v1m0 1v1m0 19v1M84.5 19v1m0 4v1m0 6v1m0 3v1m0 2v1m0 2v1m0 13v1m0 18v1m0 1v1m0 4v1m0 36v1m0 3v1m0 13v1m0 2v1m0 14v2m0 23v1m0 10v1m0 1v1m0 17v1m0 1v1m0 35v1m0 2v1m0 7v1m0 27v1m0 1v2m0 3v1m0 4v1m0 1v3m0 36v1m0 11v1m0 5v1m0 7v1m0 19v1m0 3v1M85.5 0v1m0 9v1m0 9v1m0 31v1m0 29v1m0 27v1m0 5v1m0 1v1m0 17v1m0 32v1m0 14v1m0 11v1m0 5v1m0 37v1m0 6v2m0 1v1m0 9v1m0 6v1m0 9v1m0 18v1m0 15v1m0 5v1m0 2v2m0 1v1m0 6v1m0 51v1m0 1v1M86.5 7v1m0 18v1m0 45v1m0 9v1m0 2v1m0 23v1m0 12v1m0 6v1m0 2v1m0 17v1m0 52v1m0 46v1m0 14v1m0 3v1m0 90v1m0 19v1M87.5 16v1m0 51v1m0 16v1m0 28v1m0 22v1m0 70v1m0 47v1m0 1v1m0 21v1m0 11v1m0 14v1m0 4v1m0 35v1m0 7v1m0 18v1m0 8v1m0 4v1M88.5 45v1m0 27v1m0 22v1m0 7v1m0 13v1m0 5v1m0 6v1m0 31v1m0 8v1m0 96v1m0 82v1m0 2v1m0 9v1M89.5 1v1m0 11v1m0 12v1m0 2v1m0 1v1m0 13v1m0 13v1m0 10v1m0 14v1m0 1v1m0 20v1m0 17v1m0 8v1m0 17v1m0 10v1m0 23v1m0 7v1m0 4v1m0 15v1m0 2v1m0 23v1m0 10v1m0 38v1m0 15v1m0 6v1m0 18v1m0 35v1m0 7v1m0 10v1m0 3v1M90.5 59v2m0 1v1m0 5v1m0 6v1m0 1v1m0 18v1m0 16v1m0 18v1m0 22v1m0 3v3m0 2v2m0 3v1m0 54v1m0 3v1m0 6v1m0 13v1m0 1v2m0 5v1m0 3v1m0 5v1m0 2v2m0 39v1m0 4v1m0 30v1M91.5 28v1m0 5v1m0 8v1m0 6v1m0 29v1m0 4v1m0 3v1m0 1v1m0 5v1m0 3v1m0 2v1m0 1v3m0 3v1m0 9v1m0 5v1m0 25v1m0 5v1m0 16v1m0 3v1m0 4v1m0 28v1m0 11v1m0 3v1m0 1v2m0 22v1m0 6v1m0 63v1m0 18v1m0 17v1M92.5 9v1m0 41v1m0 7v1m0 55v1m0 4v1m0 4v1m0 35v1m0 3v2m0 16v1m0 14v1m0 27v2m0 6v2m0 11v1m0 12v1m0 15v1m0 20v1m0 1v1m0 7v1m0 7v1m0 2v1m0 49v1m0 16v1M93.5 31v2m0 15v1m0 12v1m0 12v1m0 9v1m0 2v1m0 5v1m0 9v1m0 1v1m0 48v1m0 7v1m0 17v1m0 14v2m0 38v1m0 4v1m0 34v1m0 3v1m0 19v1m0 8v1m0 32v1m0 13v1m0 7v1m0 21v1m0 2v1m0 2v1M94.5 2v2m0 12v2m0 9v1m0 3v1m0 4v1m0 4v1m0 19v1m0 23v1m0 1v1m0 3v1m0 2v1m0 27v1m0 2v1m0 6v1m0 4v1m0 3v1m0 22v1m0 3v1m0 32v2m0 5v1m0 1v1m0 3v1m0 2v1m0 45v1m0 15v1m0 36v1m0 20v1m0 9v1m0 6v1m0 2v1m0 5v1m0 5v1m0 1v1m0 22v1M95.5 17v1m0 1v1m0 12v1m0 7v1m0 6v1m0 14v2m0 7v1m0 1v1m0 16v1m0 12v1m0 14v2m0 83v1m0 1v1m0 5v1m0 11v1m0 40v1m0 32v1m0 4v1m0 17v1m0 24v1m0 12v1m0 14v1M96.5 9v1m0 1v1m0 25v1m0 27v2m0 24v1m0 25v1m0 9v2m0 25v1m0 18v1m0 3v1m0 26v1m0 2v1m0 15v1m0 1v1m0 24v1m0 22v1m0 27v1m0 3v1m0 16v1m0 8v1m0 6v1m0 38v1m0 2v1m0 2v1m0 2v1M97.5 25v1m0 42v1m0 69v1m0 23v1m0 59v1m0 63v1m0 3v1m0 2v1m0 23v1m0 39v1m0 15v1m0 8v1m0 7v1M98.5 15v2m0 9v1m0 9v1m0 1v1m0 12v1m0 13v1m0 26v1m0 14v1m0 6v1m0 16v1m0 19v1m0 22v1m0 10v1m0 6v2m0 9v1m0 2v1m0 39v1m0 10v1m0 8v1m0 1v1m0 7v1m0 11v1m0 19v1m0 14v1m0 15v1m0 8v3m0 12v1M99.5 54v1m0 45v1m0 18v1m0 168v1m0 72v1m0 1v1M100.5 3v1m0 34v1m0 2v1m0 2v1m0 8v1m0 2v1m0 34v1m0 15v1m0 7v2m0 33v1m0 18v1m0 2v2m0 2v1m0 4v1m0 1v1m0 15v1m0 20v1m0 8v1m0 24v1m0 8v2m0 12v1m0 33v1m0 5v1m0 10v1m0 8v1m0 5v1m0 6v1m0 13v1m0 14v1m0 10v1M101.5 0v2m0 2v1m0 8v1m0 8v1m0 2v1m0 2v1m0 5v1m0 1v1m0 5v1m0 15v1m0 11v1m0 3v1m0 4v1m0 16v2m0 5v1m0 1v1m0 5v1m0 9v2m0 21v1m0 1v1m0 19v2m0 8v1m0 8v1m0 1v1m0 1v1m0 10v1m0 9v1m0 6v1m0 4v1m0 9v1m0 19v1m0 3v1m0 1v1m0 7v3m0 10v1m0 8v1m0 14v1m0 17v1m0 18v1m0 1v1m0 2v1m0 11v1m0 5v1m0 2v1m0 11v1m0 1v1m0 7v1M102.5 20v1m0 4v1m0 7v1m0 6v2m0 27v1m0 2v1m0 9v1m0 2v1m0 16v1m0 4v2m0 1v1m0 18v1m0 1v1m0 17v1m0 5v2m0 2v1m0 1v1m0 4v1m0 27v1m0 24v2m0 1v1m0 58v1m0 30v1m0 17v1m0 6v1m0 8v1m0 1v1m0 12v1M103.5 2v2m0 184v1m0 15v1m0 78v1m0 5v1m0 6v1m0 14v1m0 3v1m0 40v1m0 11v1m0 21v1M104.5 48v1m0 35v1m0 16v1m0 1v1m0 37v1m0 10v1m0 8v1m0 8v1m0 12v1m0 5v1m0 17v1m0 3v1m0 43v1m0 10v1m0 7v1m0 20v1m0 47v1m0 42v1M105.5 9v1m0 3v1m0 43v1m0 14v1m0 14v1m0 16v1m0 18v1m0 1v2m0 40v1m0 14v1m0 30v1m0 31v1m0 4v1m0 2v2m0 2v1m0 6v1m0 11v1m0 11v1m0 18v1m0 20v1m0 9v1m0 20v1m0 2v1m0 3v1m0 23v1M106.5 12v1m0 4v1m0 18v1m0 7v1m0 10v1m0 5v1m0 11v1m0 28v1m0 7v2m0 6v1m0 8v1m0 5v1m0 2v1m0 8v2m0 14v1m0 4v1m0 1v1m0 7v1m0 13v1m0 3v1m0 3v1m0 9v1m0 3v1m0 6v1m0 3v1m0 1v1m0 7v1m0 27v1m0 2v1m0 4v1m0 1v2m0 3v1m0 4v1m0 5v1m0 10v1m0 10v2m0 6v1m0 1v1m0 6v1m0 3v1m0 3v1m0 6v1m0 6v1m0 7v3m0 1v1m0 6v1m0 2v1m0 10v1m0 5v1M107.5 0v1m0 12v1m0 15v1m0 3v1m0 20v1m0 5v1m0 20v1m0 8v1m0 13v1m0 23v1m0 28v1m0 18v1m0 62v1m0 6v3m0 7v1m0 6v1m0 46v1m0 2v1m0 6v1m0 31v1m0 2v1m0 21v1m0 6v1M108.5 21v1m0 3v1m0 4v1m0 15v1m0 16v1m0 40v1m0 22v1m0 34v1m0 4v1m0 17v1m0 8v1m0 9v1m0 24v1m0 2v1m0 5v1m0 12v1m0 36v1m0 13v1m0 5v1m0 4v1m0 6v1m0 1v1m0 7v1m0 1v1m0 9v1m0 12v2m0 1v1m0 3v1m0 3v1m0 5v1m0 1v1m0 16v1M109.5 7v1m0 49v1m0 64v1m0 34v1m0 12v1m0 2v1m0 8v1m0 14v1m0 27v1m0 59v1m0 1v2m0 10v1m0 9v1m0 8v1m0 8v1m0 31v1m0 9v1m0 21v1M110.5 23v1m0 1v1m0 66v1m0 38v1m0 8v1m0 6v1m0 161v1m0 28v1m0 20v1m0 8v1m0 6v2M111.5 0v1m0 8v1m0 2v1m0 19v1m0 7v1m0 10v1m0 83v1m0 18v1m0 2v1m0 12v1m0 11v2m0 3v1m0 10v1m0 1v1m0 1v1m0 4v1m0 5v1m0 23v1m0 4v1m0 1v1m0 11v1m0 8v1m0 19v2m0 35v1m0 10v1m0 2v1m0 2v2m0 31v1M113.5 1v1m0 6v1m0 10v1m0 2v1m0 3v1m0 58v1m0 8v1m0 4v1m0 10v1m0 2v1m0 2v1m0 3v1m0 27v1m0 34v1m0 13v1m0 40v1m0 5v1m0 32v1m0 93v1m0 2v1m0 12v1m0 3v1M115.5 4v2m0 30v1m0 8v1m0 2v1m0 4v1m0 2v1m0 14v1m0 18v1m0 6v1m0 2v1m0 16v1m0 5v1m0 1v1m0 3v1m0 1v1m0 9v1m0 9v1m0 64v1m0 52v1m0 10v1m0 51v1m0 19v1m0 29v1M117.5 18v1m0 13v1m0 4v1m0 7v1m0 4v1m0 22v1m0 30v1m0 50v1m0 7v1m0 6v1m0 12v1m0 14v1m0 18v1m0 37v1m0 1v1m0 8v2m0 53v1m0 5v1m0 49v1m0 2v1m0 10v1M119.5 18v2m0 37v1m0 36v1m0 69v1m0 5v1m0 3v1m0 24v2m0 18v1m0 4v1m0 11v1m0 18v1m0 4v1m0 17v1m0 4v1m0 4v1m0 1v1m0 12v1m0 4v1m0 1v1m0 4v1m0 37v1m0 37v1M121.5 29v1m0 42v1m0 20v1m0 10v1m0 33v1m0 16v1m0 2v1m0 32v1m0 36v1m0 91v1m0 50v1M123.5 5v1m0 2v1m0 10v2m0 11v1m0 10v2m0 1v1m0 31v1m0 32v1m0 12v1m0 15v1m0 2v1m0 16v1m0 1v1m0 26v1m0 34v1m0 8v2m0 48v1m0 6v1m0 6v1m0 5v1m0 20v1m0 1v1m0 22v1m0 10v1m0 11v1m0 8v1M125.5 0v1m0 46v2m0 19v1m0 13v1m0 6v1m0 1v2m0 5v1m0 1v1m0 34v1m0 4v1m0 6v1m0 12v1m0 15v1m0 7v1m0 7v1m0 15v1m0 29v1m0 26v1m0 21v2m0 25v1m0 3v1m0 18v1M130.5 10v1m0 14v1m0 15v1m0 23v1m0 28v1m0 1v1m0 14v1m0 14v1m0 1v1m0 32v1m0 17v1m0 21v1m0 28v1m0 54v1m0 11v1m0 20v1m0 14v1m0 32v1m0 1v1m0 17v1M135.5 12v1m0 23v1m0 2v1m0 6v1m0 15v1m0 5v1m0 4v1m0 4v1m0 7v1m0 12v1m0 13v1m0 22v1m0 1v1m0 13v1m0 14v2m0 3v1m0 2v1m0 5v2m0 3v1m0 5v2m0 5v1m0 7v1m0 5v2m0 3v1m0 10v1m0 81v1m0 11v1m0 2v3m0 1v1m0 6v1m0 19v1m0 12v1m0 1v1M140.5 1v1m0 13v1m0 4v1m0 4v1m0 1v1m0 32v1m0 41v1m0 1v2m0 73v1m0 26v1m0 13v1m0 37v1m0 3v1m0 3v1m0 14v1m0 14v2m0 29v1m0 20v1m0 6v1m0 26v1M145.5 45v1m0 2v1m0 16v2m0 7v2m0 7v1m0 10v1m0 11v1m0 16v1m0 15v1m0 14v1m0 1v1m0 2v1m0 2v1m0 10v1m0 17v1m0 4v1m0 4v1m0 25v1m0 9v1m0 5v1m0 6v2m0 16v1m0 7v1m0 9v1m0 1v1m0 3v1m0 5v1m0 16v1m0 7v1m0 5v1m0 47v1m0 3v1M150.5 11v1m0 14v1m0 17v1m0 57v1m0 17v1m0 1v1m0 19v1m0 35v1m0 16v1m0 6v1m0 13v1m0 11v1m0 9v1m0 10v1m0 2v1m0 22v1m0 1v1m0 28v1m0 17v1m0 2v1m0 6v1m0 23v2m0 7v1m0 5v1M155.5 103v1m0 12v1m0 14v1m0 28v1m0 32v1m0 11v1m0 22v1m0 2v1m0 6v1m0 20v1m0 77v1m0 7v1m0 39v1m0 2v1"/>
<path stroke="#472f7d" d="M5.5 35v1m0 8v1m0 9v1m0 3v1m0 16v1m0 19v1m0 3v1m0 18v1m0 108v1m0 15v1m0 26v1m0 111v1M6.5 9v1m0 11v1m0 4v1m0 24v1m0 2v1m0 9v1m0 14v1m0 72v1m0 38v1m0 16v1m0 17v1m0 12v1m0 11v1m0 18v1m0 12v1m0 32v1m0 15v1m0 20v1m0 23v1m0 11v1M7.5 3v2m0 49v1m0 20v1m0 75v1m0 7v1m0 50v1m0 67v1m0 9v1m0 4v1m0 5v1m0 34v1m0 36v1m0 20v1M8.5 47v1m0 5v2m0 35v1m0 18v1m0 27v1m0 49v2m0 31v1m0 13v1m0 12v1m0 12v1m0 12v1m0 29v1m0 18v1m0 46v1m0 24v1M9.5 11v1m0 47v1m0 16v1m0 89v1m0 5v1m0 2v1m0 2v1m0 63v1m0 46v1m0 102v1M10.5 6v1m0 8v1m0 22v1m0 35v1m0 2v1m0 3v1m0 12v1m0 5v1m0 18v1m0 18v1m0 10v1m0 19v1m0 16v1m0 18v2m0 21v1m0 26v1m0 12v1m0 3v1m0 10v1m0 16v1m0 14v1m0 8v1m0 19v1m0 16v1m0 11v1m0 10v1M11.5 242v1m0 14v1m0 18v1m0 1v1m0 10v1m0 16v1m0 54v1m0 17v1m0 11v1M12.5 15v1m0 7v1m0 59v1m0 47v1m0 25v1m0 40v1m0 70v1m0 27v1m0 13v1m0 14v1m0 39v1m0 26v1M13.5 5v1m0 23v1m0 13v1m0 4v1m0 25v1m0 84v1m0 89v1M14.5 3v1m0 12v1m0 7v1m0 20v1m0 80v1m0 1v1m0 10v1m0 77v1m0 4v1m0 40v1m0 18v1m0 28v1m0 33v1m0 4v1m0 26v1M15.5 86v1m0 22v1m0 4v1m0 27v1m0 28v2m0 41v1m0 12v1m0 8v1m0 2v1m0 59v1M16.5 35v2m0 50v1m0 29v1m0 47v1m0 48v1m0 28v2m0 27v1m0 2v1m0 5v1m0 55v1m0 2v1m0 7v1m0 27v1m0 1v1m0 12v1M17.5 0v1m0 12v1m0 21v1m0 7v1m0 74v1m0 44v1m0 3v1m0 5v1m0 40v1m0 1v1m0 3v1m0 9v1m0 2v1m0 10v1m0 4v1m0 2v1m0 5v1m0 7v5m0 2v1m0 16v1m0 1v1m0 1v1m0 22v1m0 15v1m0 3v1m0 3v1m0 1v1m0 8v1m0 36v1m0 4v1M18.5 28v1m0 9v1m0 2v1m0 44v1m0 6v1m0 132v1m0 22v1m0 141v1M19.5 7v1m0 7v1m0 3v1m0 7v1m0 8v1m0 20v1m0 2v1m0 4v1m0 7v1m0 12v1m0 1v1m0 11v1m0 9v1m0 41v1m0 4v1m0 6v1m0 11v1m0 11v1m0 3v1m0 16v1m0 40v1m0 7v1m0 22v1m0 23v1m0 7v1m0 8v2m0 5v1m0 10v1m0 34v1m0 5v1m0 6v2m0 4v1M20.5 0v1m0 29v1m0 5v1m0 12v1m0 41v1m0 21v1m0 26v1m0 5v1m0 16v1m0 53v1m0 2v1m0 18v1m0 30v1m0 12v1m0 4v1M21.5 4v1m0 9v1m0 15v1m0 16v1m0 30v1m0 6v1m0 7v1m0 1v1m0 55v1m0 16v1m0 59v1m0 15v1m0 18v1m0 24v1m0 7v1m0 2v1m0 4v1m0 1v1m0 9v1m0 35v1m0 13v1m0 22v1M22.5 141v1m0 2v1m0 1v1m0 1v1m0 3v1m0 3v2m0 181v1M23.5 22v1m0 25v1m0 15v1m0 69v1m0 57v1m0 26v1m0 4v1m0 7v1m0 86v1m0 17v1m0 18v1m0 23v1m0 3v1m0 6v1M24.5 41v1m0 36v1m0 5v1m0 5v1m0 1v1m0 46v1m0 2v1m0 43v1m0 7v1m0 5v1m0 1v1m0 1v1m0 22v1m0 2v2m0 60v1m0 6v1m0 13v1m0 12v2m0 8v2m0 7v1m0 26v1m0 7v1m0 7v1M25.5 2v1m0 24v1m0 8v1m0 33v1m0 11v2m0 67v1m0 18v1m0 25v1m0 21v1m0 3v1m0 15v1m0 5v1m0 7v1m0 93v1m0 2v2m0 6v1m0 12v1m0 21v1M26.5 1v1m0 18v1m0 26v1m0 5v1m0 46v2m0 11v1m0 2v1m0 20v1m0 48v1m0 37v1m0 5v1m0 37v1m0 5v1m0 14v1m0 16v1m0 21v1m0 5v1m0 2v1m0 8v1m0 2v1m0 32v1m0 1v2M27.5 53v1m0 39v1m0 5v1m0 1v1m0 4v2m0 7v1m0 3v1m0 59v1m0 81v1m0 34v3m0 4v1m0 1v1m0 2v1m0 2v1m0 1v2m0 4v1m0 20v1m0 9v1M28.5 53v1m0 2v1m0 3v1m0 2v1m0 2v2m0 3v2m0 1v2m0 8v1m0 78v1m0 27v1m0 91v1m0 22v1m0 4v1m0 6v1m0 1v1m0 18v1m0 5v1m0 5v1M29.5 61v1m0 7v1m0 36v1m0 32v1m0 4v1m0 10v1m0 19v1m0 54v2m0 38v1m0 1v1m0 31v1m0 3v1m0 2v1m0 7v1m0 33v1m0 41v1M30.5 7v1m0 8v1m0 4v1m0 30v1m0 10v1m0 8v1m0 1v2m0 86v1m0 36v1m0 8v1m0 7v1m0 5v1m0 1v1m0 3v1m0 4v1m0 11v2m0 5v1m0 14v1m0 2v1m0 29v1m0 24v1m0 7v1m0 10v1m0 5v1m0 19v1M31.5 26v1m0 4v1m0 14v1m0 18v1m0 26v1m0 3v1m0 8v1m0 11v1m0 21v2m0 1v1m0 8v1m0 26v1m0 3v1m0 3v2m0 21v1m0 5v1m0 10v1m0 11v1m0 40v1m0 2v1m0 79v1m0 8v1M32.5 22v1m0 9v1m0 16v1m0 2v1m0 25v2m0 2v1m0 85v1m0 44v1m0 63v1m0 27v1m0 14v1m0 3v1m0 15v1m0 18v1m0 3v1M33.5 59v1m0 15v1m0 4v1m0 5v2m0 6v1m0 58v1m0 34v1m0 7v1m0 23v1m0 10v1m0 5v1m0 46v1m0 6v1m0 3v1m0 1v1m0 12v1m0 2v1m0 39v1m0 12v1m0 14v1M34.5 51v1m0 106v1m0 54v1m0 22v1m0 66v1M35.5 10v1m0 67v1m0 42v1m0 75v1m0 19v1m0 18v1m0 40v1m0 16v1m0 41v1m0 10v1m0 18v1M36.5 9v1m0 33v1m0 15v1m0 43v1m0 49v1m0 80v1m0 52v1m0 5v1m0 22v1m0 62v1m0 5v2m0 4v1M37.5 16v1m0 19v1m0 11v1m0 5v1m0 75v1m0 9v1m0 28v1m0 22v1m0 70v1m0 11v1m0 21v1M38.5 63v1m0 45v1m0 212v1m0 37v1m0 31v2M39.5 27v1m0 39v1m0 1v1m0 2v1m0 23v1m0 39v1m0 7v1m0 11v1m0 2v1m0 39v1m0 20v1m0 3v1m0 15v1m0 25v1m0 2v1m0 39v1M40.5 0v1m0 11v1m0 6v1m0 22v1m0 9v1m0 26v1m0 7v1m0 33v1m0 60v1m0 2v1m0 3v1m0 4v1m0 7v1m0 2v2m0 11v1m0 3v1m0 9v1m0 20v1m0 1v1m0 4v1m0 2v1m0 14v1m0 7v1m0 11v1m0 44v1m0 2v1m0 3v1m0 21v1m0 7v1m0 9v1m0 4v1M41.5 7v1m0 38v1m0 3v1m0 18v1m0 3v1m0 5v1m0 24v1m0 11v1m0 12v1m0 1v1m0 9v1m0 1v1m0 10v1m0 6v1m0 18v1m0 10v1m0 8v1m0 4v1m0 5v1m0 15v1m0 3v1m0 3v1m0 7v1m0 3v1m0 5v1m0 16v1m0 1v1m0 32v1m0 1v1m0 1v1m0 1v1m0 23v1m0 6v1m0 33v1M42.5 8v1m0 7v2m0 6v1m0 2v1m0 6v1m0 5v2m0 7v1m0 15v1m0 3v1m0 10v1m0 24v1m0 4v2m0 12v1m0 28v1m0 3v1m0 7v1m0 1v1m0 20v1m0 34v1m0 5v1m0 5v2m0 4v1m0 34v1m0 4v2m0 6v1m0 8v1m0 30v1m0 3v1m0 1v1m0 8v1m0 21v2m0 18v1M43.5 31v1m0 105v1m0 252v1M44.5 1v1m0 5v1m0 32v2m0 4v1m0 9v1m0 3v1m0 25v1m0 49v1m0 20v1m0 1v1m0 37v1m0 8v1m0 11v1m0 4v1m0 1v1m0 8v1m0 24v2m0 4v1m0 9v2m0 5v1m0 81v1m0 29v1M45.5 32v1m0 13v1m0 5v1m0 3v1m0 3v1m0 17v1m0 23v1m0 25v1m0 40v1m0 10v1m0 4v1m0 1v1m0 23v1m0 35v1m0 2v1m0 14v1m0 48v1m0 15v2M46.5 33v1m0 11v1m0 59v1m0 4v1m0 50v1m0 22v1m0 2v1m0 10v1m0 28v1m0 3v1m0 11v1m0 65v1m0 2v1m0 27v1m0 24v1M47.5 37v1m0 2v1m0 21v1m0 218v1m0 6v1m0 5v1M48.5 0v1m0 43v1m0 4v1m0 1v1m0 14v1m0 1v1m0 10v1m0 2v1m0 30v1m0 18v1m0 31v1m0 5v1m0 20v1m0 97v1m0 12v2m0 25v1m0 1v1m0 26v1M49.5 78v1m0 147v1m0 15v1m0 35v1M50.5 20v1m0 33v1m0 64v1m0 8v1m0 20v1m0 70v1m0 6v1m0 7v1m0 8v1m0 9v1m0 15v1m0 70v1M51.5 42v1m0 23v1m0 13v1m0 19v1m0 1v1m0 32v1m0 2v1m0 93v1m0 9v1m0 1v1m0 55v1m0 26v1M52.5 18v1m0 122v1m0 60v1m0 45v1m0 61v1m0 77v1M53.5 10v1m0 23v1m0 60v1m0 48v1m0 8v1m0 9v1m0 3v1m0 2v1m0 52v1m0 6v1m0 4v1m0 35v2m0 36v1m0 12v1m0 18v1m0 16v1M54.5 124v1m0 25v1m0 1v1m0 2v1m0 158v1M55.5 105v1m0 33v1m0 139v1m0 16v1m0 8v1m0 29v1M56.5 17v1m0 9v1m0 23v1m0 2v2m0 3v2m0 4v1m0 41v2m0 1v1m0 10v1m0 13v1m0 6v1m0 19v1m0 14v1m0 36v1m0 21v1m0 41v1m0 50v1m0 2v1m0 6v1m0 6v1m0 44v1M57.5 26v1m0 1v1m0 24v1m0 36v1m0 10v1m0 11v1m0 24v1m0 8v1m0 26v1m0 22v1m0 18v1m0 4v1m0 6v1m0 33v1m0 9v1m0 6v1m0 2v1m0 10v1m0 8v2m0 1v1m0 16v1m0 10v1m0 23v1m0 6v1m0 24v1M58.5 63v1m0 28v1m0 25v1m0 2v1m0 9v1m0 16v2m0 3v1m0 5v1m0 2v1m0 3v1m0 1v2m0 3v1m0 9v1m0 16v1m0 3v2m0 20v1m0 25v1m0 40v1m0 66v1m0 31v1M59.5 35v1m0 31v1m0 19v1m0 6v1m0 8v1m0 19v1m0 37v1m0 1v1m0 21v1m0 50v1m0 27v1m0 1v1m0 15v1m0 32v1m0 21v1M60.5 103v1m0 99v1m0 32v1m0 19v1M61.5 26v1m0 31v1m0 41v1m0 44v1m0 47v1m0 34v1m0 36v1m0 9v1M62.5 8v1m0 12v1m0 4v1m0 3v1m0 13v1m0 89v1m0 16v1m0 3v1m0 50v2m0 27v1m0 25v1m0 3v1m0 32v1m0 9v1m0 4v1m0 9v1m0 1v1m0 42v1m0 3v1m0 12v1M63.5 22v1m0 16v2m0 4v1m0 9v1m0 12v1m0 14v1m0 5v1m0 27v1m0 10v1m0 5v1m0 3v1m0 58v1m0 10v2m0 5v2m0 4v1m0 16v1m0 43v1m0 2v1m0 3v1m0 2v2m0 3v2m0 3v1m0 2v1m0 40v1m0 44v1M64.5 45v2m0 18v1m0 37v1m0 9v1m0 42v1m0 4v1m0 8v1m0 65v1m0 18v1m0 16v1m0 47v1m0 18v1m0 6v1m0 11v1M65.5 23v1m0 6v1m0 3v1m0 33v1m0 31v1m0 103v1m0 57v1m0 15v1m0 43v1m0 21v1M66.5 62v1m0 13v1m0 5v1m0 56v1m0 28v1m0 86v1m0 47v1m0 11v1m0 19v1m0 1v1m0 2v1m0 45v1M67.5 15v1m0 1v1m0 21v1m0 4v1m0 1v1m0 27v1m0 14v1m0 12v1m0 19v1m0 23v1m0 6v1m0 27v1m0 15v1m0 6v1m0 24v1m0 32v1m0 6v1m0 6v1m0 20v1m0 1v1m0 26v1m0 29v1m0 2v1m0 9v2m0 23v1M68.5 28v1m0 58v1m0 34v1m0 34v1m0 167v1m0 56v1M69.5 35v1m0 57v1m0 30v1m0 19v1m0 13v1m0 33v1m0 5v2m0 6v1m0 15v1m0 5v1m0 7v1m0 23v1m0 65v1m0 16v1m0 21v1M70.5 1v1m0 17v1m0 15v1m0 52v1m0 37v1m0 7v1m0 20v1m0 38v1m0 32v1m0 13v1m0 38v1m0 18v1m0 8v1m0 12v1m0 13v1m0 30v1m0 14v1m0 2v1M71.5 1v1m0 23v1m0 24v1m0 19v1m0 21v1m0 15v1m0 24v1m0 18v1m0 11v2m0 10v1m0 129v1m0 51v1m0 1v1m0 2v1m0 3v1M72.5 7v1m0 27v1m0 17v1m0 28v1m0 59v1m0 56v1m0 92v1m0 62v1m0 3v1m0 31v1M73.5 173v1m0 10v1m0 59v1m0 57v1m0 89v1m0 2v1M74.5 21v2m0 9v1m0 9v1m0 6v1m0 5v1m0 7v1m0 43v1m0 12v1m0 9v1m0 7v1m0 3v1m0 2v1m0 53v1m0 3v1m0 28v2m0 7v1m0 12v1m0 2v1m0 2v1m0 6v1m0 7v1m0 2v1m0 2v1m0 15v1m0 12v1m0 2v1m0 28v1m0 14v1m0 17v1m0 7v1m0 5v1M75.5 1v1m0 8v1m0 55v1m0 8v2m0 106v1m0 86v1m0 37v1m0 39v1m0 4v1m0 17v1M76.5 14v1m0 28v1m0 12v1m0 74v1m0 83v1m0 29v1m0 39v1m0 7v1m0 9v1m0 5v1m0 47v1m0 3v1m0 8v1m0 21v1M77.5 3v1m0 2v1m0 1v1m0 73v1m0 49v1m0 41v1m0 29v1m0 161v1m0 4v1m0 1v1M78.5 20v1m0 12v1m0 8v1m0 165v2m0 18v1m0 45v1m0 84v1m0 10v1m0 20v1M79.5 25v1m0 18v1m0 19v1m0 5v1m0 24v1m0 3v1m0 19v1m0 30v1m0 52v1m0 27v1m0 7v1m0 1v1m0 58v1m0 1v1m0 6v1m0 39v1m0 14v1M80.5 57v1m0 68v1m0 12v2m0 88v1m0 75v1m0 8v1m0 13v1m0 32v1m0 5v1m0 5v1M81.5 58v1m0 18v1m0 34v1m0 3v1m0 109v1m0 11v1m0 7v1m0 46v1m0 48v1m0 30v1M82.5 16v1m0 11v1m0 17v1m0 17v1m0 48v1m0 12v2m0 10v1m0 21v1m0 29v1m0 7v1m0 14v1m0 21v1m0 33v1m0 14v1m0 50v1m0 5v1m0 5v1m0 9v1m0 9v1M83.5 0v2m0 20v1m0 2v1m0 13v1m0 2v1m0 7v1m0 21v1m0 10v1m0 16v1m0 27v1m0 8v1m0 23v1m0 13v1m0 3v1m0 2v1m0 12v1m0 10v1m0 19v1m0 67v1m0 31v1m0 19v1m0 13v1m0 22v1m0 5v1M84.5 16v1m0 66v1m0 24v1m0 38v1m0 108v1m0 3v2m0 18v1m0 1v1m0 17v1m0 18v1m0 17v1m0 22v1m0 28v1m0 1v1M85.5 7v1m0 14v1m0 1v1m0 63v1m0 15v1m0 33v1m0 7v1m0 3v1m0 4v1m0 1v1m0 47v1m0 20v1m0 6v1m0 9v1m0 73v1m0 15v1m0 27v1m0 11v1m0 13v1M86.5 4v1m0 89v1m0 16v3m0 2v3m0 5v1m0 1v1m0 3v1m0 93v1m0 124v1m0 1v1m0 2v1m0 1v1m0 14v2m0 1v1m0 7v1m0 2v1m0 1v2M87.5 86v1m0 13v1m0 3v1m0 5v1m0 45v1m0 116v2m0 6v1m0 42v1m0 13v1m0 13v1m0 17v1m0 20v1M88.5 57v1m0 24v1m0 47v1m0 118v1m0 4v1m0 16v1m0 7v1m0 62v1M89.5 0v1m0 39v1m0 7v1m0 30v1m0 26v1m0 2v1m0 80v1m0 28v1m0 56v1m0 35v1m0 11v1m0 48v1M90.5 14v1m0 55v1m0 68v1m0 11v1m0 36v1m0 21v1m0 11v2m0 6v1m0 5v2m0 3v1m0 8v1m0 2v1m0 10v2m0 3v1m0 3v1m0 49v1m0 67v1M91.5 3v1m0 18v1m0 21v1m0 15v1m0 2v2m0 25v1m0 11v1m0 11v1m0 2v1m0 3v1m0 1v1m0 32v1m0 25v1m0 2v1m0 12v1m0 19v1m0 10v1m0 5v1m0 2v1m0 26v1m0 27v1m0 8v1m0 51v1m0 25v2m0 5v1m0 1v1m0 1v1m0 2v1M92.5 65v1m0 38v1m0 62v1m0 69v1m0 33v1m0 42v1m0 12v1m0 59v1m0 3v1M93.5 53v1m0 6v1m0 1v1m0 108v1m0 5v1m0 28v1m0 12v1m0 3v1m0 7v1m0 5v1m0 5v1m0 3v1m0 4v1m0 7v3m0 24v1m0 2v1m0 23v1m0 12v1m0 18v1m0 19v2M94.5 8v1m0 3v1m0 46v1m0 17v1m0 6v1m0 27v1m0 62v1m0 9v2m0 5v1m0 27v1m0 6v1m0 13v1m0 7v1m0 9v1m0 4v1m0 1v1m0 18v1m0 86v1m0 18v2M95.5 16v1m0 134v1m0 2v1m0 41v1m0 78v1m0 19v1m0 38v1m0 46v2m0 12v1M96.5 35v1m0 2v1m0 12v1m0 46v1m0 8v1m0 7v1m0 20v1m0 19v1m0 19v1m0 40v2m0 1v1m0 3v1m0 10v1m0 4v2m0 37v1m0 37v1m0 25v1m0 11v2m0 9v1m0 24v1m0 3v1M97.5 45v1m0 158v1m0 14v1m0 53v1m0 28v1m0 24v1M98.5 9v1m0 20v1m0 11v1m0 59v1m0 15v1m0 22v1m0 45v1m0 2v1m0 16v1m0 28v1m0 52v1m0 29v1m0 26v1M99.5 275v1m0 70v1M100.5 0v1m0 9v1m0 18v1m0 7v1m0 99v1m0 8v1m0 9v1m0 95v1m0 25v1m0 48v1m0 21v1m0 11v1M101.5 2v1m0 47v1m0 56v1m0 6v1m0 11v1m0 3v1m0 33v1m0 59v1m0 8v1m0 9v1m0 15v1m0 20v1m0 6v1m0 10v1m0 1v1m0 4v1m0 13v1m0 10v1m0 23v1m0 3v1m0 9v1m0 3v1M102.5 16v1m0 54v1m0 1v1m0 13v1m0 3v1m0 25v1m0 6v1m0 32v1m0 42v1m0 47v1m0 34v1m0 31v1m0 39v1m0 30v1m0 4v1M103.5 25v1m0 36v1m0 24v1m0 40v1m0 11v1m0 68v1m0 34v1m0 18v1m0 40v1m0 24v1m0 12v1m0 2v1m0 37v1m0 5v1m0 1v1M104.5 1v1m0 20v1m0 54v1m0 4v1m0 152v1m0 16v1m0 20v1m0 32v1m0 5v1m0 6v1M105.5 18v1m0 50v1m0 35v1m0 23v1m0 15v1m0 41v1m0 2v1m0 2v1m0 25v1m0 57v1m0 9v1m0 4v1m0 11v1m0 4v1m0 40v1m0 4v1M106.5 4v1m0 8v1m0 13v1m0 7v1m0 42v1m0 47v1m0 24v1m0 4v1m0 3v1m0 3v1m0 9v1m0 6v1m0 10v1m0 2v1m0 5v1m0 39v1m0 18v1m0 22v1m0 10v1m0 6v1m0 5v1m0 14v1m0 6v1m0 10v1m0 4v2m0 3v1m0 8v1m0 4v1M107.5 9v1m0 79v1m0 13v1m0 80v1m0 27v1m0 9v1m0 48v1m0 96v1m0 9v1M108.5 3v1m0 3v1m0 4v1m0 105v1m0 3v1m0 26v1m0 37v1m0 51v1m0 22v1m0 2v1m0 23v1m0 9v1m0 31v1m0 18v1m0 10v1m0 24v1m0 3v1M109.5 75v1m0 136v1m0 9v1m0 4v1m0 65v1m0 26v1m0 25v1M110.5 16v1m0 4v1m0 75v1m0 79v1m0 79v1m0 31v1m0 57v1M111.5 8v1m0 17v1m0 6v1m0 3v1m0 6v1m0 22v1m0 13v1m0 3v1m0 18v1m0 8v2m0 40v1m0 19v1m0 23v1m0 9v1m0 14v1m0 25v1m0 30v1m0 9v1m0 12v1m0 42v1m0 4v1m0 31v1m0 6v1M113.5 43v1m0 33v1m0 98v1m0 53v1m0 2v1m0 17v1m0 1v1m0 90v1M115.5 7v1m0 58v1m0 12v1m0 27v1m0 20v1m0 1v1m0 6v1m0 19v1m0 44v1m0 3v1m0 16v1m0 18v1m0 27v1m0 39v1m0 33v1M117.5 60v1m0 14v1m0 7v1m0 10v1m0 3v1m0 10v1m0 47v1m0 3v1m0 42v1m0 33v1m0 38v1m0 15v1m0 17v1m0 1v1m0 40v1M119.5 7v1m0 3v1m0 3v1m0 24v1m0 29v1m0 17v1m0 3v1m0 14v1m0 14v1m0 9v1m0 7v1m0 2v1m0 106v1m0 6v1m0 21v1m0 4v1m0 64v1m0 4v1m0 2v1m0 4v1m0 25v1M121.5 20v1m0 34v1m0 17v1m0 22v1m0 18v1m0 7v1m0 4v1m0 66v1m0 40v1m0 5v1m0 39v1m0 14v1m0 10v1m0 4v1m0 15v1m0 3v1m0 3v1M123.5 4v1m0 25v1m0 22v1m0 6v1m0 28v1m0 20v1m0 85v1m0 13v1m0 126v1m0 6v1m0 38v1M125.5 28v1m0 135v1m0 26v1m0 1v1m0 89v1m0 26v1m0 12v1m0 50v1M130.5 150v1m0 4v1m0 30v1m0 32v2m0 3v1m0 10v1m0 20v1m0 69v1m0 14v1m0 32v1m0 2v1M135.5 8v1m0 11v1m0 59v1m0 9v1m0 6v1m0 6v1m0 22v1m0 2v1m0 2v1m0 5v1m0 8v3m0 6v1m0 2v1m0 2v1m0 15v1m0 3v1m0 14v1m0 42v1m0 47v1m0 1v1m0 12v1m0 11v1m0 39v1m0 9v1m0 1v1m0 14v1M140.5 126v1m0 4v1m0 17v1m0 133v1m0 11v1m0 18v1m0 14v1m0 43v1M145.5 29v1m0 13v1m0 15v1m0 24v1m0 16v1m0 31v1m0 10v1m0 12v1m0 22v1m0 35v1m0 44v1m0 7v1m0 4v1m0 16v1m0 42v1m0 21v2m0 3v2M150.5 41v1m0 7v1m0 29v1m0 106v1m0 18v1m0 37v1m0 3v1m0 42v1m0 23v1m0 20v1m0 32v1M155.5 15v1m0 117v1m0 55v1m0 146v1"/>
<path stroke="#443983" d="M5.5 28v1m0 31v1m0 159v1m0 134v1M6.5 61v1m0 24v1m0 10v1m0 66v1m0 3v1m0 6v1m0 40v1m0 71v1m0 51v1m0 37v1m0 16v1M7.5 186v1m0 18v1m0 136v1m0 50v1M8.5 55v1m0 3v1m0 50v1m0 19v1m0 49v1m0 76v1m0 14v1m0 16v1m0 61v1m0 43v1M9.5 28v1m0 375v1M10.5 12v1m0 140v1m0 110v1m0 74v1m0 11v1m0 41v1M11.5 395v1M12.5 38v1m0 1v1m0 32v1m0 66v1m0 189v1m0 29v1m0 24v1M13.5 47v1m0 46v1m0 32v1m0 70v1m0 186v1m0 8v1M14.5 40v1m0 22v1m0 233v1m0 4v1m0 40v1m0 21v1m0 26v1M15.5 387v1m0 6v1M16.5 61v1m0 53v1m0 41v1m0 118v1m0 76v1m0 38v1m0 2v1M17.5 54v1m0 32v1m0 47v1m0 11v1m0 80v1m0 16v1m0 60v1m0 1v1M18.5 29v1m0 20v1m0 344v1M19.5 106v2m0 10v1m0 19v1m0 39v1m0 27v1m0 57v1m0 37v1m0 51v1m0 5v1m0 10v1M20.5 37v1m0 2v1m0 6v2m0 3v2m0 1v1m0 34v1m0 108v1m0 41v1m0 80v1m0 25v1m0 42v1m0 1v1M21.5 46v1m0 61v1m0 82v1m0 58v1m0 14v1M22.5 84v1m0 57v2m0 5v3m0 6v1m0 82v1m0 52v1M23.5 2v1m0 39v1m0 107v1m0 2v1m0 7v2m0 28v1m0 13v1m0 2v1m0 12v1m0 32v1m0 21v1m0 4v1m0 3v1m0 43v1m0 2v1M24.5 134v1m0 68v1m0 17v1m0 10v1m0 6v1m0 2v1m0 14v1m0 16v2m0 111v1M25.5 14v1m0 89v1m0 27v1m0 20v1m0 62v1m0 23v1m0 1v1m0 50v1m0 53v1m0 36v1M26.5 48v1m0 129v1m0 15v1m0 7v1m0 6v1m0 9v1m0 50v4m0 97v1m0 3v3M27.5 88v2m0 1v2m0 2v2m0 1v1m0 5v2m0 2v1m0 2v1m0 2v1m0 1v1m0 1v1m0 2v1m0 182v1m0 4v1m0 19v1m0 4v1m0 3v1m0 8v1m0 43v1M28.5 54v2m0 2v2m0 1v2m0 5v1m0 16v4m0 304v1M29.5 110v1m0 15v1m0 9v3m0 2v2m0 138v1M30.5 42v1m0 46v1m0 7v1m0 31v1m0 19v1m0 22v1m0 33v1m0 6v1m0 47v1m0 6v1m0 59v1m0 5v1m0 11v1m0 12v1m0 26v1m0 4v1M31.5 76v1m0 5v1m0 86v2m0 1v1m0 23v1m0 138v1M32.5 30v1m0 49v2m0 22v1m0 117v1M33.5 45v1m0 161v1m0 28v1m0 155v1m0 1v1M34.5 164v1m0 110v1m0 116v1m0 1v1M35.5 192v1m0 33v1m0 37v1m0 83v1m0 46v1M37.5 126v4m0 28v1m0 147v1m0 24v1m0 39v1M38.5 36v1m0 57v1m0 109v1M39.5 89v1m0 28v1m0 39v1m0 1v1m0 1v2m0 78v1m0 71v1m0 56v1M40.5 59v1m0 26v1m0 169v1m0 17v1m0 96v1M41.5 15v1m0 9v1m0 8v1m0 16v1m0 40v1m0 18v1m0 34v1m0 31v1m0 6v1m0 44v1m0 44v1m0 55v1m0 31v1M42.5 42v1m0 21v1m0 80v1m0 18v1m0 1v1m0 1v1m0 78v1m0 10v1m0 1v1m0 27v1m0 34v1m0 16v1m0 12v1m0 27v1m0 12v1M44.5 113v1m0 14v1m0 2v1m0 81v1m0 57v1m0 88v1M45.5 67v1m0 89v1m0 12v1m0 1v2m0 63v1M46.5 81v1m0 76v1M48.5 21v1m0 4v1m0 161v1m0 5v1m0 33v1m0 2v1m0 133v1m0 26v1M49.5 27v1m0 73v1M50.5 8v1m0 23v1m0 6v1m0 21v1m0 163v1m0 2v1M51.5 163v1m0 32v1m0 99v1m0 11v1m0 26v1m0 39v1m0 8v1m0 10v1M52.5 336v1m0 50v1m0 6v1M53.5 39v1m0 220v1m0 33v1M55.5 391v1M56.5 28v1m0 39v1m0 11v1m0 68v1m0 73v1m0 126v1M57.5 13v1m0 201v1m0 175v1M58.5 91v1m0 41v1m0 7v2m0 11v1m0 3v1m0 5v2m0 15v2m0 5v1m0 3v1m0 8v1m0 1v1M59.5 394v1M60.5 59v1m0 183v1m0 147v1M61.5 206v1m0 49v1m0 78v1m0 14v1M62.5 13v1m0 240v1m0 13v1M63.5 35v1m0 165v1m0 11v1m0 43v1m0 26v1m0 11v1m0 25v1m0 72v1M64.5 50v2m0 14v1m0 7v2m0 53v1m0 9v1m0 69v1m0 102v1m0 27v1m0 10v1m0 39v2M65.5 20v1m0 6v1m0 1v1m0 1v2m0 3v1m0 139v1m0 5v1m0 26v1M66.5 67v1m0 105v1m0 64v1M67.5 68v1m0 83v1m0 124v1m0 107v1M68.5 231v1m0 77v1m0 42v1M69.5 13v1m0 14v1m0 21v1m0 198v1m0 141v1M70.5 172v1m0 48v1m0 37v1m0 9v1M71.5 173v1m0 68v1m0 45v1m0 3v1m0 78v1m0 23v1M72.5 2v1m0 18v1m0 5v1m0 151v1m0 42v1m0 126v1M73.5 125v1m0 67v1m0 200v1M74.5 15v1m0 13v1m0 3v2m0 21v1m0 5v1m0 62v1m0 10v1m0 31v1m0 73v1m0 41v1m0 35v1m0 46v1m0 19v1M75.5 42v1m0 188v1m0 62v1m0 41v1m0 57v1M76.5 127v3m0 63v1m0 101v1m0 10v1m0 84v1M77.5 95v1m0 92v1m0 16v1m0 171v1m0 14v1M78.5 3v1m0 132v1m0 56v1m0 201v1M79.5 7v1m0 122v2m0 16v1m0 53v1m0 57v1m0 54v1m0 38v1m0 28v2M80.5 11v1M81.5 110v1m0 136v1m0 46v1m0 30v1M82.5 99v1m0 28v1m0 180v1m0 15v1m0 44v1m0 6v1M83.5 6v1m0 14v1m0 66v1m0 25v1m0 38v1m0 10v1m0 4v1m0 4v1m0 1v1m0 45v1m0 36v1m0 11v1m0 1v1m0 3v1m0 19v1m0 8v1m0 22v1m0 5v1m0 17v1m0 2v1m0 12v1m0 25v1M84.5 89v1M85.5 89v1m0 218v1M86.5 110v1m0 4v1m0 3v1m0 1v1m0 106v1m0 123v2m0 3v3m0 1v1m0 5v3m0 9v1m0 9v1m0 4v1M88.5 145v1m0 215v1M89.5 392v3M90.5 71v2m0 3v1m0 73v1m0 1v1m0 3v1m0 10v2m0 46v2m0 1v2m0 1v1m0 3v1m0 3v1m0 8v1m0 135v1m0 17v2m0 1v1M91.5 67v1m0 27v1m0 20v1m0 66v1m0 3v1m0 17v1m0 20v1m0 5v1m0 3v1m0 23v1m0 19v1m0 8v2m0 4v1m0 1v1m0 7v4m0 9v1M93.5 57v1m0 7v2m0 4v1m0 28v1m0 65v1m0 3v1m0 36v1m0 77v1m0 11v1m0 64v1M94.5 123v1m0 43v1m0 13v1m0 5v2m0 1v2m0 32v1m0 1v1m0 5v3m0 4v1m0 4v1m0 5v1m0 6v1m0 29v1m0 64v1m0 40v1M96.5 21v2m0 11v1m0 4v1m0 17v5m0 34v2m0 1v1m0 14v1m0 3v1m0 19v1m0 16v1m0 1v3m0 18v1m0 10v1m0 4v3m0 1v3m0 18v1m0 17v1m0 1v1m0 18v2m0 3v1m0 4v1m0 7v2m0 2v1m0 18v1m0 2v1m0 12v2m0 2v1m0 20v2m0 15v1M97.5 203v1m0 117v1m0 71v1M98.5 181v1m0 195v1m0 13v1m0 2v1M99.5 63v1m0 327v1M100.5 174v1m0 159v1m0 56v1M101.5 67v1m0 12v1m0 10v1m0 60v1m0 15v1m0 67v1m0 8v1m0 113v1m0 21v1m0 1v1M102.5 167v1m0 94v1M103.5 169v1m0 210v1M104.5 150v1m0 26v1m0 3v1m0 126v1m0 76v1m0 5v1M105.5 20v1m0 217v1M106.5 9v2m0 86v1m0 2v1m0 43v1m0 3v1m0 34v1m0 18v1m0 52v1m0 2v2m0 39v2m0 90v1M107.5 71v1m0 63v1m0 96v1m0 19v1M108.5 33v1m0 113v1m0 71v1M109.5 31v1m0 10v1m0 70v1m0 25v1m0 233v1m0 20v1M111.5 25v1m0 24v1m0 242v1m0 38v1m0 52v1M113.5 366v1M115.5 41v1M117.5 17v1m0 8v1m0 70v1m0 20v1m0 251v1M119.5 95v1m0 82v1m0 47v1m0 36v1M121.5 11v1m0 157v1m0 75v1m0 145v1M123.5 99v1m0 229v1m0 61v1M125.5 26v1m0 19v1m0 58v1m0 142v1M130.5 2v1m0 14v1m0 115v1m0 40v1m0 34v1m0 181v1M135.5 64v1m0 46v1m0 32v1m0 20v1m0 18v1m0 52v1m0 133v1m0 19v1m0 2v1M140.5 11v1m0 19v1M145.5 0v1m0 165v1m0 65v1m0 102v1m0 55v2M150.5 54v1m0 20v1m0 11v1m0 59v1m0 2v1"/>
<path stroke="#414487" d="M5.5 404v1M7.5 77v1m0 317v1M8.5 49v1m0 112v1m0 45v1m0 16v1m0 71v1M9.5 394v1M10.5 9v1m0 112v1m0 51v1m0 33v1m0 56v1m0 129v1M11.5 404v1M12.5 244v1M13.5 103v1m0 270v1m0 8v1m0 4v1m0 4v1M17.5 259v1m0 3v2m0 10v1m0 1v1m0 114v1m0 2v1M18.5 5v1m0 13v1m0 14v2M19.5 43v1m0 2v1m0 107v1m0 118v1m0 83v1m0 33v1M20.5 38v1m0 2v1m0 1v4m0 3v2m0 2v1m0 25v1m0 8v1m0 2v1m0 61v1M21.5 175v1m0 29v1M22.5 110v1m0 1v1M23.5 394v1M24.5 32v1m0 173v4m0 4v1m0 8v2m0 13v1m0 153v1M25.5 150v1m0 84v1M26.5 257v1m0 11v1m0 18v1m0 19v1m0 3v1m0 9v1m0 46v1m0 4v1m0 5v1m0 11v1M27.5 90v1m0 21v1m0 182v1m0 47v1M28.5 308v1m0 10v1m0 75v1M29.5 25v1m0 101v1m0 12v1M30.5 190v1m0 53v1m0 3v1m0 53v1M31.5 104v1m0 231v1M32.5 29v1m0 47v1m0 72v1M33.5 179v1M35.5 0v1m0 143v1m0 114v1M36.5 118v1m0 11v1M37.5 124v1m0 268v1M39.5 161v1m0 5v2m0 78v1M40.5 100v1m0 71v1m0 4v1m0 30v1m0 18v1M41.5 74v1m0 26v1m0 12v1m0 7v1m0 42v1m0 42v1m0 62v1m0 90v1M42.5 142v1m0 20v1m0 78v1m0 14v1m0 134v1M43.5 180v1M44.5 80v1m0 231v1m0 1v1m0 4v1M45.5 151v1m0 8v1m0 3v1m0 2v1m0 3v1M46.5 392v1M48.5 251v1m0 138v1m0 3v1M49.5 395v1M50.5 125v1m0 83v1m0 184v1M51.5 71v1m0 96v1m0 179v1m0 43v1m0 1v1M53.5 49v1m0 265v1m0 75v1m0 2v1M54.5 391v1M56.5 24v1m0 31v1m0 44v1m0 255v1m0 35v1M57.5 351v1m0 40v1M58.5 135v1m0 1v3m0 4v2m0 1v1m0 3v2m0 3v1m0 10v1m0 16v2m0 1v1m0 14v1m0 21v1m0 168v1M59.5 233v1m0 157v1M60.5 94v1M61.5 215v1m0 97v1m0 78v1M62.5 394v1M63.5 206v1m0 7v1m0 18v1m0 16v1m0 35v1m0 3v1m0 4v1m0 3v1m0 92v1M64.5 43v2m0 4v1m0 2v1m0 128v1M65.5 24v1m0 1v1m0 256v1m0 63v1M66.5 381v1m0 10v1m0 1v1M67.5 91v1m0 88v1m0 109v1m0 11v1M69.5 149v1m0 6v1m0 220v1M70.5 105v1m0 21v1m0 245v1M71.5 57v1M72.5 167v1m0 224v1M73.5 226v1M74.5 99v1m0 40v1m0 94v1m0 17v1m0 33v1m0 3v1m0 87v1m0 12v2M76.5 132v1M79.5 87v1m0 72v1m0 24v1m0 207v1m0 1v1M80.5 54v1M81.5 303v1m0 89v2M82.5 62v1m0 155v1m0 172v1m0 3v1M83.5 4v1m0 3v1m0 46v1m0 54v1m0 59v1m0 73v1m0 123v1m0 22v2M86.5 125v1m0 1v2m0 221v1m0 4v1m0 7v1m0 6v1m0 5v2m0 5v2m0 1v1m0 4v1M88.5 391v1m0 2v1M89.5 354v1M90.5 74v1m0 74v1m0 4v1m0 3v1m0 3v2m0 50v1m0 19v1m0 5v1m0 16v1m0 8v1M91.5 86v1m0 31v1m0 56v1m0 4v1m0 3v1m0 31v1m0 71v1m0 3v1m0 5v1m0 2v1m0 10v1m0 1v1m0 2v1M92.5 108v1M93.5 34v1m0 81v1m0 29v1m0 46v1m0 131v1m0 66v1M94.5 96v1m0 85v1m0 1v1m0 43v2m0 5v3m0 2v1m0 4v3m0 6v1m0 1v1m0 4v1m0 6v2M96.5 17v2m0 1v1m0 15v1m0 3v1m0 15v1m0 5v1m0 37v2m0 35v1m0 2v3m0 37v2m0 15v1m0 18v1m0 4v1m0 14v1m0 1v1m0 21v3m0 12v1m0 2v1m0 18v1m0 16v1m0 24v1m0 14v1m0 3v1m0 1v1m0 31v1M97.5 372v1m0 19v1M98.5 66v1m0 325v1M101.5 339v1M102.5 138v1m0 70v1m0 165v1M105.5 7v1m0 311v1M106.5 22v1m0 1v1m0 12v1m0 155v1m0 15v1m0 63v1m0 70v1M107.5 391v1M108.5 93v1m0 76v1m0 172v1m0 50v1M110.5 391v1M111.5 102v1m0 196v1M115.5 391v1M119.5 394v1M123.5 187v1M125.5 94v1M135.5 43v1m0 114v1m0 47v1m0 111v1m0 73v1M145.5 89v1m0 50v1m0 10v1M150.5 78v1m0 73v1M155.5 391v1"/>
<path stroke="#3d4d8a" d="M5.5 392v2M6.5 60v1m0 332v1M8.5 404v1M9.5 395v1M10.5 266v1m0 2v1M12.5 123v1m0 280v1M13.5 360v1m0 8v1m0 11v1m0 8v1M14.5 394v2M16.5 393v1M18.5 3v2m0 5v2m0 4v2m0 9v1m0 364v1M19.5 47v1m0 198v1M20.5 39v1m0 2v1m0 32v1m0 17v1m0 298v1m0 1v1M22.5 111v1M24.5 201v1m0 13v2m0 8v1m0 78v1M25.5 94v1m0 142v1m0 3v1m0 41v1M26.5 164v1m0 102v1m0 47v2m0 55v1m0 5v1M27.5 97v1m0 5v1m0 6v1m0 6v1m0 218v1m0 5v1M28.5 317v1m0 74v1M29.5 128v2M31.5 394v1M32.5 28v1m0 2v1m0 119v1m0 240v2M35.5 106v4m0 28v1m0 4v1m0 1v1M36.5 85v4m0 1v2m0 1v1m0 1v2m0 7v1m0 2v1m0 9v1m0 1v1M37.5 78v1m0 43v1M39.5 169v2m0 5v1M40.5 173v1m0 2v1M41.5 330v1m0 37v1M42.5 176v2m0 122v1M43.5 179v1m0 3v1m0 1v1m0 208v2M44.5 144v1M45.5 92v1m0 69v2m0 1v2M47.5 395v1M48.5 1v1M50.5 392v1M53.5 81v1m0 313v1M56.5 53v1m0 274v1m0 65v1M58.5 143v1m0 2v1m0 16v1m0 6v1m0 5v1m0 1v2m0 6v1m0 2v2m0 3v1m0 1v1M59.5 395v1M60.5 392v1M61.5 202v1m0 9v1m0 3v1m0 174v1m0 3v1M62.5 25v1m0 369v1M63.5 262v1m0 41v1M65.5 18v1M70.5 392v1M71.5 134v1M74.5 60v1m0 57v1m0 192v1M76.5 393v1M77.5 393v1M82.5 21v1m0 157v1m0 212v1m0 1v1M83.5 38v1M85.5 143v1m0 247v1M86.5 362v1m0 2v1m0 7v1m0 1v1m0 5v1M88.5 392v1M90.5 73v1m0 79v1m0 3v1m0 59v1m0 2v1m0 10v3M91.5 228v1m0 67v1m0 2v1m0 4v1m0 5v1m0 2v1m0 1v2M92.5 394v1M93.5 43v1M94.5 189v1m0 33v1m0 1v1m0 12v1m0 4v1m0 4v1m0 3v1m0 5v1m0 6v1M96.5 19v1m0 96v1m0 22v1m0 134v1m0 23v1m0 1v1m0 17v1m0 40v1m0 33v2M101.5 312v1M103.5 394v1M106.5 157v1m0 49v1M109.5 392v1M111.5 394v1M113.5 394v1M123.5 394v1M140.5 391v1M150.5 392v1"/>
<path stroke="#39568c" d="M6.5 392v1m0 11v1M7.5 403v2M10.5 267v1M12.5 207v1m0 1v2m0 128v1m0 7v1M13.5 208v2m0 163v1m0 3v1m0 2v1m0 1v1m0 4v1m0 3v1M16.5 204v2M17.5 202v1M18.5 12v2m0 1v1m0 8v1M19.5 38v2m0 352v1M20.5 56v2m0 5v1m0 1v1m0 3v1m0 4v1m0 3v1m0 2v1m0 4v1M21.5 100v1M22.5 115v2m0 1v2M23.5 180v1m0 3v1m0 2v1m0 204v2M24.5 174v3m0 28v1m0 16v1m0 170v2M25.5 234v1m0 4v1m0 48v1m0 106v1M26.5 309v1m0 4v1m0 3v2m0 53v1m0 9v1M27.5 392v1m0 1v1M29.5 130v2M30.5 393v1M32.5 34v1m0 1v1m0 112v1M34.5 395v1M35.5 105v1m0 4v1m0 12v2m0 15v1M36.5 84v1m0 7v1m0 5v1m0 30v1m0 1v1m0 6v1m0 255v1M37.5 121v1m0 1v1m0 1v1m0 204v1m0 61v1M39.5 173v1m0 1v1m0 1v1M41.5 392v2M43.5 181v2m0 3v1M44.5 182v1M45.5 158v1m0 2v1M48.5 70v1M49.5 394v1M54.5 394v2M56.5 395v1M57.5 395v1M58.5 140v1m0 14v1m0 1v1m0 14v1m0 4v1m0 2v1m0 12v1m0 3v2m0 195v2M61.5 204v1m0 2v1m0 5v1M64.5 48v1M69.5 392v1M70.5 405v1M71.5 394v1M72.5 393v1M77.5 394v1M86.5 364v1M90.5 166v1m0 59v1m0 12v1M91.5 119v1m0 167v1m0 3v1m0 2v1m0 5v1m0 10v1M92.5 392v2M93.5 394v1M94.5 221v1m0 20v1m0 8v1m0 3v1m0 11v1M95.5 392v1m0 1v1M96.5 119v1m0 59v1m0 116v1m0 23v1m0 16v1M98.5 393v1M101.5 391v1M105.5 391v1M106.5 392v1m0 1v1M107.5 395v1M121.5 392v1M150.5 395v1"/>
<path stroke="#355f8d" d="M10.5 404v1M11.5 315v1m0 2v1M12.5 203v1m0 2v1m0 1v1M13.5 205v2m0 163v2m0 3v2m0 2v1m0 6v1m0 2v1M15.5 393v1M17.5 203v1m0 2v1M18.5 1v2m0 27v1M19.5 42v1m0 2v1m0 3v2m0 147v2M20.5 59v1m0 4v1m0 3v1m0 2v2m0 4v1m0 1v1m0 4v1M21.5 101v2m0 291v1M22.5 117v1M23.5 181v1m0 1v1m0 1v2m0 1v1M24.5 210v1m0 1v1m0 182v1M25.5 285v1M26.5 310v1m0 68v1m0 1v1M29.5 393v2M30.5 392v1M32.5 33v1m0 118v1M33.5 149v1m0 243v1m0 11v1M35.5 122v1m0 2v1m0 1v1m0 4v1m0 6v1M36.5 100v3m0 5v2m0 6v1m0 19v2m0 257v1M38.5 405v1M39.5 172v1M40.5 164v2m0 228v1M41.5 405v1M42.5 405v1M44.5 181v1m0 2v1M45.5 159v1m0 234v1M46.5 395v1M47.5 393v1M49.5 393v1M52.5 393v1M55.5 394v1m0 10v1M58.5 136v1m0 13v1m0 9v2m0 12v1m0 16v1m0 3v1m0 3v1m0 205v1M59.5 393v1M61.5 203v1m0 1v1m0 2v2m0 7v1m0 175v2M63.5 393v1M64.5 393v1M67.5 392v1M68.5 394v1M71.5 393v1M73.5 393v1M75.5 392v2M76.5 395v1M78.5 394v1M79.5 332v1M80.5 392v3M81.5 392v1M82.5 393v1m0 11v1M86.5 366v1M87.5 394v1M90.5 394v1M91.5 100v1m0 208v1M93.5 395v1M94.5 222v1m0 30v1m0 6v1m0 1v1M99.5 395v1M105.5 394v1M107.5 394v1M108.5 405v1M110.5 394v1M113.5 392v1m0 2v1M117.5 394v1M121.5 405v1M125.5 392v1m0 1v2M155.5 394v1m0 10v1"/>
<path stroke="#31688e" d="M11.5 323v3M12.5 202v1m0 1v1m0 145v1M13.5 207v1m0 151v1m0 3v3M14.5 200v1M16.5 193v2M17.5 195v1m0 1v2m0 5v2M18.5 8v2m0 384v1M19.5 40v1m0 3v1m0 348v1M20.5 76v1m0 5v2M21.5 103v2m0 288v1m0 1v1M23.5 172v2m0 8v1m0 222v1M24.5 213v1m0 6v1M25.5 282v1M26.5 155v2m0 22v2m0 1v1m0 128v1m0 8v1m0 49v1M31.5 393v1M32.5 37v1m0 117v1m0 1v2M33.5 146v3M34.5 393v1M35.5 126v1m0 1v4m0 261v1M36.5 105v1m0 26v1M40.5 166v2m0 6v1m0 218v1M42.5 180v1m0 1v1M44.5 175v1m0 9v2m0 206v1M46.5 393v1M47.5 405v1M50.5 393v1M52.5 392v1M53.5 392v1M54.5 405v1M56.5 392v1M60.5 393v1M61.5 214v1M64.5 47v1m0 347v1M67.5 393v1M68.5 392v1m0 2v1m0 9v1M71.5 392v1m0 12v1M75.5 405v1M84.5 405v1M86.5 392v1M87.5 392v1M91.5 303v1m0 101v1M94.5 231v1m0 163v1M95.5 405v1M97.5 394v1M99.5 405v1M101.5 392v1M104.5 394v1M106.5 393v1M113.5 393v1M117.5 392v1M119.5 405v1M121.5 394v1M150.5 393v1"/>
<path stroke="#2d708e" d="M11.5 311v4m0 2v1m0 1v2m0 1v1M12.5 205v1m0 126v1m0 5v1m0 1v1M13.5 216v1m0 144v1m0 4v2m0 10v1m0 5v1M14.5 199v1m0 205v1M15.5 200v1m0 204v1M17.5 196v1m0 208v1M18.5 14v1m0 5v1m0 10v1M20.5 85v1m0 2v1M22.5 125v1M23.5 174v1M24.5 218v1M25.5 275v1m0 1v1m0 1v2M26.5 157v1m0 1v1m0 21v1m0 139v1M27.5 393v1M31.5 392v1M32.5 35v1m0 120v1M33.5 144v1M35.5 133v1M36.5 106v1M39.5 395v1M40.5 175v1m0 229v1M41.5 395v1M42.5 179v1M44.5 174v1m0 1v1m0 1v1m0 4v1M45.5 393v1M46.5 405v1M47.5 394v1M48.5 393v1M54.5 392v1M56.5 405v1M60.5 394v1M61.5 210v2M62.5 392v1m0 12v1M66.5 393v1M67.5 405v1M68.5 393v1M69.5 395v1M70.5 394v1M76.5 394v1M78.5 392v1M79.5 392v1M80.5 395v1M85.5 392v1M86.5 393v1M88.5 393v1M90.5 148v1M91.5 392v1m0 2v1M93.5 393v1M95.5 393v1M97.5 395v1M100.5 405v1M104.5 392v1M105.5 393v1M107.5 393v1M115.5 394v1M121.5 393v1M125.5 393v1M145.5 393v1M150.5 394v1"/>
<path stroke="#2a788e" d="M11.5 316v1M12.5 333v2m0 2v1m0 11v1M13.5 213v3m0 146v1m0 5v1M14.5 211v1M15.5 201v1m0 193v1M16.5 199v1M18.5 18v1m0 13v2m0 159v3m0 1v2M19.5 37v1m0 10v1M20.5 66v2m0 117v5M21.5 105v3m0 73v1m0 1v1M22.5 405v1M25.5 163v1m0 2v1m0 122v1m0 115v1M26.5 158v1m0 154v1m0 81v1M27.5 395v1M31.5 395v1M33.5 142v1M35.5 141v2M40.5 169v2M42.5 170v1m0 3v1M44.5 177v1m0 2v1M45.5 395v1M55.5 392v1M66.5 405v1M73.5 405v1M74.5 395v1M81.5 395v1M84.5 394v1M89.5 405v1M91.5 393v1M99.5 392v3M101.5 394v1M102.5 392v1m0 1v1m0 10v1M103.5 392v1M110.5 392v2M111.5 405v1M115.5 405v1M140.5 405v1M145.5 405v1"/>
<path stroke="#27808e" d="M11.5 321v1M12.5 335v1m0 6v3m0 1v1m0 1v1M13.5 200v1m0 171v1M14.5 212v2M15.5 210v1M16.5 13v1m0 1v1m0 182v1m0 1v1m0 204v1M18.5 6v1m0 189v1M19.5 41v1m0 353v1M20.5 58v1m0 3v1m0 24v1M21.5 182v1m0 1v1M22.5 122v2m0 2v1M23.5 175v2M24.5 170v1M25.5 160v1m0 3v2m0 112v1m0 2v1m0 4v2M31.5 405v1M32.5 153v1m0 241v1m0 9v1M33.5 143v1M36.5 97v1m0 12v1m0 3v2m0 18v2m0 269v1M42.5 171v2m0 2v1m0 5v1M44.5 395v1M48.5 405v1M53.5 393v1M54.5 393v1M60.5 395v1M67.5 395v1M69.5 393v1M74.5 405v1M75.5 395v1M77.5 395v1m0 9v1M83.5 393v1M90.5 405v1M93.5 405v1M94.5 405v1M100.5 392v1m0 1v1M103.5 393v1M104.5 393v1M107.5 392v1M109.5 395v1M115.5 395v1M123.5 393v1M130.5 392v1m0 1v1"/>
<path stroke="#23888e" d="M7.5 396v1M12.5 217v1m0 118v1M13.5 201v1M15.5 211v1M16.5 12v1m0 1v1M17.5 393v1M18.5 7v1m0 13v3m0 369v1M20.5 61v1m0 8v1m0 334v1M22.5 124v1M23.5 178v1m0 216v1M24.5 167v1m0 43v1M25.5 158v2m0 1v2m0 113v1m0 7v1M26.5 317v1M27.5 405v1M35.5 405v1M36.5 94v1m0 4v1m0 12v1m0 20v1M40.5 168v1M42.5 169v1m0 3v1M44.5 179v1m0 225v1M50.5 405v1M51.5 405v1M57.5 393v1M59.5 405v1M60.5 405v1M61.5 405v1M64.5 405v1M70.5 393v1M83.5 405v1M84.5 392v1M85.5 393v2M92.5 395v1m0 9v1M100.5 393v1M103.5 395v1M108.5 392v2M130.5 395v1M145.5 395v1"/>
<path stroke="#21918c" d="M12.5 218v1m0 122v1m0 3v1M15.5 209v1M16.5 206v1M20.5 60v1m0 12v1M22.5 121v1M23.5 177v1M24.5 166v1m0 1v2m0 1v3m0 43v1m0 1v1M26.5 405v1M32.5 154v1M36.5 89v1m0 21v1M52.5 405v1M59.5 392v1M62.5 393v1M72.5 405v1M76.5 405v1M78.5 393v1m0 11v1M85.5 405v1M88.5 405v1M96.5 405v1M98.5 395v1M103.5 405v1M105.5 392v1M106.5 405v1M110.5 395v1M117.5 393v1M121.5 395v1M123.5 392v1m0 2v1M150.5 405v1"/>
<path stroke="#1f988b" d="M12.5 216v1M18.5 405v1M21.5 186v3M22.5 181v2M30.5 395v1M33.5 395v1M34.5 405v1M36.5 113v1M49.5 405v1M51.5 393v1M53.5 405v1M80.5 405v1M85.5 395v1M86.5 405v1M87.5 393v1m0 1v1M101.5 405v1M105.5 405v1M109.5 393v1m0 11v1M110.5 405v1M111.5 392v1M115.5 393v1M119.5 392v2m0 1v1M123.5 405v1M140.5 394v1M155.5 395v1"/>
<path stroke="#1fa188" d="M12.5 403v1M13.5 405v1M16.5 208v1M21.5 189v1m0 215v1M22.5 179v2M24.5 405v1M28.5 405v1M43.5 405v1M55.5 393v1M57.5 405v1M70.5 395v1M115.5 392v1M135.5 393v1m0 1v1M140.5 392v2M155.5 392v2"/>
<path stroke="#22a884" d="M16.5 207v1M19.5 405v1M45.5 405v1M52.5 395v1M63.5 405v1M69.5 405v1M98.5 405v1M101.5 393v1M130.5 393v1"/>
<path stroke="#2ab07f" d="M10.5 403v1M19.5 196v1M29.5 405v1M39.5 405v1M65.5 405v1M81.5 405v1M84.5 393v1m0 1v1M87.5 405v1M88.5 395v1M97.5 405v1M101.5 395v1M104.5 405v1M105.5 395v1M111.5 393v1m0 1v1M113.5 405v1M117.5 405v1M125.5 405v1M135.5 405v1"/>
<path stroke="#35b779" d="M5.5 396v1m0 6v1M6.5 403v1M7.5 402v1M8.5 403v1M19.5 194v1m0 2v1M20.5 192v1M25.5 404v1M30.5 405v1M37.5 405v1M55.5 395v1M79.5 405v1M87.5 404v1M100.5 395v1M106.5 395v1M107.5 405v1M108.5 395v1M109.5 404v1M113.5 404v1M123.5 404v1M130.5 405v1"/>
<path stroke="#44bf70" d="M19.5 195v1M20.5 190v2m0 1v1M61.5 404v1M76.5 404v1M84.5 404v1M86.5 395v1M102.5 393v1M103.5 404v1M117.5 395v1M121.5 404v1M150.5 404v1"/>
<path stroke="#54c568" d="M17.5 404v1M45.5 404v1M58.5 404v1M60.5 404v1M75.5 404v1M104.5 404v1M105.5 404v1M130.5 404v1M140.5 395v1"/>
<path stroke="#67cc5c" d="M9.5 403v1M11.5 403v1M14.5 404v1M26.5 404v1M92.5 404v1M100.5 404v1M102.5 395v1M104.5 395v1"/>
<path stroke="#7ad151" d="M32.5 404v1M39.5 404v1M44.5 404v1M71.5 404v1M74.5 404v1M119.5 404v1"/>
<path stroke="#90d743" d="M18.5 200v2M36.5 404v1M38.5 404v1M54.5 404v1M69.5 404v1M78.5 404v1M91.5 404v1M95.5 404v1M110.5 404v1M155.5 404v1"/>
<path stroke="#a5db36" d="M19.5 404v1M27.5 404v1M46.5 404v1M83.5 404v1M86.5 404v1M102.5 404v1"/>
<path stroke="#bddf26" d="M18.5 199v1M47.5 404v1M65.5 404v1M85.5 404v1M117.5 404v1"/>
<path stroke="#d2e21b" d="M40.5 404v1M107.5 404v1"/>
<path stroke="#fde725" d="M5.5 397v6M6.5 396v7M7.5 397v5M8.5 396v7M9.5 396v7M10.5 396v7M11.5 396v7M12.5 396v7M13.5 396v9M14.5 396v8M15.5 396v9M16.5 396v9M17.5 396v8M18.5 396v9M19.5 396v8M20.5 396v9M21.5 396v9M22.5 396v9M23.5 396v9M24.5 396v9M25.5 396v8M26.5 396v8M27.5 396v8M28.5 396v9M29.5 396v9M30.5 396v9M31.5 396v9M32.5 396v8M33.5 396v9M34.5 396v9M35.5 396v9M36.5 396v8M37.5 396v9M38.5 396v8M39.5 396v8M40.5 396v8M41.5 396v9M42.5 396v9M43.5 396v9M44.5 396v8M45.5 396v8M46.5 396v8M47.5 396v8M48.5 396v9M49.5 396v9M50.5 396v9M51.5 396v9M52.5 396v9M53.5 396v9M54.5 396v8M55.5 396v9M56.5 396v9M57.5 396v9M58.5 396v8M59.5 396v9M60.5 396v8M61.5 396v8M62.5 396v9M63.5 396v9M64.5 396v9M65.5 396v8M66.5 396v9M67.5 396v9M68.5 396v9M69.5 396v8M70.5 396v9M71.5 396v8M72.5 396v9M73.5 396v9M74.5 396v8M75.5 396v8M76.5 396v8M77.5 396v9M78.5 396v8M79.5 396v9M80.5 396v9M81.5 396v9M82.5 396v9M83.5 396v8M84.5 396v8M85.5 396v8M86.5 396v8M87.5 396v8M88.5 396v9M89.5 396v9M90.5 396v9M91.5 396v8M92.5 396v8M93.5 396v9M94.5 396v9M95.5 396v8M96.5 396v9M97.5 396v9M98.5 396v9M99.5 396v9M100.5 396v8M101.5 396v9M102.5 396v8M103.5 396v8M104.5 396v8M105.5 396v8M106.5 396v9M107.5 396v8M108.5 396v9M109.5 396v8M110.5 396v8M111.5 396v9M113.5 396v8M115.5 396v9M117.5 396v8M119.5 396v8M121.5 396v8M123.5 396v8M125.5 396v9M130.5 396v8M135.5 396v9M140.5 396v9M145.5 396v9M150.5 396v8M155.5 396v8"/></g></g>
<rect x="1016.5" y="85.5" width="36" height="737" fill="url(#cb)"/>
<path d="M179.5 822.5 L179.5 827.5M287.5 822.5 L287.5 827.5M395.5 822.5 L395.5 827.5M503.5 822.5 L503.5 827.5M611.5 822.5 L611.5 827.5M719.5 822.5 L719.5 827.5M827.5 822.5 L827.5 827.5M935.5 822.5 L935.5 827.5M98.5 810.5 L93 810.5M98.5 689.5 L93 689.5M98.5 568.5 L93 568.5M98.5 448.5 L93 448.5M98.5 327.5 L93 327.5M98.5 206.5 L93 206.5M98.5 85.5 L93 85.5M1052.5 822.5 L1057.5 822.5M1052.5 699.5 L1057.5 699.5M1052.5 576.5 L1057.5 576.5M1052.5 454.5 L1057.5 454.5M1052.5 331.5 L1057.5 331.5M1052.5 208.5 L1057.5 208.5M1052.5 85.5 L1057.5 85.5" stroke="#000" stroke-width="1" fill="none" shape-rendering="crispEdges"/>
<rect x="98.5" y="85.5" width="864" height="737" fill="none" stroke="#000" stroke-width="1" shape-rendering="crispEdges"/>
<rect x="1016.5" y="85.5" width="36" height="737" fill="none" stroke="#000" stroke-width="1" shape-rendering="crispEdges"/>
<text x="178.90" y="848.30" font-size="20.83" text-anchor="middle" >2</text>
<text x="286.90" y="848.30" font-size="20.83" text-anchor="middle" >4</text>
<text x="394.90" y="848.30" font-size="20.83" text-anchor="middle" >6</text>
<text x="502.90" y="848.30" font-size="20.83" text-anchor="middle" >8</text>
<text x="610.90" y="848.30" font-size="20.83" text-anchor="middle" >10</text>
<text x="718.90" y="848.30" font-size="20.83" text-anchor="middle" >12</text>
<text x="826.90" y="848.30" font-size="20.83" text-anchor="middle" >14</text>
<text x="934.90" y="848.30" font-size="20.83" text-anchor="middle" >16</text>
<text x="88.10" y="818.40" font-size="20.83" text-anchor="end" >0</text>
<text x="88.10" y="697.40" font-size="20.83" text-anchor="end" >100</text>
<text x="88.10" y="576.40" font-size="20.83" text-anchor="end" >200</text>
<text x="88.10" y="456.40" font-size="20.83" text-anchor="end" >300</text>
<text x="88.10" y="335.40" font-size="20.83" text-anchor="end" >400</text>
<text x="88.10" y="214.40" font-size="20.83" text-anchor="end" >500</text>
<text x="88.10" y="93.40" font-size="20.83" text-anchor="end" >600</text>
<text x="1062.40" y="830.60" font-size="20.83" text-anchor="start" >0</text>
<text x="1062.40" y="707.60" font-size="20.83" text-anchor="start" >5</text>
<text x="1062.40" y="584.60" font-size="20.83" text-anchor="start" >10</text>
<text x="1062.40" y="462.60" font-size="20.83" text-anchor="start" >15</text>
<text x="1062.40" y="339.60" font-size="20.83" text-anchor="start" >20</text>
<text x="1062.40" y="216.60" font-size="20.83" text-anchor="start" >25</text>
<text x="1062.40" y="93.60" font-size="20.83" text-anchor="start" >30</text>
<text x="529.50" y="43.60" font-size="27.78" text-anchor="middle" xml:space="preserve" style="white-space:pre">IRF Uppsala SDR Ionosonde UP158 2026-02-07 18:12:00  UT</text>
<text x="529.10" y="76.00" font-size="27.78" text-anchor="middle" >noise_floor=-114.90 (dB) peak SNR=96.52</text>
<text x="529.50" y="874.00" font-size="20.83" text-anchor="middle" >Frequency (MHz)</text>
<text x="0.00" y="0.00" font-size="20.83" text-anchor="middle" transform="translate(37.5,454.9) rotate(-90)">Virtual range (km)</text>
<text x="0.00" y="0.00" font-size="20.83" text-anchor="middle" transform="translate(1109,454.4) rotate(-90)">SNR (dB)</text>
</svg>
</body></html>
